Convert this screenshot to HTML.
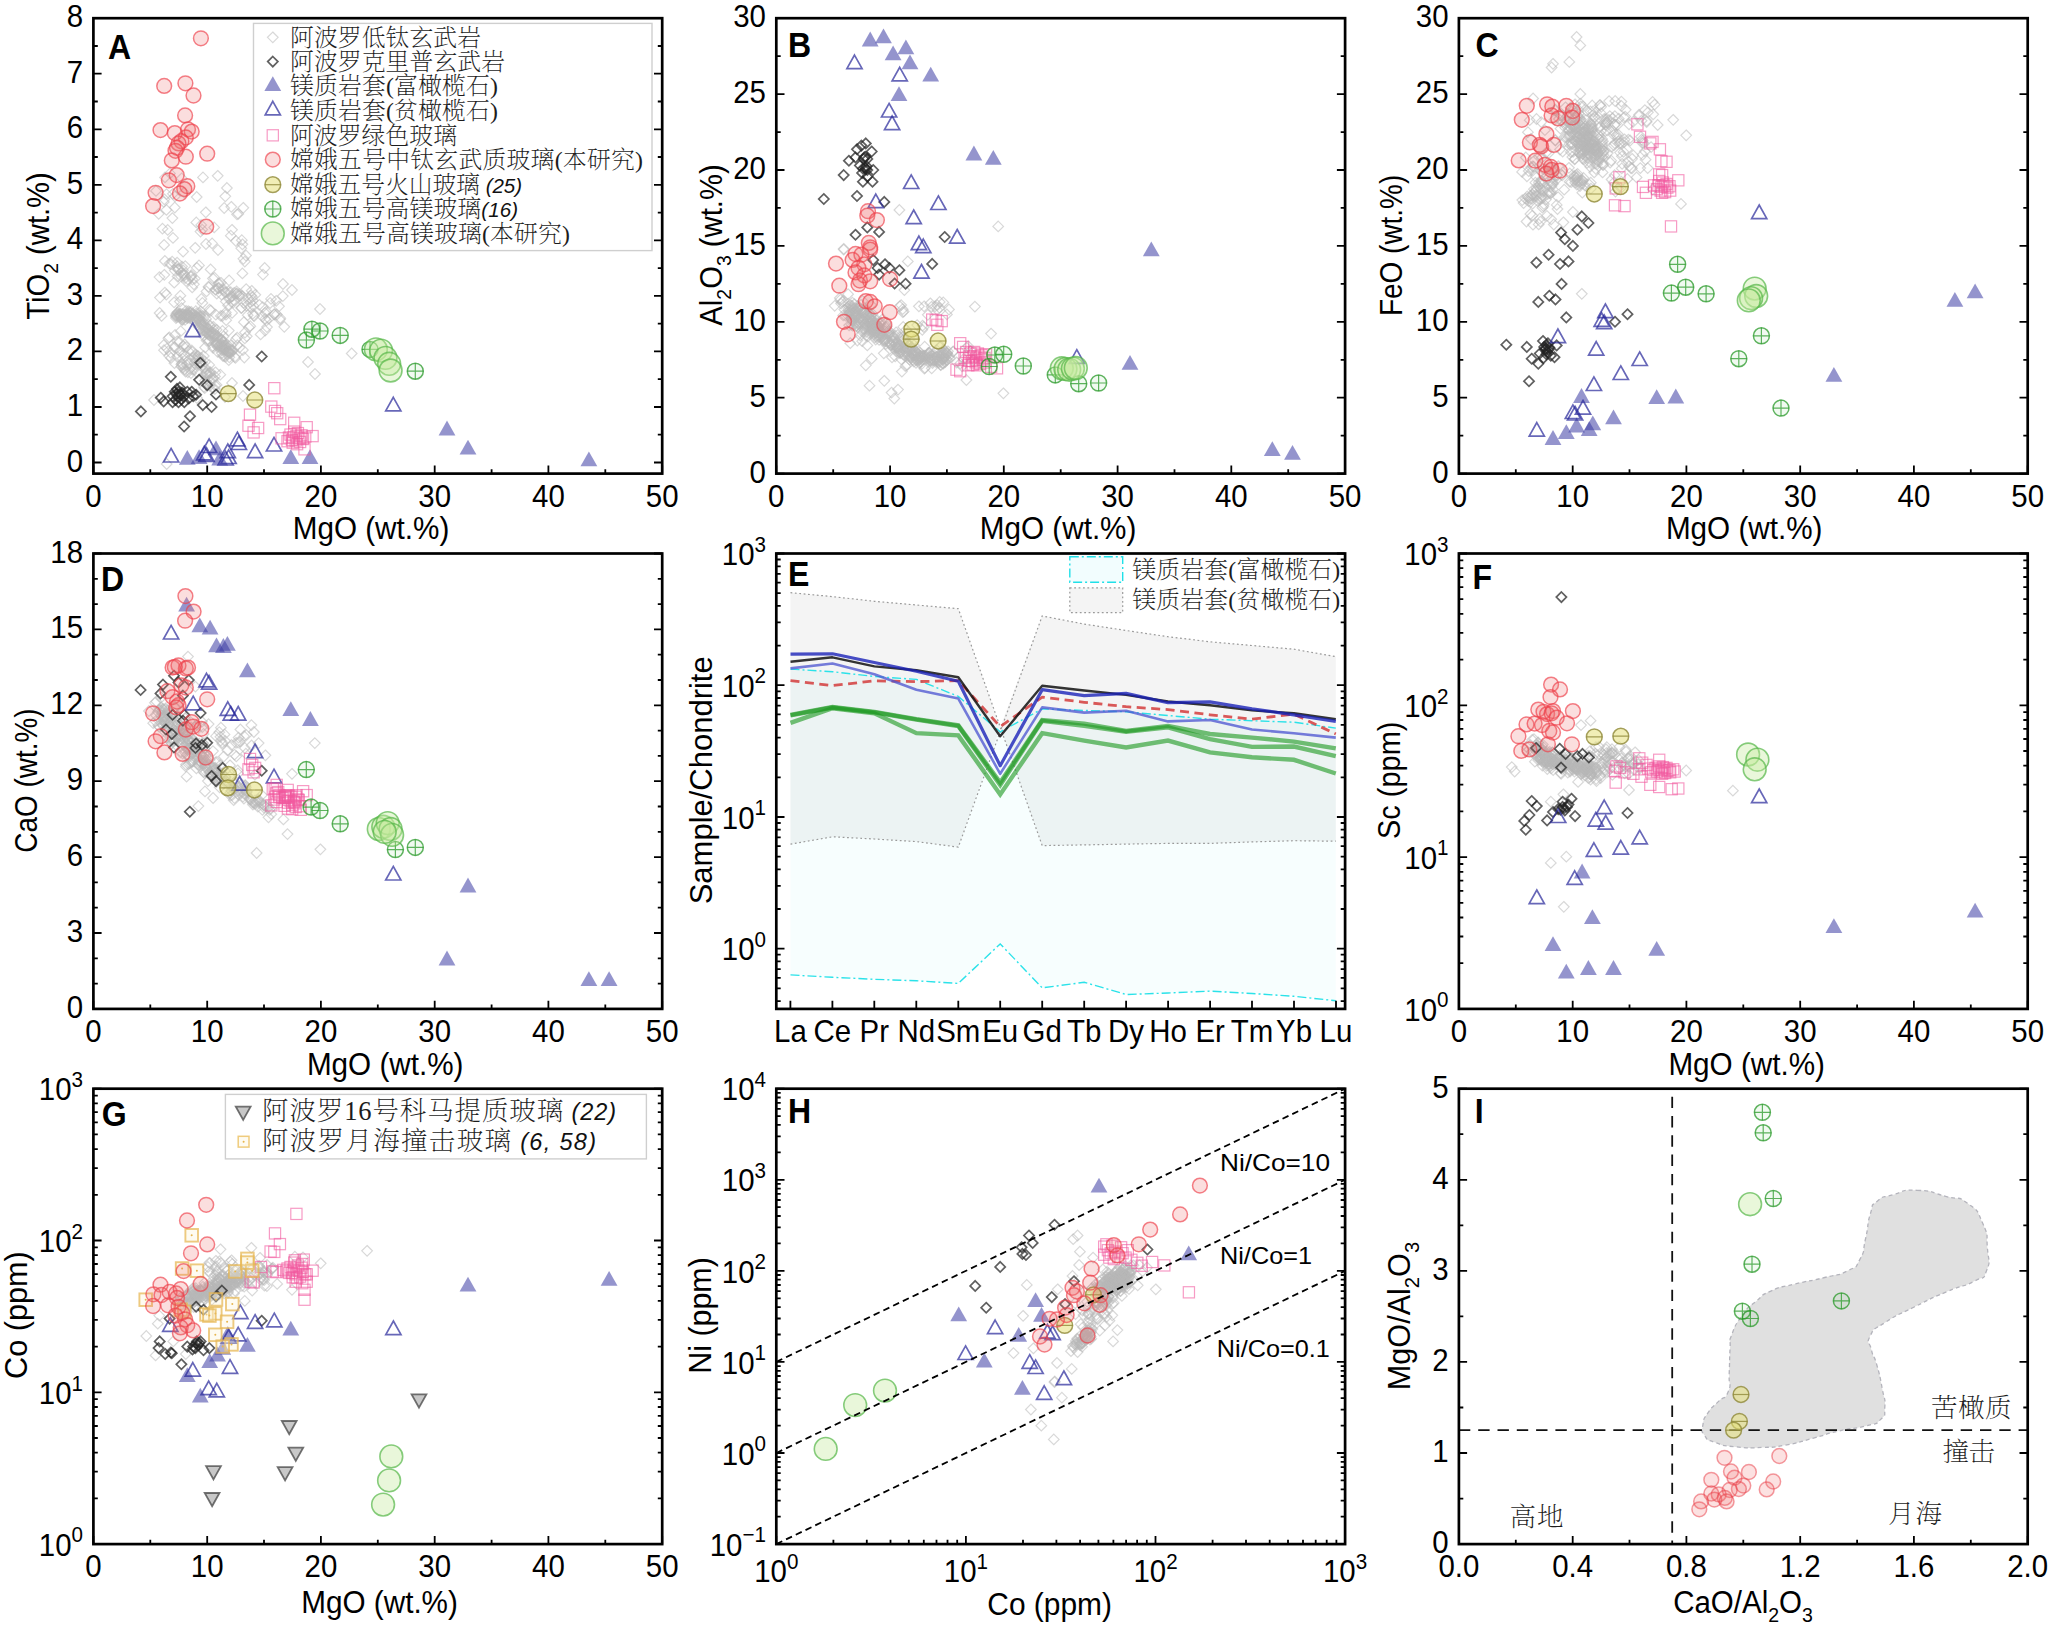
<!DOCTYPE html>
<html lang="zh"><head><meta charset="utf-8"><title>Figure</title>
<style>
html,body{margin:0;padding:0;background:#fff;}
svg{display:block}
.t{font-family:'Liberation Sans', sans-serif;font-size:31.0px;fill:#000}
.t2{font-family:'Liberation Sans', sans-serif;font-size:24.3px;fill:#000}
.L{font-family:'Liberation Sans', sans-serif;font-size:35.6px;font-weight:bold;fill:#000}
.c{font-family:'Liberation Serif', 'Noto Serif CJK SC', serif;font-size:23.8px;font-weight:200;fill:#1c1c1c}
.c2{font-family:'Liberation Serif', 'Noto Serif CJK SC', serif;font-size:26.5px;font-weight:200;fill:#1c1c1c}
.i2{font-family:'Liberation Sans', sans-serif;font-style:italic;font-size:23.5px;fill:#111}
.i{font-family:'Liberation Sans', sans-serif;font-style:italic;font-weight:400;font-size:20.5px;fill:#111}
</style></head><body>
<svg width="2048" height="1628" viewBox="0 0 2048 1628">
<rect width="2048" height="1628" fill="#fff"/>
<defs>
<path id="gd" d="M0-5.3L5.3 0L0 5.3L-5.3 0Z" fill="none" stroke="#b8b8b8" stroke-opacity="0.55" stroke-width="1.2"/>
<path id="dd" d="M0-5.1L5.1 0L0 5.1L-5.1 0Z" fill="none" stroke="#222" stroke-opacity="0.72" stroke-width="1.7"/>
<path id="ot" d="M0-9L7.6 4.6L-7.6 4.6Z" fill="none" stroke="#26269a" stroke-opacity="0.7" stroke-width="1.7"/>
<path id="ft" d="M0-9.6L8.4 5.2L-8.4 5.2Z" fill="#3c3ca4" fill-opacity="0.55" stroke="none"/>
<rect id="ps" x="-5.6" y="-5.6" width="11.2" height="11.2" fill="none" stroke="#f2589f" stroke-opacity="0.6" stroke-width="1.2"/>
<circle id="rc" r="7.4" fill="#ee6a6a" fill-opacity="0.22" stroke="#ee3f4a" stroke-opacity="0.66" stroke-width="1.5"/>
<g id="oc"><circle r="7.9" fill="#e6e07a" fill-opacity="0.55" stroke="#8f8838" stroke-opacity="0.8" stroke-width="1.5"/><path d="M-7.9 0H7.9" stroke="#8f8838" stroke-opacity="0.8" stroke-width="1.2"/></g>
<g id="gp"><circle r="8" fill="#8fd88f" fill-opacity="0.12" stroke="#2a9a2a" stroke-opacity="0.75" stroke-width="1.5"/><path d="M-8 0H8M0-8V8" stroke="#2a9a2a" stroke-opacity="0.75" stroke-width="1.2"/></g>
<circle id="rc2" r="7.4" fill="#ee6a6a" fill-opacity="0.2" stroke="#e93a44" stroke-opacity="0.5" stroke-width="1.5"/>
<circle id="bg" r="11.4" fill="#c6ea9e" fill-opacity="0.38" stroke="#55b648" stroke-opacity="0.7" stroke-width="1.6"/>
<path id="dt" d="M0 8.2L7.4-5L-7.4-5Z" fill="#9a9a9a" fill-opacity="0.55" stroke="#444" stroke-opacity="0.75" stroke-width="1.8"/>
<g id="ys"><rect x="-6.3" y="-6.3" width="12.6" height="12.6" fill="#fbf3d0" fill-opacity="0.3" stroke="#e6b650" stroke-opacity="0.72" stroke-width="1.9"/><circle r="1" fill="#e6b650"/></g>
<g id="ysl"><rect x="-5.4" y="-5.4" width="10.8" height="10.8" fill="#fbf3d0" fill-opacity="0.3" stroke="#e8b64a" stroke-opacity="0.7" stroke-width="1.5"/><circle r="1" fill="#e8b64a"/></g>
</defs>
<clipPath id="cpA"><rect x="93.4" y="18.2" width="568.8" height="455.4"/></clipPath><g clip-path="url(#cpA)">
<use href="#gd" x="196.3" y="222.4"/><use href="#gd" x="238.3" y="213.9"/><use href="#gd" x="201.2" y="224.9"/><use href="#gd" x="172.4" y="218.1"/><use href="#gd" x="212.1" y="243.4"/><use href="#gd" x="164.4" y="199.3"/><use href="#gd" x="164.1" y="244.9"/><use href="#gd" x="217.7" y="175.8"/><use href="#gd" x="243.4" y="258.8"/><use href="#gd" x="214.2" y="227.4"/><use href="#gd" x="170.0" y="173.4"/><use href="#gd" x="203.0" y="177.4"/><use href="#gd" x="172.9" y="193.8"/><use href="#gd" x="158.7" y="213.8"/><use href="#gd" x="195.2" y="247.8"/><use href="#gd" x="202.2" y="229.6"/><use href="#gd" x="200.5" y="231.6"/><use href="#gd" x="196.7" y="197.0"/><use href="#gd" x="244.8" y="261.6"/><use href="#gd" x="230.8" y="235.7"/><use href="#gd" x="184.1" y="192.7"/><use href="#gd" x="181.7" y="178.3"/><use href="#gd" x="224.2" y="208.0"/><use href="#gd" x="231.3" y="206.8"/><use href="#gd" x="241.3" y="248.3"/><use href="#gd" x="156.0" y="190.9"/><use href="#gd" x="237.0" y="214.3"/><use href="#gd" x="243.3" y="207.8"/><use href="#gd" x="162.5" y="228.7"/><use href="#gd" x="225.3" y="196.3"/><use href="#gd" x="163.8" y="201.9"/><use href="#gd" x="241.8" y="240.2"/><use href="#gd" x="166.5" y="194.2"/><use href="#gd" x="165.0" y="177.4"/><use href="#gd" x="226.9" y="188.0"/><use href="#gd" x="205.8" y="212.3"/><use href="#gd" x="173.0" y="237.9"/><use href="#gd" x="167.7" y="229.9"/><use href="#gd" x="166.4" y="209.9"/><use href="#gd" x="174.9" y="196.3"/><use href="#gd" x="242.4" y="244.3"/><use href="#gd" x="183.1" y="251.6"/><use href="#gd" x="174.8" y="207.5"/><use href="#gd" x="232.0" y="229.8"/><use href="#gd" x="164.9" y="261.0"/><use href="#gd" x="177.6" y="276.5"/><use href="#gd" x="229.1" y="280.4"/><use href="#gd" x="185.3" y="266.1"/><use href="#gd" x="166.3" y="294.6"/><use href="#gd" x="180.4" y="295.7"/><use href="#gd" x="192.2" y="287.4"/><use href="#gd" x="246.2" y="289.1"/><use href="#gd" x="210.9" y="310.5"/><use href="#gd" x="174.8" y="270.6"/><use href="#gd" x="241.6" y="307.8"/><use href="#gd" x="181.0" y="272.6"/><use href="#gd" x="226.0" y="314.7"/><use href="#gd" x="176.1" y="315.2"/><use href="#gd" x="239.2" y="295.8"/><use href="#gd" x="196.8" y="267.8"/><use href="#gd" x="161.6" y="315.9"/><use href="#gd" x="179.9" y="301.5"/><use href="#gd" x="181.6" y="308.1"/><use href="#gd" x="212.9" y="278.4"/><use href="#gd" x="174.1" y="302.3"/><use href="#gd" x="164.3" y="274.8"/><use href="#gd" x="209.5" y="309.7"/><use href="#gd" x="214.5" y="277.7"/><use href="#gd" x="242.4" y="273.4"/><use href="#gd" x="159.5" y="277.1"/><use href="#gd" x="199.0" y="265.4"/><use href="#gd" x="174.2" y="282.7"/><use href="#gd" x="210.6" y="269.4"/><use href="#gd" x="191.3" y="311.9"/><use href="#gd" x="248.2" y="298.8"/><use href="#gd" x="221.6" y="294.7"/><use href="#gd" x="170.9" y="264.0"/><use href="#gd" x="159.6" y="313.0"/><use href="#gd" x="222.5" y="315.9"/><use href="#gd" x="160.0" y="297.6"/><use href="#gd" x="202.4" y="302.9"/><use href="#gd" x="187.3" y="318.0"/><use href="#gd" x="164.9" y="292.6"/><use href="#gd" x="225.8" y="312.4"/><use href="#gd" x="225.8" y="301.4"/><use href="#gd" x="192.4" y="279.6"/><use href="#gd" x="191.4" y="275.2"/><use href="#gd" x="182.0" y="266.6"/><use href="#gd" x="183.4" y="273.4"/><use href="#gd" x="184.5" y="274.6"/><use href="#gd" x="191.1" y="276.4"/><use href="#gd" x="186.2" y="281.2"/><use href="#gd" x="181.2" y="276.6"/><use href="#gd" x="172.2" y="261.6"/><use href="#gd" x="184.1" y="275.8"/><use href="#gd" x="185.1" y="278.2"/><use href="#gd" x="193.9" y="284.3"/><use href="#gd" x="177.2" y="266.5"/><use href="#gd" x="177.1" y="262.6"/><use href="#gd" x="183.0" y="270.3"/><use href="#gd" x="188.1" y="279.5"/><use href="#gd" x="194.8" y="278.6"/><use href="#gd" x="178.3" y="269.0"/><use href="#gd" x="169.4" y="263.6"/><use href="#gd" x="190.8" y="276.8"/><use href="#gd" x="178.4" y="269.3"/><use href="#gd" x="177.7" y="269.4"/><use href="#gd" x="190.5" y="316.7"/><use href="#gd" x="200.7" y="316.5"/><use href="#gd" x="183.8" y="317.1"/><use href="#gd" x="177.2" y="312.9"/><use href="#gd" x="184.9" y="315.8"/><use href="#gd" x="179.9" y="316.3"/><use href="#gd" x="197.9" y="318.2"/><use href="#gd" x="176.3" y="314.1"/><use href="#gd" x="190.2" y="312.9"/><use href="#gd" x="200.3" y="315.4"/><use href="#gd" x="189.0" y="316.8"/><use href="#gd" x="188.5" y="314.9"/><use href="#gd" x="181.6" y="319.5"/><use href="#gd" x="186.9" y="313.8"/><use href="#gd" x="188.3" y="311.1"/><use href="#gd" x="182.8" y="314.4"/><use href="#gd" x="176.9" y="317.1"/><use href="#gd" x="197.4" y="319.2"/><use href="#gd" x="200.7" y="311.1"/><use href="#gd" x="187.6" y="315.1"/><use href="#gd" x="196.5" y="313.5"/><use href="#gd" x="196.2" y="321.9"/><use href="#gd" x="204.6" y="316.5"/><use href="#gd" x="194.4" y="321.7"/><use href="#gd" x="197.8" y="317.7"/><use href="#gd" x="184.0" y="315.1"/><use href="#gd" x="193.7" y="317.3"/><use href="#gd" x="179.1" y="314.6"/><use href="#gd" x="185.7" y="315.0"/><use href="#gd" x="176.7" y="315.7"/><use href="#gd" x="195.8" y="311.2"/><use href="#gd" x="190.3" y="316.2"/><use href="#gd" x="180.5" y="315.9"/><use href="#gd" x="193.3" y="314.4"/><use href="#gd" x="196.1" y="316.0"/><use href="#gd" x="189.6" y="311.9"/><use href="#gd" x="186.1" y="310.9"/><use href="#gd" x="188.6" y="315.8"/><use href="#gd" x="187.0" y="316.5"/><use href="#gd" x="180.7" y="315.5"/><use href="#gd" x="188.0" y="313.3"/><use href="#gd" x="188.9" y="315.6"/><use href="#gd" x="185.1" y="319.8"/><use href="#gd" x="199.7" y="319.7"/><use href="#gd" x="176.0" y="318.0"/><use href="#gd" x="197.4" y="317.2"/><use href="#gd" x="177.6" y="312.3"/><use href="#gd" x="180.3" y="315.6"/><use href="#gd" x="182.4" y="320.0"/><use href="#gd" x="182.9" y="319.1"/><use href="#gd" x="179.5" y="314.8"/><use href="#gd" x="189.8" y="318.2"/><use href="#gd" x="188.0" y="317.5"/><use href="#gd" x="185.9" y="316.1"/><use href="#gd" x="179.7" y="313.6"/><use href="#gd" x="192.3" y="313.8"/><use href="#gd" x="198.9" y="320.9"/><use href="#gd" x="199.0" y="315.6"/><use href="#gd" x="186.4" y="315.5"/><use href="#gd" x="203.0" y="316.1"/><use href="#gd" x="182.7" y="314.3"/><use href="#gd" x="180.7" y="313.8"/><use href="#gd" x="198.5" y="318.6"/><use href="#gd" x="195.8" y="316.9"/><use href="#gd" x="199.6" y="313.2"/><use href="#gd" x="175.7" y="316.0"/><use href="#gd" x="188.9" y="315.0"/><use href="#gd" x="179.3" y="316.5"/><use href="#gd" x="187.6" y="316.3"/><use href="#gd" x="181.3" y="317.7"/><use href="#gd" x="233.0" y="350.3"/><use href="#gd" x="208.4" y="324.7"/><use href="#gd" x="213.5" y="333.2"/><use href="#gd" x="210.0" y="335.9"/><use href="#gd" x="222.8" y="341.8"/><use href="#gd" x="227.3" y="354.1"/><use href="#gd" x="220.7" y="348.0"/><use href="#gd" x="202.9" y="324.4"/><use href="#gd" x="229.1" y="348.1"/><use href="#gd" x="224.2" y="349.2"/><use href="#gd" x="208.7" y="341.1"/><use href="#gd" x="224.2" y="356.4"/><use href="#gd" x="223.6" y="341.2"/><use href="#gd" x="216.6" y="329.8"/><use href="#gd" x="221.5" y="339.7"/><use href="#gd" x="211.2" y="332.6"/><use href="#gd" x="208.8" y="331.4"/><use href="#gd" x="206.9" y="328.4"/><use href="#gd" x="210.1" y="325.4"/><use href="#gd" x="206.9" y="327.7"/><use href="#gd" x="205.1" y="347.5"/><use href="#gd" x="217.6" y="337.9"/><use href="#gd" x="234.7" y="356.9"/><use href="#gd" x="222.2" y="350.1"/><use href="#gd" x="200.7" y="322.9"/><use href="#gd" x="201.2" y="328.8"/><use href="#gd" x="207.8" y="339.0"/><use href="#gd" x="221.3" y="340.0"/><use href="#gd" x="228.5" y="351.6"/><use href="#gd" x="230.1" y="349.7"/><use href="#gd" x="201.4" y="324.6"/><use href="#gd" x="213.5" y="336.6"/><use href="#gd" x="225.8" y="356.7"/><use href="#gd" x="216.0" y="343.3"/><use href="#gd" x="217.2" y="342.6"/><use href="#gd" x="221.5" y="346.5"/><use href="#gd" x="207.9" y="328.1"/><use href="#gd" x="217.6" y="351.8"/><use href="#gd" x="231.8" y="350.2"/><use href="#gd" x="235.4" y="357.9"/><use href="#gd" x="203.7" y="336.0"/><use href="#gd" x="198.6" y="326.4"/><use href="#gd" x="213.1" y="347.9"/><use href="#gd" x="223.7" y="348.9"/><use href="#gd" x="216.5" y="342.9"/><use href="#gd" x="198.1" y="319.7"/><use href="#gd" x="210.9" y="332.2"/><use href="#gd" x="203.7" y="326.6"/><use href="#gd" x="212.8" y="346.2"/><use href="#gd" x="229.2" y="352.8"/><use href="#gd" x="206.1" y="318.9"/><use href="#gd" x="217.0" y="344.3"/><use href="#gd" x="216.7" y="343.0"/><use href="#gd" x="218.9" y="340.6"/><use href="#gd" x="213.3" y="326.8"/><use href="#gd" x="228.1" y="352.6"/><use href="#gd" x="203.0" y="330.6"/><use href="#gd" x="200.2" y="321.7"/><use href="#gd" x="199.0" y="317.8"/><use href="#gd" x="216.3" y="345.2"/><use href="#gd" x="202.0" y="330.6"/><use href="#gd" x="227.1" y="351.4"/><use href="#gd" x="220.8" y="345.7"/><use href="#gd" x="202.8" y="327.4"/><use href="#gd" x="221.6" y="353.0"/><use href="#gd" x="228.8" y="360.2"/><use href="#gd" x="225.6" y="345.5"/><use href="#gd" x="215.5" y="336.1"/><use href="#gd" x="204.2" y="323.1"/><use href="#gd" x="212.9" y="334.4"/><use href="#gd" x="225.6" y="349.3"/><use href="#gd" x="222.2" y="345.2"/><use href="#gd" x="221.0" y="343.8"/><use href="#gd" x="199.5" y="327.6"/><use href="#gd" x="213.8" y="335.7"/><use href="#gd" x="223.4" y="336.5"/><use href="#gd" x="222.8" y="355.8"/><use href="#gd" x="206.7" y="332.8"/><use href="#gd" x="230.8" y="353.0"/><use href="#gd" x="207.9" y="334.4"/><use href="#gd" x="209.5" y="334.8"/><use href="#gd" x="217.8" y="336.2"/><use href="#gd" x="223.8" y="349.9"/><use href="#gd" x="225.0" y="345.8"/><use href="#gd" x="194.7" y="318.5"/><use href="#gd" x="221.3" y="339.2"/><use href="#gd" x="228.2" y="350.9"/><use href="#gd" x="225.1" y="349.4"/><use href="#gd" x="223.4" y="345.9"/><use href="#gd" x="222.2" y="346.9"/><use href="#gd" x="219.5" y="345.6"/><use href="#gd" x="217.9" y="347.1"/><use href="#gd" x="206.6" y="340.5"/><use href="#gd" x="216.2" y="344.4"/><use href="#gd" x="219.9" y="339.3"/><use href="#gd" x="213.7" y="329.8"/><use href="#gd" x="228.3" y="345.6"/><use href="#gd" x="231.7" y="351.5"/><use href="#gd" x="213.9" y="332.8"/><use href="#gd" x="210.3" y="335.3"/><use href="#gd" x="225.6" y="346.7"/><use href="#gd" x="204.5" y="327.8"/><use href="#gd" x="208.7" y="329.2"/><use href="#gd" x="211.7" y="333.1"/><use href="#gd" x="224.1" y="349.3"/><use href="#gd" x="207.1" y="332.4"/><use href="#gd" x="200.8" y="320.7"/><use href="#gd" x="205.6" y="331.5"/><use href="#gd" x="218.0" y="343.2"/><use href="#gd" x="209.8" y="333.7"/><use href="#gd" x="225.2" y="292.6"/><use href="#gd" x="241.2" y="308.0"/><use href="#gd" x="266.3" y="320.5"/><use href="#gd" x="268.9" y="318.7"/><use href="#gd" x="221.0" y="282.8"/><use href="#gd" x="231.7" y="296.5"/><use href="#gd" x="234.1" y="292.8"/><use href="#gd" x="230.7" y="292.1"/><use href="#gd" x="236.6" y="291.5"/><use href="#gd" x="250.7" y="307.1"/><use href="#gd" x="231.5" y="302.0"/><use href="#gd" x="236.8" y="293.7"/><use href="#gd" x="226.6" y="292.4"/><use href="#gd" x="266.3" y="311.6"/><use href="#gd" x="265.1" y="313.0"/><use href="#gd" x="228.4" y="291.4"/><use href="#gd" x="233.2" y="302.5"/><use href="#gd" x="250.2" y="302.4"/><use href="#gd" x="254.2" y="316.1"/><use href="#gd" x="218.7" y="284.2"/><use href="#gd" x="243.7" y="302.8"/><use href="#gd" x="262.4" y="316.6"/><use href="#gd" x="215.4" y="289.5"/><use href="#gd" x="252.9" y="313.6"/><use href="#gd" x="215.5" y="289.3"/><use href="#gd" x="274.4" y="314.3"/><use href="#gd" x="208.8" y="287.3"/><use href="#gd" x="223.2" y="290.3"/><use href="#gd" x="218.9" y="283.1"/><use href="#gd" x="222.7" y="288.7"/><use href="#gd" x="232.5" y="296.2"/><use href="#gd" x="228.9" y="298.7"/><use href="#gd" x="229.7" y="297.9"/><use href="#gd" x="236.7" y="293.7"/><use href="#gd" x="253.7" y="315.5"/><use href="#gd" x="218.7" y="287.6"/><use href="#gd" x="253.4" y="305.9"/><use href="#gd" x="239.4" y="293.9"/><use href="#gd" x="217.9" y="288.4"/><use href="#gd" x="218.6" y="288.3"/><use href="#gd" x="265.3" y="318.9"/><use href="#gd" x="252.8" y="300.5"/><use href="#gd" x="234.2" y="300.4"/><use href="#gd" x="208.5" y="286.7"/><use href="#gd" x="274.1" y="314.3"/><use href="#gd" x="251.7" y="290.8"/><use href="#gd" x="228.1" y="305.4"/><use href="#gd" x="255.3" y="294.8"/><use href="#gd" x="232.1" y="312.9"/><use href="#gd" x="267.0" y="327.1"/><use href="#gd" x="252.0" y="297.1"/><use href="#gd" x="265.2" y="330.6"/><use href="#gd" x="246.6" y="305.9"/><use href="#gd" x="242.5" y="296.4"/><use href="#gd" x="260.6" y="334.4"/><use href="#gd" x="243.9" y="322.2"/><use href="#gd" x="271.0" y="298.9"/><use href="#gd" x="280.3" y="318.2"/><use href="#gd" x="216.8" y="293.7"/><use href="#gd" x="220.8" y="315.9"/><use href="#gd" x="259.3" y="304.8"/><use href="#gd" x="279.0" y="306.3"/><use href="#gd" x="239.4" y="295.6"/><use href="#gd" x="282.8" y="296.1"/><use href="#gd" x="276.8" y="314.5"/><use href="#gd" x="247.7" y="315.2"/><use href="#gd" x="222.5" y="330.9"/><use href="#gd" x="284.3" y="326.8"/><use href="#gd" x="251.1" y="295.5"/><use href="#gd" x="270.1" y="303.0"/><use href="#gd" x="276.2" y="300.8"/><use href="#gd" x="248.8" y="327.4"/><use href="#gd" x="215.8" y="314.7"/><use href="#gd" x="206.5" y="291.4"/><use href="#gd" x="215.3" y="334.4"/><use href="#gd" x="279.9" y="319.6"/><use href="#gd" x="226.2" y="320.2"/><use href="#gd" x="262.7" y="307.2"/><use href="#gd" x="250.3" y="326.2"/><use href="#gd" x="201.4" y="299.0"/><use href="#gd" x="187.1" y="362.0"/><use href="#gd" x="183.2" y="367.7"/><use href="#gd" x="197.0" y="372.5"/><use href="#gd" x="191.0" y="373.2"/><use href="#gd" x="185.6" y="371.7"/><use href="#gd" x="205.0" y="367.7"/><use href="#gd" x="206.0" y="382.4"/><use href="#gd" x="183.8" y="354.5"/><use href="#gd" x="181.3" y="366.4"/><use href="#gd" x="186.4" y="347.1"/><use href="#gd" x="192.1" y="351.9"/><use href="#gd" x="209.2" y="364.9"/><use href="#gd" x="197.7" y="356.0"/><use href="#gd" x="181.4" y="364.5"/><use href="#gd" x="201.1" y="357.8"/><use href="#gd" x="182.5" y="358.6"/><use href="#gd" x="198.5" y="358.9"/><use href="#gd" x="205.6" y="369.5"/><use href="#gd" x="203.8" y="356.0"/><use href="#gd" x="179.7" y="351.1"/><use href="#gd" x="187.9" y="372.3"/><use href="#gd" x="196.2" y="364.8"/><use href="#gd" x="181.9" y="363.4"/><use href="#gd" x="189.7" y="363.3"/><use href="#gd" x="188.3" y="351.1"/><use href="#gd" x="192.5" y="369.6"/><use href="#gd" x="186.8" y="364.9"/><use href="#gd" x="210.0" y="373.7"/><use href="#gd" x="205.0" y="361.9"/><use href="#gd" x="198.3" y="356.4"/><use href="#gd" x="194.2" y="356.6"/><use href="#gd" x="191.8" y="350.5"/><use href="#gd" x="195.4" y="360.4"/><use href="#gd" x="193.2" y="357.9"/><use href="#gd" x="170.5" y="352.6"/><use href="#gd" x="198.7" y="363.4"/><use href="#gd" x="189.6" y="369.0"/><use href="#gd" x="209.7" y="372.7"/><use href="#gd" x="195.6" y="354.6"/><use href="#gd" x="184.6" y="369.7"/><use href="#gd" x="194.2" y="363.1"/><use href="#gd" x="198.2" y="358.7"/><use href="#gd" x="171.0" y="358.0"/><use href="#gd" x="202.1" y="362.6"/><use href="#gd" x="194.0" y="369.5"/><use href="#gd" x="220.3" y="374.7"/><use href="#gd" x="212.8" y="388.4"/><use href="#gd" x="204.9" y="380.9"/><use href="#gd" x="214.8" y="389.1"/><use href="#gd" x="213.0" y="378.1"/><use href="#gd" x="206.4" y="373.5"/><use href="#gd" x="210.4" y="376.2"/><use href="#gd" x="216.6" y="385.0"/><use href="#gd" x="204.0" y="386.9"/><use href="#gd" x="215.5" y="372.3"/><use href="#gd" x="215.1" y="385.5"/><use href="#gd" x="215.0" y="376.4"/><use href="#gd" x="212.8" y="380.1"/><use href="#gd" x="205.7" y="384.4"/><use href="#gd" x="210.3" y="380.8"/><use href="#gd" x="209.8" y="385.7"/><use href="#gd" x="210.5" y="372.1"/><use href="#gd" x="202.5" y="364.9"/><use href="#gd" x="205.3" y="373.7"/><use href="#gd" x="204.7" y="388.1"/><use href="#gd" x="206.6" y="372.3"/><use href="#gd" x="207.3" y="374.6"/><use href="#gd" x="184.6" y="344.3"/><use href="#gd" x="174.6" y="347.6"/><use href="#gd" x="164.0" y="350.2"/><use href="#gd" x="169.3" y="337.3"/><use href="#gd" x="180.7" y="331.2"/><use href="#gd" x="169.3" y="356.0"/><use href="#gd" x="168.4" y="338.3"/><use href="#gd" x="175.1" y="334.9"/><use href="#gd" x="182.7" y="364.5"/><use href="#gd" x="163.7" y="345.1"/><use href="#gd" x="179.5" y="342.2"/><use href="#gd" x="183.4" y="346.5"/><use href="#gd" x="167.0" y="348.6"/><use href="#gd" x="177.2" y="341.3"/><use href="#gd" x="177.5" y="357.0"/><use href="#gd" x="174.4" y="346.7"/><use href="#gd" x="181.6" y="353.3"/><use href="#gd" x="174.5" y="363.2"/><use href="#gd" x="229.3" y="357.3"/><use href="#gd" x="229.1" y="351.3"/><use href="#gd" x="230.9" y="345.4"/><use href="#gd" x="244.3" y="357.5"/><use href="#gd" x="244.8" y="338.3"/><use href="#gd" x="237.2" y="337.7"/><use href="#gd" x="239.5" y="347.5"/><use href="#gd" x="225.9" y="350.9"/><use href="#gd" x="242.9" y="350.0"/><use href="#gd" x="246.8" y="336.3"/><use href="#gd" x="228.8" y="330.6"/><use href="#gd" x="237.4" y="345.2"/><use href="#gd" x="236.0" y="339.2"/><use href="#gd" x="245.0" y="332.5"/><use href="#gd" x="320.0" y="309.0"/><use href="#gd" x="351.7" y="353.5"/><use href="#gd" x="308.0" y="362.0"/><use href="#gd" x="315.0" y="374.0"/><use href="#gd" x="283.0" y="284.0"/><use href="#gd" x="292.0" y="290.0"/><use href="#gd" x="264.7" y="268.0"/><use href="#gd" x="263.0" y="274.6"/><use href="#gd" x="246.0" y="255.5"/><use href="#gd" x="154.0" y="400.0"/><use href="#gd" x="166.7" y="464.0"/><use href="#gd" x="236.0" y="241.0"/><use href="#gd" x="206.0" y="244.0"/><use href="#gd" x="218.0" y="250.0"/><use href="#gd" x="225.0" y="397.0"/><use href="#gd" x="243.0" y="396.0"/><use href="#gd" x="197.0" y="398.0"/><use href="#gd" x="232.0" y="383.0"/>
<use href="#dd" x="140.9" y="411.4"/><use href="#dd" x="170.8" y="376.8"/><use href="#dd" x="200.3" y="362.7"/><use href="#dd" x="261.7" y="356.5"/><use href="#dd" x="199.1" y="379.8"/><use href="#dd" x="207.2" y="385.2"/><use href="#dd" x="249.2" y="384.9"/><use href="#dd" x="216.0" y="394.5"/><use href="#dd" x="202.8" y="405.1"/><use href="#dd" x="211.6" y="407.0"/><use href="#dd" x="190.0" y="416.2"/><use href="#dd" x="184.1" y="426.5"/><use href="#dd" x="160.8" y="397.7"/><use href="#dd" x="163.7" y="401.4"/><use href="#dd" x="172.6" y="396.3"/><use href="#dd" x="177.0" y="388.9"/><use href="#dd" x="178.5" y="391.8"/><use href="#dd" x="180.7" y="394.8"/><use href="#dd" x="175.5" y="400.0"/><use href="#dd" x="172.6" y="402.2"/><use href="#dd" x="184.3" y="396.3"/><use href="#dd" x="187.3" y="391.8"/><use href="#dd" x="191.7" y="391.8"/><use href="#dd" x="196.1" y="394.8"/><use href="#dd" x="181.4" y="399.2"/><use href="#dd" x="184.3" y="402.2"/><use href="#dd" x="178.5" y="402.2"/><use href="#dd" x="174.8" y="391.8"/><use href="#dd" x="179.9" y="387.4"/><use href="#dd" x="179.2" y="394.1"/><use href="#dd" x="177.7" y="396.3"/><use href="#dd" x="182.1" y="392.6"/><use href="#dd" x="176.2" y="394.1"/><use href="#dd" x="193.2" y="396.3"/><use href="#dd" x="188.8" y="398.5"/>
<use href="#ft" x="187.3" y="459.6"/><use href="#ft" x="199.1" y="458.9"/><use href="#ft" x="216.0" y="450.1"/><use href="#ft" x="219.7" y="460.4"/><use href="#ft" x="290.8" y="458.9"/><use href="#ft" x="310.0" y="458.9"/><use href="#ft" x="447.0" y="430.2"/><use href="#ft" x="468.0" y="449.3"/><use href="#ft" x="588.9" y="461.1"/>
<use href="#ot" x="192.8" y="332.1"/><use href="#ot" x="171.1" y="457.4"/><use href="#ot" x="209.1" y="447.9"/><use href="#ot" x="206.5" y="456.7"/><use href="#ot" x="204.3" y="455.2"/><use href="#ot" x="227.8" y="453.0"/><use href="#ot" x="228.6" y="458.9"/><use href="#ot" x="237.4" y="441.2"/><use href="#ot" x="238.9" y="444.9"/><use href="#ot" x="255.1" y="453.0"/><use href="#ot" x="274.0" y="446.4"/><use href="#ot" x="225.6" y="460.4"/><use href="#ot" x="393.3" y="406.3"/>
<use href="#ps" x="274.3" y="388.2"/><use href="#ps" x="250.0" y="414.7"/><use href="#ps" x="271.3" y="406.6"/><use href="#ps" x="248.5" y="425.7"/><use href="#ps" x="258.1" y="428.0"/><use href="#ps" x="253.6" y="432.4"/><use href="#ps" x="280.2" y="419.1"/><use href="#ps" x="275.0" y="411.0"/><use href="#ps" x="277.2" y="413.2"/><use href="#ps" x="294.2" y="422.8"/><use href="#ps" x="306.7" y="427.2"/><use href="#ps" x="312.6" y="436.1"/><use href="#ps" x="304.5" y="449.3"/><use href="#ps" x="281.6" y="438.3"/><use href="#ps" x="290.5" y="434.6"/><use href="#ps" x="293.4" y="437.5"/><use href="#ps" x="296.4" y="436.1"/><use href="#ps" x="299.3" y="438.3"/><use href="#ps" x="295.7" y="440.5"/><use href="#ps" x="292.0" y="439.8"/><use href="#ps" x="297.9" y="433.1"/><use href="#ps" x="301.5" y="435.3"/><use href="#ps" x="303.0" y="439.0"/><use href="#ps" x="294.2" y="431.6"/><use href="#ps" x="289.0" y="437.5"/><use href="#ps" x="300.1" y="442.0"/><use href="#ps" x="297.1" y="444.2"/><use href="#ps" x="292.7" y="442.7"/><use href="#ps" x="305.2" y="436.8"/><use href="#ps" x="287.5" y="441.2"/>
<use href="#rc" x="200.9" y="38.3"/><use href="#rc" x="164.2" y="85.9"/><use href="#rc" x="185.4" y="83.3"/><use href="#rc" x="193.5" y="95.5"/><use href="#rc" x="185.1" y="115.4"/><use href="#rc" x="160.5" y="130.1"/><use href="#rc" x="174.8" y="133.1"/><use href="#rc" x="188.0" y="129.4"/><use href="#rc" x="191.7" y="131.6"/><use href="#rc" x="185.8" y="137.5"/><use href="#rc" x="181.4" y="141.2"/><use href="#rc" x="178.5" y="143.4"/><use href="#rc" x="177.0" y="147.8"/><use href="#rc" x="175.5" y="150.8"/><use href="#rc" x="185.8" y="156.7"/><use href="#rc" x="171.8" y="160.4"/><use href="#rc" x="207.2" y="153.7"/><use href="#rc" x="176.7" y="175.1"/><use href="#rc" x="168.9" y="180.3"/><use href="#rc" x="187.3" y="186.2"/><use href="#rc" x="184.3" y="189.1"/><use href="#rc" x="179.9" y="193.5"/><use href="#rc" x="155.6" y="192.8"/><use href="#rc" x="153.1" y="206.1"/><use href="#rc" x="206.2" y="226.7"/>
<use href="#oc" x="228.3" y="393.6"/><use href="#oc" x="254.8" y="400.0"/>
<use href="#gp" x="306.4" y="340.0"/><use href="#gp" x="311.9" y="329.2"/><use href="#gp" x="320.0" y="331.0"/><use href="#gp" x="340.2" y="335.4"/><use href="#gp" x="415.3" y="371.2"/><use href="#gp" x="370.0" y="349.4"/>
<use href="#bg" x="375.9" y="349.4"/><use href="#bg" x="381.1" y="350.6"/><use href="#bg" x="385.5" y="357.9"/><use href="#bg" x="389.2" y="363.8"/><use href="#bg" x="390.6" y="370.5"/>
</g>
<rect x="253.5" y="23.4" width="398.5" height="227.2" fill="#fff" fill-opacity="0.8" stroke="#cfcfcf" stroke-width="1.4"/>
<use href="#gd" x="272.8" y="37.3"/>
<text x="290.0" y="45.6" class="c" textLength="191" lengthAdjust="spacing">阿波罗低钛玄武岩</text>
<use href="#dd" x="272.8" y="61.6"/>
<text x="290.0" y="69.9" class="c" textLength="215" lengthAdjust="spacing">阿波罗克里普玄武岩</text>
<use href="#ft" x="272.8" y="85.9"/>
<text x="290.0" y="94.2" class="c" textLength="208" lengthAdjust="spacing">镁质岩套(富橄榄石)</text>
<use href="#ot" x="272.8" y="110.3"/>
<text x="290.0" y="118.6" class="c" textLength="208" lengthAdjust="spacing">镁质岩套(贫橄榄石)</text>
<use href="#ps" x="272.8" y="135.3"/>
<text x="290.0" y="143.6" class="c" textLength="167" lengthAdjust="spacing">阿波罗绿色玻璃</text>
<use href="#rc" x="272.8" y="159.6"/>
<text x="290.0" y="167.9" class="c" textLength="353" lengthAdjust="spacing">嫦娥五号中钛玄武质玻璃(本研究)</text>
<use href="#oc" x="272.8" y="184.7"/>
<text x="290.0" y="193.0" class="c" textLength="232" lengthAdjust="spacing">嫦娥五号火山玻璃 <tspan class="i">(25)</tspan></text>
<use href="#gp" x="272.8" y="209.0"/>
<text x="290.0" y="217.3" class="c" textLength="228" lengthAdjust="spacing">嫦娥五号高镁玻璃<tspan class="i">(16)</tspan></text>
<use href="#bg" x="272.8" y="233.4"/>
<text x="290.0" y="241.7" class="c" textLength="280" lengthAdjust="spacing">嫦娥五号高镁玻璃(本研究)</text>
<clipPath id="cpB"><rect x="776.3" y="18.2" width="568.8" height="455.4"/></clipPath><g clip-path="url(#cpB)">
<use href="#gd" x="876.5" y="325.2"/><use href="#gd" x="862.9" y="314.0"/><use href="#gd" x="869.9" y="313.4"/><use href="#gd" x="882.4" y="335.7"/><use href="#gd" x="855.1" y="315.0"/><use href="#gd" x="919.5" y="358.4"/><use href="#gd" x="851.3" y="305.7"/><use href="#gd" x="876.5" y="327.0"/><use href="#gd" x="857.5" y="306.1"/><use href="#gd" x="866.8" y="309.9"/><use href="#gd" x="853.3" y="313.4"/><use href="#gd" x="867.3" y="320.7"/><use href="#gd" x="899.1" y="344.6"/><use href="#gd" x="899.9" y="353.2"/><use href="#gd" x="884.1" y="338.9"/><use href="#gd" x="848.1" y="294.2"/><use href="#gd" x="912.8" y="354.5"/><use href="#gd" x="870.2" y="318.4"/><use href="#gd" x="856.3" y="317.1"/><use href="#gd" x="885.5" y="327.9"/><use href="#gd" x="852.4" y="302.6"/><use href="#gd" x="884.8" y="339.4"/><use href="#gd" x="875.1" y="324.6"/><use href="#gd" x="889.5" y="342.9"/><use href="#gd" x="849.7" y="312.7"/><use href="#gd" x="897.4" y="342.2"/><use href="#gd" x="861.2" y="323.1"/><use href="#gd" x="901.3" y="359.3"/><use href="#gd" x="864.0" y="312.8"/><use href="#gd" x="861.0" y="304.8"/><use href="#gd" x="847.4" y="315.2"/><use href="#gd" x="871.6" y="325.1"/><use href="#gd" x="839.8" y="298.0"/><use href="#gd" x="915.8" y="359.9"/><use href="#gd" x="872.5" y="313.9"/><use href="#gd" x="892.9" y="346.8"/><use href="#gd" x="878.1" y="328.9"/><use href="#gd" x="915.8" y="355.2"/><use href="#gd" x="871.0" y="318.7"/><use href="#gd" x="905.1" y="356.2"/><use href="#gd" x="897.6" y="348.2"/><use href="#gd" x="862.3" y="312.5"/><use href="#gd" x="861.2" y="309.6"/><use href="#gd" x="851.3" y="324.8"/><use href="#gd" x="878.4" y="328.0"/><use href="#gd" x="914.7" y="352.6"/><use href="#gd" x="896.1" y="332.4"/><use href="#gd" x="885.2" y="341.4"/><use href="#gd" x="897.9" y="345.4"/><use href="#gd" x="904.6" y="339.1"/><use href="#gd" x="915.4" y="351.0"/><use href="#gd" x="900.7" y="350.2"/><use href="#gd" x="867.8" y="336.3"/><use href="#gd" x="888.5" y="341.3"/><use href="#gd" x="848.7" y="311.0"/><use href="#gd" x="875.3" y="332.6"/><use href="#gd" x="869.2" y="320.8"/><use href="#gd" x="851.2" y="318.3"/><use href="#gd" x="893.9" y="336.8"/><use href="#gd" x="879.1" y="326.9"/><use href="#gd" x="881.9" y="336.9"/><use href="#gd" x="871.9" y="329.0"/><use href="#gd" x="918.0" y="357.2"/><use href="#gd" x="869.0" y="326.4"/><use href="#gd" x="868.6" y="314.9"/><use href="#gd" x="899.2" y="348.7"/><use href="#gd" x="892.0" y="335.5"/><use href="#gd" x="885.7" y="323.1"/><use href="#gd" x="855.1" y="316.2"/><use href="#gd" x="871.7" y="320.5"/><use href="#gd" x="907.7" y="355.9"/><use href="#gd" x="871.7" y="320.4"/><use href="#gd" x="879.6" y="336.4"/><use href="#gd" x="858.4" y="319.8"/><use href="#gd" x="874.4" y="322.3"/><use href="#gd" x="874.2" y="318.7"/><use href="#gd" x="882.6" y="319.1"/><use href="#gd" x="875.4" y="328.6"/><use href="#gd" x="899.1" y="345.8"/><use href="#gd" x="873.5" y="325.5"/><use href="#gd" x="872.3" y="331.5"/><use href="#gd" x="876.7" y="324.6"/><use href="#gd" x="861.7" y="330.9"/><use href="#gd" x="893.4" y="337.5"/><use href="#gd" x="910.4" y="348.8"/><use href="#gd" x="897.7" y="348.3"/><use href="#gd" x="909.5" y="349.6"/><use href="#gd" x="913.1" y="354.2"/><use href="#gd" x="850.4" y="309.4"/><use href="#gd" x="896.4" y="347.9"/><use href="#gd" x="856.8" y="325.5"/><use href="#gd" x="896.2" y="343.5"/><use href="#gd" x="879.0" y="337.0"/><use href="#gd" x="894.9" y="335.3"/><use href="#gd" x="884.6" y="341.8"/><use href="#gd" x="869.4" y="330.2"/><use href="#gd" x="895.2" y="356.3"/><use href="#gd" x="886.8" y="326.3"/><use href="#gd" x="911.7" y="352.6"/><use href="#gd" x="869.2" y="322.5"/><use href="#gd" x="907.2" y="352.7"/><use href="#gd" x="857.0" y="312.7"/><use href="#gd" x="848.6" y="309.0"/><use href="#gd" x="885.2" y="334.0"/><use href="#gd" x="914.0" y="345.2"/><use href="#gd" x="851.6" y="319.3"/><use href="#gd" x="883.2" y="340.1"/><use href="#gd" x="872.9" y="327.7"/><use href="#gd" x="870.7" y="322.8"/><use href="#gd" x="922.6" y="356.7"/><use href="#gd" x="909.6" y="359.7"/><use href="#gd" x="905.5" y="351.3"/><use href="#gd" x="849.7" y="312.6"/><use href="#gd" x="902.5" y="337.7"/><use href="#gd" x="863.8" y="331.4"/><use href="#gd" x="912.9" y="359.8"/><use href="#gd" x="886.3" y="338.6"/><use href="#gd" x="858.5" y="323.2"/><use href="#gd" x="844.3" y="309.6"/><use href="#gd" x="899.3" y="351.6"/><use href="#gd" x="854.5" y="304.2"/><use href="#gd" x="853.2" y="313.3"/><use href="#gd" x="884.6" y="340.3"/><use href="#gd" x="877.1" y="325.1"/><use href="#gd" x="879.6" y="333.9"/><use href="#gd" x="876.9" y="332.0"/><use href="#gd" x="866.1" y="335.7"/><use href="#gd" x="864.7" y="328.6"/><use href="#gd" x="867.9" y="326.7"/><use href="#gd" x="851.9" y="307.9"/><use href="#gd" x="871.0" y="304.9"/><use href="#gd" x="897.1" y="347.3"/><use href="#gd" x="869.6" y="318.1"/><use href="#gd" x="856.8" y="310.9"/><use href="#gd" x="875.7" y="339.6"/><use href="#gd" x="884.4" y="328.8"/><use href="#gd" x="874.9" y="337.5"/><use href="#gd" x="900.3" y="352.9"/><use href="#gd" x="890.5" y="345.2"/><use href="#gd" x="889.4" y="334.5"/><use href="#gd" x="880.0" y="324.2"/><use href="#gd" x="892.0" y="357.3"/><use href="#gd" x="916.0" y="362.8"/><use href="#gd" x="875.5" y="332.4"/><use href="#gd" x="878.1" y="328.9"/><use href="#gd" x="855.0" y="315.2"/><use href="#gd" x="858.9" y="308.2"/><use href="#gd" x="872.1" y="325.3"/><use href="#gd" x="859.5" y="324.1"/><use href="#gd" x="916.6" y="352.5"/><use href="#gd" x="877.6" y="336.4"/><use href="#gd" x="892.1" y="344.4"/><use href="#gd" x="854.9" y="317.7"/><use href="#gd" x="853.0" y="309.6"/><use href="#gd" x="909.8" y="344.9"/><use href="#gd" x="884.1" y="330.4"/><use href="#gd" x="871.1" y="326.6"/><use href="#gd" x="904.9" y="354.8"/><use href="#gd" x="911.3" y="347.5"/><use href="#gd" x="888.4" y="331.3"/><use href="#gd" x="919.3" y="356.0"/><use href="#gd" x="873.0" y="323.5"/><use href="#gd" x="855.4" y="323.0"/><use href="#gd" x="890.6" y="345.0"/><use href="#gd" x="899.9" y="337.1"/><use href="#gd" x="872.6" y="327.7"/><use href="#gd" x="870.2" y="316.4"/><use href="#gd" x="855.5" y="311.9"/><use href="#gd" x="911.5" y="357.5"/><use href="#gd" x="914.2" y="339.6"/><use href="#gd" x="857.2" y="322.5"/><use href="#gd" x="860.2" y="317.8"/><use href="#gd" x="903.7" y="338.8"/><use href="#gd" x="867.9" y="315.9"/><use href="#gd" x="866.9" y="316.1"/><use href="#gd" x="877.7" y="328.7"/><use href="#gd" x="873.6" y="334.4"/><use href="#gd" x="870.1" y="332.2"/><use href="#gd" x="907.3" y="364.9"/><use href="#gd" x="871.4" y="322.3"/><use href="#gd" x="876.9" y="320.0"/><use href="#gd" x="897.5" y="346.7"/><use href="#gd" x="917.2" y="359.1"/><use href="#gd" x="881.0" y="322.2"/><use href="#gd" x="917.9" y="354.4"/><use href="#gd" x="910.2" y="356.8"/><use href="#gd" x="919.8" y="352.6"/><use href="#gd" x="882.2" y="335.4"/><use href="#gd" x="857.6" y="312.9"/><use href="#gd" x="915.5" y="351.8"/><use href="#gd" x="885.7" y="344.2"/><use href="#gd" x="906.7" y="343.2"/><use href="#gd" x="892.1" y="340.9"/><use href="#gd" x="877.7" y="332.4"/><use href="#gd" x="859.2" y="318.6"/><use href="#gd" x="883.8" y="353.3"/><use href="#gd" x="889.7" y="342.4"/><use href="#gd" x="879.1" y="339.9"/><use href="#gd" x="906.6" y="349.2"/><use href="#gd" x="854.9" y="313.0"/><use href="#gd" x="867.7" y="321.9"/><use href="#gd" x="863.4" y="312.6"/><use href="#gd" x="910.6" y="355.9"/><use href="#gd" x="906.5" y="351.6"/><use href="#gd" x="894.9" y="347.6"/><use href="#gd" x="884.7" y="331.2"/><use href="#gd" x="863.3" y="319.7"/><use href="#gd" x="907.2" y="354.5"/><use href="#gd" x="857.5" y="327.3"/><use href="#gd" x="906.0" y="348.6"/><use href="#gd" x="852.2" y="305.9"/><use href="#gd" x="852.3" y="320.9"/><use href="#gd" x="871.1" y="320.2"/><use href="#gd" x="848.3" y="303.6"/><use href="#gd" x="870.1" y="327.5"/><use href="#gd" x="915.0" y="350.3"/><use href="#gd" x="856.0" y="314.6"/><use href="#gd" x="903.8" y="348.3"/><use href="#gd" x="873.9" y="323.3"/><use href="#gd" x="852.4" y="321.2"/><use href="#gd" x="865.7" y="317.6"/><use href="#gd" x="896.8" y="347.6"/><use href="#gd" x="903.3" y="342.3"/><use href="#gd" x="905.4" y="366.2"/><use href="#gd" x="913.5" y="355.3"/><use href="#gd" x="863.3" y="310.6"/><use href="#gd" x="866.4" y="314.0"/><use href="#gd" x="848.8" y="306.5"/><use href="#gd" x="870.9" y="315.1"/><use href="#gd" x="912.0" y="350.0"/><use href="#gd" x="891.5" y="337.0"/><use href="#gd" x="856.7" y="309.0"/><use href="#gd" x="875.4" y="322.1"/><use href="#gd" x="903.3" y="354.7"/><use href="#gd" x="908.3" y="348.4"/><use href="#gd" x="866.2" y="325.8"/><use href="#gd" x="898.5" y="347.0"/><use href="#gd" x="857.5" y="314.9"/><use href="#gd" x="922.0" y="359.6"/><use href="#gd" x="870.8" y="329.6"/><use href="#gd" x="851.8" y="313.7"/><use href="#gd" x="860.0" y="318.2"/><use href="#gd" x="907.0" y="343.8"/><use href="#gd" x="899.3" y="348.3"/><use href="#gd" x="912.6" y="351.5"/><use href="#gd" x="859.6" y="307.5"/><use href="#gd" x="857.4" y="323.9"/><use href="#gd" x="892.8" y="340.8"/><use href="#gd" x="896.2" y="351.3"/><use href="#gd" x="860.1" y="318.9"/><use href="#gd" x="878.7" y="331.8"/><use href="#gd" x="880.1" y="331.2"/><use href="#gd" x="888.7" y="334.2"/><use href="#gd" x="897.4" y="335.2"/><use href="#gd" x="854.7" y="317.5"/><use href="#gd" x="853.9" y="308.7"/><use href="#gd" x="909.1" y="345.7"/><use href="#gd" x="862.6" y="300.9"/><use href="#gd" x="895.1" y="344.4"/><use href="#gd" x="885.4" y="326.6"/><use href="#gd" x="930.7" y="361.1"/><use href="#gd" x="943.7" y="355.0"/><use href="#gd" x="927.6" y="355.7"/><use href="#gd" x="926.7" y="357.0"/><use href="#gd" x="921.1" y="361.8"/><use href="#gd" x="940.7" y="362.2"/><use href="#gd" x="944.3" y="357.8"/><use href="#gd" x="933.5" y="360.0"/><use href="#gd" x="921.5" y="355.8"/><use href="#gd" x="944.1" y="356.2"/><use href="#gd" x="949.3" y="356.2"/><use href="#gd" x="956.7" y="362.5"/><use href="#gd" x="943.5" y="363.5"/><use href="#gd" x="930.5" y="359.5"/><use href="#gd" x="929.0" y="352.8"/><use href="#gd" x="913.0" y="354.9"/><use href="#gd" x="941.4" y="355.4"/><use href="#gd" x="924.9" y="367.8"/><use href="#gd" x="920.9" y="358.5"/><use href="#gd" x="929.3" y="357.7"/><use href="#gd" x="933.4" y="354.3"/><use href="#gd" x="932.5" y="363.0"/><use href="#gd" x="917.7" y="354.3"/><use href="#gd" x="920.5" y="356.6"/><use href="#gd" x="924.4" y="368.7"/><use href="#gd" x="919.4" y="359.5"/><use href="#gd" x="947.9" y="351.3"/><use href="#gd" x="936.5" y="357.0"/><use href="#gd" x="930.1" y="360.6"/><use href="#gd" x="932.8" y="361.4"/><use href="#gd" x="939.0" y="356.8"/><use href="#gd" x="919.5" y="363.0"/><use href="#gd" x="940.9" y="365.0"/><use href="#gd" x="931.4" y="358.7"/><use href="#gd" x="928.3" y="352.9"/><use href="#gd" x="928.1" y="358.1"/><use href="#gd" x="932.3" y="355.1"/><use href="#gd" x="932.7" y="360.1"/><use href="#gd" x="941.9" y="358.3"/><use href="#gd" x="932.5" y="356.3"/><use href="#gd" x="945.2" y="362.0"/><use href="#gd" x="941.5" y="352.8"/><use href="#gd" x="924.7" y="355.6"/><use href="#gd" x="939.7" y="346.8"/><use href="#gd" x="917.0" y="360.6"/><use href="#gd" x="938.4" y="362.1"/><use href="#gd" x="937.8" y="360.3"/><use href="#gd" x="942.7" y="359.6"/><use href="#gd" x="923.7" y="355.8"/><use href="#gd" x="924.7" y="346.7"/><use href="#gd" x="920.7" y="356.6"/><use href="#gd" x="943.7" y="349.7"/><use href="#gd" x="942.7" y="363.4"/><use href="#gd" x="911.5" y="354.4"/><use href="#gd" x="919.9" y="359.7"/><use href="#gd" x="937.0" y="361.3"/><use href="#gd" x="946.9" y="353.9"/><use href="#gd" x="943.5" y="352.7"/><use href="#gd" x="947.1" y="359.9"/><use href="#gd" x="946.3" y="358.7"/><use href="#gd" x="927.8" y="354.1"/><use href="#gd" x="923.6" y="356.4"/><use href="#gd" x="943.6" y="357.9"/><use href="#gd" x="936.6" y="356.8"/><use href="#gd" x="913.9" y="361.5"/><use href="#gd" x="929.5" y="352.8"/><use href="#gd" x="944.2" y="353.2"/><use href="#gd" x="946.7" y="352.7"/><use href="#gd" x="936.7" y="359.9"/><use href="#gd" x="924.5" y="359.6"/><use href="#gd" x="943.0" y="352.6"/><use href="#gd" x="932.2" y="358.5"/><use href="#gd" x="935.4" y="358.7"/><use href="#gd" x="938.6" y="362.4"/><use href="#gd" x="942.0" y="358.7"/><use href="#gd" x="947.2" y="353.6"/><use href="#gd" x="917.4" y="358.3"/><use href="#gd" x="946.8" y="353.1"/><use href="#gd" x="933.4" y="359.9"/><use href="#gd" x="939.3" y="354.8"/><use href="#gd" x="949.7" y="358.1"/><use href="#gd" x="943.1" y="359.0"/><use href="#gd" x="929.8" y="356.3"/><use href="#gd" x="915.6" y="356.0"/><use href="#gd" x="940.5" y="364.8"/><use href="#gd" x="923.2" y="356.0"/><use href="#gd" x="917.1" y="359.6"/><use href="#gd" x="939.2" y="360.5"/><use href="#gd" x="921.4" y="357.8"/><use href="#gd" x="953.2" y="351.4"/><use href="#gd" x="861.0" y="309.3"/><use href="#gd" x="874.7" y="330.5"/><use href="#gd" x="876.0" y="327.0"/><use href="#gd" x="867.5" y="316.2"/><use href="#gd" x="852.4" y="308.4"/><use href="#gd" x="856.2" y="308.7"/><use href="#gd" x="878.3" y="334.8"/><use href="#gd" x="879.6" y="322.8"/><use href="#gd" x="869.6" y="324.1"/><use href="#gd" x="843.4" y="300.9"/><use href="#gd" x="851.7" y="314.0"/><use href="#gd" x="849.7" y="313.3"/><use href="#gd" x="872.6" y="327.5"/><use href="#gd" x="865.6" y="326.4"/><use href="#gd" x="866.0" y="315.2"/><use href="#gd" x="857.3" y="340.5"/><use href="#gd" x="865.1" y="313.2"/><use href="#gd" x="862.2" y="341.2"/><use href="#gd" x="890.0" y="331.7"/><use href="#gd" x="849.1" y="325.3"/><use href="#gd" x="866.9" y="328.9"/><use href="#gd" x="840.5" y="299.7"/><use href="#gd" x="863.4" y="329.1"/><use href="#gd" x="843.2" y="315.4"/><use href="#gd" x="875.7" y="336.1"/><use href="#gd" x="834.7" y="305.8"/><use href="#gd" x="856.6" y="312.6"/><use href="#gd" x="841.1" y="303.6"/><use href="#gd" x="856.5" y="325.8"/><use href="#gd" x="866.1" y="332.0"/><use href="#gd" x="869.7" y="333.8"/><use href="#gd" x="845.3" y="315.7"/><use href="#gd" x="883.1" y="333.2"/><use href="#gd" x="852.8" y="325.7"/><use href="#gd" x="873.3" y="325.3"/><use href="#gd" x="860.3" y="335.5"/><use href="#gd" x="873.9" y="326.4"/><use href="#gd" x="862.1" y="324.4"/><use href="#gd" x="863.0" y="317.9"/><use href="#gd" x="849.9" y="314.8"/><use href="#gd" x="927.8" y="314.8"/><use href="#gd" x="943.3" y="302.4"/><use href="#gd" x="917.2" y="325.1"/><use href="#gd" x="939.7" y="301.9"/><use href="#gd" x="922.3" y="329.8"/><use href="#gd" x="949.0" y="309.5"/><use href="#gd" x="937.2" y="309.9"/><use href="#gd" x="903.2" y="326.9"/><use href="#gd" x="906.3" y="329.8"/><use href="#gd" x="922.6" y="325.6"/><use href="#gd" x="923.8" y="327.0"/><use href="#gd" x="937.3" y="305.2"/><use href="#gd" x="901.2" y="305.1"/><use href="#gd" x="930.3" y="303.3"/><use href="#gd" x="903.7" y="311.5"/><use href="#gd" x="902.7" y="309.2"/><use href="#gd" x="931.5" y="306.8"/><use href="#gd" x="939.5" y="307.8"/><use href="#gd" x="946.4" y="355.9"/><use href="#gd" x="968.2" y="346.3"/><use href="#gd" x="966.5" y="347.6"/><use href="#gd" x="973.7" y="360.0"/><use href="#gd" x="963.8" y="358.9"/><use href="#gd" x="960.2" y="363.5"/><use href="#gd" x="936.6" y="350.2"/><use href="#gd" x="970.9" y="350.9"/><use href="#gd" x="940.9" y="346.4"/><use href="#gd" x="962.1" y="366.3"/><use href="#gd" x="931.7" y="368.3"/><use href="#gd" x="935.2" y="358.4"/><use href="#gd" x="953.1" y="351.8"/><use href="#gd" x="944.6" y="358.3"/><use href="#gd" x="843.7" y="249.6"/><use href="#gd" x="907.8" y="261.4"/><use href="#gd" x="904.4" y="290.1"/><use href="#gd" x="974.9" y="306.6"/><use href="#gd" x="991.1" y="333.6"/><use href="#gd" x="935.1" y="306.3"/><use href="#gd" x="918.9" y="306.3"/><use href="#gd" x="924.1" y="306.3"/><use href="#gd" x="946.9" y="314.4"/><use href="#gd" x="899.7" y="306.3"/><use href="#gd" x="902.7" y="312.2"/><use href="#gd" x="867.3" y="345.4"/><use href="#gd" x="871.7" y="358.7"/><use href="#gd" x="865.8" y="365.3"/><use href="#gd" x="901.9" y="371.6"/><use href="#gd" x="884.3" y="380.8"/><use href="#gd" x="869.5" y="385.7"/><use href="#gd" x="898.0" y="389.6"/><use href="#gd" x="891.6" y="392.6"/><use href="#gd" x="894.3" y="398.5"/><use href="#gd" x="966.4" y="380.0"/><use href="#gd" x="1003.4" y="393.3"/><use href="#gd" x="921.8" y="363.8"/><use href="#gd" x="842.2" y="301.9"/><use href="#gd" x="850.3" y="343.2"/><use href="#gd" x="899.4" y="210.0"/><use href="#gd" x="998.2" y="226.4"/><use href="#gd" x="843.7" y="248.8"/>
<use href="#dd" x="823.8" y="199.0"/><use href="#dd" x="843.7" y="175.1"/><use href="#dd" x="857.0" y="196.0"/><use href="#dd" x="884.3" y="201.9"/><use href="#dd" x="848.9" y="160.7"/><use href="#dd" x="857.0" y="149.3"/><use href="#dd" x="861.4" y="145.6"/><use href="#dd" x="865.8" y="143.4"/><use href="#dd" x="871.7" y="151.5"/><use href="#dd" x="855.5" y="157.4"/><use href="#dd" x="864.3" y="157.4"/><use href="#dd" x="867.3" y="158.9"/><use href="#dd" x="859.9" y="165.5"/><use href="#dd" x="862.9" y="168.5"/><use href="#dd" x="865.8" y="169.2"/><use href="#dd" x="867.3" y="170.0"/><use href="#dd" x="873.2" y="170.0"/><use href="#dd" x="862.1" y="172.9"/><use href="#dd" x="867.3" y="176.6"/><use href="#dd" x="862.9" y="181.7"/><use href="#dd" x="872.5" y="181.7"/><use href="#dd" x="867.3" y="227.4"/><use href="#dd" x="879.1" y="231.9"/><use href="#dd" x="855.5" y="234.8"/><use href="#dd" x="944.7" y="237.0"/><use href="#dd" x="865.1" y="167.7"/><use href="#dd" x="866.6" y="166.3"/><use href="#dd" x="863.6" y="158.9"/><use href="#dd" x="865.5" y="156.7"/><use href="#dd" x="873.2" y="259.9"/><use href="#dd" x="885.0" y="264.3"/><use href="#dd" x="889.4" y="268.0"/><use href="#dd" x="899.4" y="270.2"/><use href="#dd" x="877.6" y="268.0"/><use href="#dd" x="879.1" y="274.6"/><use href="#dd" x="894.6" y="283.5"/><use href="#dd" x="905.6" y="283.8"/><use href="#dd" x="932.2" y="263.9"/>
<use href="#ft" x="870.2" y="41.2"/><use href="#ft" x="883.5" y="38.0"/><use href="#ft" x="893.1" y="55.0"/><use href="#ft" x="905.9" y="49.1"/><use href="#ft" x="910.0" y="64.1"/><use href="#ft" x="930.7" y="76.3"/><use href="#ft" x="899.0" y="95.8"/><use href="#ft" x="973.9" y="155.2"/><use href="#ft" x="993.3" y="159.6"/><use href="#ft" x="1151.3" y="251.0"/><use href="#ft" x="1130.0" y="364.6"/><use href="#ft" x="1272.3" y="450.8"/><use href="#ft" x="1292.5" y="454.5"/>
<use href="#ot" x="854.5" y="64.1"/><use href="#ot" x="899.7" y="76.3"/><use href="#ot" x="889.1" y="112.4"/><use href="#ot" x="892.1" y="125.0"/><use href="#ot" x="911.2" y="183.9"/><use href="#ot" x="875.8" y="203.1"/><use href="#ot" x="938.4" y="204.9"/><use href="#ot" x="913.7" y="219.0"/><use href="#ot" x="957.2" y="238.5"/><use href="#ot" x="918.9" y="245.1"/><use href="#ot" x="923.3" y="248.1"/><use href="#ot" x="921.5" y="273.5"/><use href="#ot" x="1076.8" y="358.7"/>
<use href="#ps" x="932.2" y="319.6"/><use href="#ps" x="935.8" y="320.3"/><use href="#ps" x="941.7" y="321.1"/><use href="#ps" x="937.3" y="324.8"/><use href="#ps" x="960.2" y="343.2"/><use href="#ps" x="963.1" y="346.9"/><use href="#ps" x="956.5" y="369.7"/><use href="#ps" x="960.2" y="371.2"/><use href="#ps" x="964.6" y="357.9"/><use href="#ps" x="969.0" y="360.9"/><use href="#ps" x="997.0" y="368.3"/><use href="#ps" x="991.1" y="366.8"/><use href="#ps" x="966.1" y="352.0"/><use href="#ps" x="970.5" y="353.5"/><use href="#ps" x="973.4" y="356.5"/><use href="#ps" x="976.4" y="357.9"/><use href="#ps" x="979.3" y="356.5"/><use href="#ps" x="982.3" y="359.4"/><use href="#ps" x="975.7" y="362.4"/><use href="#ps" x="972.0" y="360.9"/><use href="#ps" x="977.9" y="353.5"/><use href="#ps" x="981.5" y="355.0"/><use href="#ps" x="984.5" y="357.9"/><use href="#ps" x="974.2" y="352.0"/><use href="#ps" x="969.0" y="356.5"/><use href="#ps" x="980.1" y="363.8"/><use href="#ps" x="977.1" y="365.3"/><use href="#ps" x="972.7" y="364.6"/><use href="#ps" x="985.2" y="362.4"/><use href="#ps" x="968.3" y="365.3"/><use href="#ps" x="986.0" y="354.3"/><use href="#ps" x="976.4" y="360.1"/>
<use href="#rc" x="868.0" y="211.2"/><use href="#rc" x="867.3" y="215.7"/><use href="#rc" x="876.9" y="220.1"/><use href="#rc" x="868.8" y="242.9"/><use href="#rc" x="870.2" y="247.3"/><use href="#rc" x="870.2" y="249.6"/><use href="#rc" x="855.5" y="254.0"/><use href="#rc" x="861.4" y="254.7"/><use href="#rc" x="852.6" y="259.9"/><use href="#rc" x="836.0" y="263.6"/><use href="#rc" x="864.3" y="264.3"/><use href="#rc" x="858.5" y="268.0"/><use href="#rc" x="855.5" y="272.4"/><use href="#rc" x="864.3" y="275.4"/><use href="#rc" x="859.9" y="280.5"/><use href="#rc" x="870.2" y="281.3"/><use href="#rc" x="858.5" y="284.2"/><use href="#rc" x="839.3" y="285.7"/><use href="#rc" x="890.1" y="279.1"/><use href="#rc" x="865.8" y="301.2"/><use href="#rc" x="870.2" y="301.9"/><use href="#rc" x="874.7" y="306.3"/><use href="#rc" x="889.7" y="312.2"/><use href="#rc" x="844.0" y="321.8"/><use href="#rc" x="884.3" y="324.8"/><use href="#rc" x="847.7" y="334.3"/>
<use href="#oc" x="911.8" y="329.2"/><use href="#oc" x="911.2" y="339.1"/><use href="#oc" x="938.1" y="341.0"/>
<use href="#gp" x="994.8" y="355.0"/><use href="#gp" x="1003.7" y="354.3"/><use href="#gp" x="989.2" y="366.5"/><use href="#gp" x="1023.3" y="366.0"/><use href="#gp" x="1055.3" y="374.9"/><use href="#gp" x="1078.7" y="383.7"/><use href="#gp" x="1098.6" y="383.0"/>
<use href="#bg" x="1061.8" y="368.3"/><use href="#bg" x="1065.5" y="369.0"/><use href="#bg" x="1069.2" y="369.7"/><use href="#bg" x="1072.9" y="368.6"/><use href="#bg" x="1075.8" y="368.0"/>
</g>
<clipPath id="cpC"><rect x="1458.9" y="18.2" width="568.8" height="455.4"/></clipPath><g clip-path="url(#cpC)">
<use href="#gd" x="1582.6" y="153.9"/><use href="#gd" x="1574.9" y="113.1"/><use href="#gd" x="1586.6" y="147.3"/><use href="#gd" x="1588.2" y="147.3"/><use href="#gd" x="1582.9" y="131.9"/><use href="#gd" x="1576.0" y="131.7"/><use href="#gd" x="1580.3" y="147.0"/><use href="#gd" x="1591.4" y="130.5"/><use href="#gd" x="1592.3" y="144.5"/><use href="#gd" x="1597.0" y="164.3"/><use href="#gd" x="1590.8" y="124.5"/><use href="#gd" x="1591.9" y="127.5"/><use href="#gd" x="1602.1" y="144.0"/><use href="#gd" x="1582.6" y="158.5"/><use href="#gd" x="1565.1" y="127.6"/><use href="#gd" x="1572.8" y="126.5"/><use href="#gd" x="1575.8" y="141.7"/><use href="#gd" x="1581.4" y="141.6"/><use href="#gd" x="1591.8" y="125.8"/><use href="#gd" x="1600.3" y="147.4"/><use href="#gd" x="1566.3" y="120.8"/><use href="#gd" x="1594.4" y="157.3"/><use href="#gd" x="1577.1" y="136.2"/><use href="#gd" x="1587.4" y="153.2"/><use href="#gd" x="1583.2" y="149.9"/><use href="#gd" x="1574.8" y="125.6"/><use href="#gd" x="1592.2" y="152.9"/><use href="#gd" x="1584.2" y="146.4"/><use href="#gd" x="1587.1" y="150.1"/><use href="#gd" x="1597.8" y="154.3"/><use href="#gd" x="1594.0" y="141.7"/><use href="#gd" x="1578.5" y="110.0"/><use href="#gd" x="1589.4" y="143.4"/><use href="#gd" x="1590.7" y="123.3"/><use href="#gd" x="1579.3" y="130.4"/><use href="#gd" x="1564.5" y="137.0"/><use href="#gd" x="1598.5" y="134.9"/><use href="#gd" x="1589.8" y="162.4"/><use href="#gd" x="1571.2" y="142.2"/><use href="#gd" x="1602.6" y="172.4"/><use href="#gd" x="1569.5" y="118.4"/><use href="#gd" x="1587.1" y="155.0"/><use href="#gd" x="1570.6" y="122.6"/><use href="#gd" x="1572.2" y="144.2"/><use href="#gd" x="1578.5" y="142.4"/><use href="#gd" x="1592.0" y="157.7"/><use href="#gd" x="1589.5" y="146.9"/><use href="#gd" x="1597.8" y="153.9"/><use href="#gd" x="1570.6" y="124.9"/><use href="#gd" x="1595.0" y="148.3"/><use href="#gd" x="1580.8" y="140.3"/><use href="#gd" x="1622.1" y="163.8"/><use href="#gd" x="1590.2" y="148.7"/><use href="#gd" x="1581.7" y="151.4"/><use href="#gd" x="1594.5" y="150.8"/><use href="#gd" x="1569.5" y="144.2"/><use href="#gd" x="1593.4" y="144.8"/><use href="#gd" x="1554.4" y="119.7"/><use href="#gd" x="1571.1" y="128.6"/><use href="#gd" x="1579.0" y="127.1"/><use href="#gd" x="1596.2" y="148.8"/><use href="#gd" x="1598.7" y="138.4"/><use href="#gd" x="1582.6" y="153.9"/><use href="#gd" x="1588.5" y="134.4"/><use href="#gd" x="1574.7" y="127.0"/><use href="#gd" x="1583.8" y="147.1"/><use href="#gd" x="1586.4" y="149.6"/><use href="#gd" x="1594.3" y="147.6"/><use href="#gd" x="1599.3" y="157.8"/><use href="#gd" x="1582.7" y="136.9"/><use href="#gd" x="1584.6" y="131.7"/><use href="#gd" x="1569.6" y="130.6"/><use href="#gd" x="1579.0" y="142.8"/><use href="#gd" x="1578.0" y="136.8"/><use href="#gd" x="1587.0" y="136.3"/><use href="#gd" x="1586.9" y="133.4"/><use href="#gd" x="1579.9" y="145.8"/><use href="#gd" x="1589.1" y="142.8"/><use href="#gd" x="1575.9" y="142.0"/><use href="#gd" x="1607.3" y="130.4"/><use href="#gd" x="1596.6" y="150.2"/><use href="#gd" x="1597.1" y="161.1"/><use href="#gd" x="1573.2" y="151.9"/><use href="#gd" x="1578.0" y="132.9"/><use href="#gd" x="1591.8" y="143.7"/><use href="#gd" x="1587.7" y="136.2"/><use href="#gd" x="1573.0" y="132.5"/><use href="#gd" x="1572.4" y="146.9"/><use href="#gd" x="1587.5" y="157.4"/><use href="#gd" x="1570.6" y="107.6"/><use href="#gd" x="1558.9" y="119.0"/><use href="#gd" x="1570.1" y="134.5"/><use href="#gd" x="1568.2" y="113.8"/><use href="#gd" x="1587.9" y="137.6"/><use href="#gd" x="1592.3" y="153.9"/><use href="#gd" x="1588.7" y="129.0"/><use href="#gd" x="1574.9" y="158.8"/><use href="#gd" x="1582.1" y="141.5"/><use href="#gd" x="1586.1" y="140.5"/><use href="#gd" x="1582.7" y="132.4"/><use href="#gd" x="1578.8" y="113.7"/><use href="#gd" x="1603.5" y="151.0"/><use href="#gd" x="1569.9" y="136.1"/><use href="#gd" x="1592.2" y="128.7"/><use href="#gd" x="1578.8" y="152.8"/><use href="#gd" x="1590.8" y="148.7"/><use href="#gd" x="1595.9" y="145.8"/><use href="#gd" x="1581.4" y="155.5"/><use href="#gd" x="1582.6" y="137.7"/><use href="#gd" x="1591.9" y="145.0"/><use href="#gd" x="1570.8" y="151.9"/><use href="#gd" x="1583.9" y="159.4"/><use href="#gd" x="1590.4" y="133.5"/><use href="#gd" x="1602.1" y="149.3"/><use href="#gd" x="1575.0" y="133.3"/><use href="#gd" x="1560.5" y="128.7"/><use href="#gd" x="1576.5" y="131.8"/><use href="#gd" x="1574.6" y="140.9"/><use href="#gd" x="1588.7" y="154.6"/><use href="#gd" x="1603.4" y="155.3"/><use href="#gd" x="1585.7" y="144.0"/><use href="#gd" x="1575.5" y="127.9"/><use href="#gd" x="1593.2" y="135.9"/><use href="#gd" x="1562.8" y="121.8"/><use href="#gd" x="1587.5" y="158.1"/><use href="#gd" x="1576.6" y="124.3"/><use href="#gd" x="1585.7" y="138.9"/><use href="#gd" x="1587.5" y="136.0"/><use href="#gd" x="1586.9" y="134.9"/><use href="#gd" x="1595.7" y="150.2"/><use href="#gd" x="1591.1" y="139.2"/><use href="#gd" x="1568.5" y="129.5"/><use href="#gd" x="1584.0" y="151.7"/><use href="#gd" x="1595.5" y="146.5"/><use href="#gd" x="1584.1" y="128.5"/><use href="#gd" x="1584.2" y="141.9"/><use href="#gd" x="1580.0" y="124.8"/><use href="#gd" x="1599.0" y="138.9"/><use href="#gd" x="1603.2" y="165.0"/><use href="#gd" x="1601.9" y="141.7"/><use href="#gd" x="1591.6" y="129.0"/><use href="#gd" x="1580.5" y="120.2"/><use href="#gd" x="1576.4" y="128.8"/><use href="#gd" x="1595.3" y="158.7"/><use href="#gd" x="1580.4" y="133.9"/><use href="#gd" x="1574.0" y="120.2"/><use href="#gd" x="1564.5" y="124.3"/><use href="#gd" x="1591.2" y="135.5"/><use href="#gd" x="1588.6" y="129.6"/><use href="#gd" x="1573.3" y="126.5"/><use href="#gd" x="1594.4" y="140.3"/><use href="#gd" x="1593.1" y="141.3"/><use href="#gd" x="1572.1" y="109.4"/><use href="#gd" x="1579.2" y="125.6"/><use href="#gd" x="1594.6" y="151.0"/><use href="#gd" x="1566.2" y="137.0"/><use href="#gd" x="1590.4" y="111.5"/><use href="#gd" x="1572.8" y="134.6"/><use href="#gd" x="1566.7" y="120.0"/><use href="#gd" x="1590.2" y="146.0"/><use href="#gd" x="1589.4" y="149.5"/><use href="#gd" x="1574.6" y="159.3"/><use href="#gd" x="1590.2" y="166.8"/><use href="#gd" x="1581.4" y="143.7"/><use href="#gd" x="1588.2" y="140.3"/><use href="#gd" x="1587.9" y="144.6"/><use href="#gd" x="1593.4" y="148.8"/><use href="#gd" x="1585.0" y="145.2"/><use href="#gd" x="1600.4" y="150.7"/><use href="#gd" x="1591.1" y="145.3"/><use href="#gd" x="1562.6" y="115.4"/><use href="#gd" x="1574.2" y="117.6"/><use href="#gd" x="1577.5" y="115.6"/><use href="#gd" x="1587.4" y="135.5"/><use href="#gd" x="1597.9" y="152.4"/><use href="#gd" x="1570.2" y="127.8"/><use href="#gd" x="1584.9" y="132.3"/><use href="#gd" x="1580.3" y="124.9"/><use href="#gd" x="1576.2" y="137.1"/><use href="#gd" x="1580.6" y="150.1"/><use href="#gd" x="1560.9" y="115.4"/><use href="#gd" x="1580.2" y="152.8"/><use href="#gd" x="1596.6" y="155.5"/><use href="#gd" x="1595.1" y="163.7"/><use href="#gd" x="1591.7" y="141.5"/><use href="#gd" x="1586.3" y="132.7"/><use href="#gd" x="1581.7" y="141.6"/><use href="#gd" x="1578.7" y="136.7"/><use href="#gd" x="1579.4" y="121.7"/><use href="#gd" x="1568.3" y="136.4"/><use href="#gd" x="1584.5" y="148.4"/><use href="#gd" x="1583.0" y="138.2"/><use href="#gd" x="1587.1" y="137.3"/><use href="#gd" x="1599.3" y="159.8"/><use href="#gd" x="1588.5" y="130.5"/><use href="#gd" x="1578.2" y="137.4"/><use href="#gd" x="1596.8" y="146.8"/><use href="#gd" x="1583.7" y="144.4"/><use href="#gd" x="1585.3" y="138.0"/><use href="#gd" x="1571.6" y="144.1"/><use href="#gd" x="1583.4" y="132.8"/><use href="#gd" x="1582.8" y="123.6"/><use href="#gd" x="1565.5" y="107.3"/><use href="#gd" x="1588.0" y="126.9"/><use href="#gd" x="1585.1" y="126.5"/><use href="#gd" x="1564.3" y="119.1"/><use href="#gd" x="1575.7" y="125.7"/><use href="#gd" x="1602.8" y="153.0"/><use href="#gd" x="1577.2" y="143.6"/><use href="#gd" x="1580.2" y="149.3"/><use href="#gd" x="1577.3" y="176.7"/><use href="#gd" x="1604.0" y="151.4"/><use href="#gd" x="1630.1" y="140.5"/><use href="#gd" x="1596.0" y="169.0"/><use href="#gd" x="1621.7" y="168.4"/><use href="#gd" x="1644.9" y="151.3"/><use href="#gd" x="1598.6" y="117.3"/><use href="#gd" x="1555.3" y="140.0"/><use href="#gd" x="1590.8" y="182.7"/><use href="#gd" x="1527.9" y="132.2"/><use href="#gd" x="1624.1" y="142.2"/><use href="#gd" x="1639.1" y="114.7"/><use href="#gd" x="1628.4" y="139.7"/><use href="#gd" x="1600.3" y="105.2"/><use href="#gd" x="1577.6" y="173.9"/><use href="#gd" x="1623.5" y="151.9"/><use href="#gd" x="1580.4" y="103.6"/><use href="#gd" x="1618.5" y="141.1"/><use href="#gd" x="1621.9" y="156.3"/><use href="#gd" x="1577.5" y="180.5"/><use href="#gd" x="1540.2" y="188.2"/><use href="#gd" x="1533.9" y="189.2"/><use href="#gd" x="1603.0" y="141.2"/><use href="#gd" x="1651.1" y="147.1"/><use href="#gd" x="1592.2" y="105.5"/><use href="#gd" x="1632.1" y="158.8"/><use href="#gd" x="1555.1" y="110.5"/><use href="#gd" x="1580.0" y="186.0"/><use href="#gd" x="1642.1" y="142.8"/><use href="#gd" x="1526.9" y="176.3"/><use href="#gd" x="1549.9" y="167.2"/><use href="#gd" x="1590.9" y="188.7"/><use href="#gd" x="1542.4" y="173.0"/><use href="#gd" x="1621.4" y="101.6"/><use href="#gd" x="1600.0" y="127.1"/><use href="#gd" x="1618.0" y="188.4"/><use href="#gd" x="1613.9" y="145.4"/><use href="#gd" x="1605.3" y="122.9"/><use href="#gd" x="1586.5" y="110.7"/><use href="#gd" x="1621.4" y="106.0"/><use href="#gd" x="1594.7" y="116.5"/><use href="#gd" x="1599.7" y="105.2"/><use href="#gd" x="1525.8" y="157.5"/><use href="#gd" x="1621.3" y="181.7"/><use href="#gd" x="1615.5" y="191.6"/><use href="#gd" x="1541.7" y="157.9"/><use href="#gd" x="1609.8" y="116.1"/><use href="#gd" x="1541.3" y="122.1"/><use href="#gd" x="1594.2" y="172.4"/><use href="#gd" x="1620.1" y="152.6"/><use href="#gd" x="1532.7" y="166.4"/><use href="#gd" x="1592.7" y="115.6"/><use href="#gd" x="1607.3" y="122.6"/><use href="#gd" x="1564.6" y="141.5"/><use href="#gd" x="1625.7" y="109.8"/><use href="#gd" x="1583.1" y="121.6"/><use href="#gd" x="1614.6" y="175.1"/><use href="#gd" x="1558.4" y="166.2"/><use href="#gd" x="1586.0" y="120.0"/><use href="#gd" x="1560.0" y="149.5"/><use href="#gd" x="1633.3" y="155.4"/><use href="#gd" x="1522.1" y="171.9"/><use href="#gd" x="1602.1" y="138.9"/><use href="#gd" x="1555.3" y="140.6"/><use href="#gd" x="1617.5" y="124.9"/><use href="#gd" x="1541.1" y="180.8"/><use href="#gd" x="1583.0" y="106.5"/><use href="#gd" x="1644.9" y="110.1"/><use href="#gd" x="1572.3" y="157.0"/><use href="#gd" x="1613.7" y="182.7"/><use href="#gd" x="1546.3" y="152.4"/><use href="#gd" x="1643.4" y="143.0"/><use href="#gd" x="1620.6" y="142.9"/><use href="#gd" x="1620.9" y="188.1"/><use href="#gd" x="1568.9" y="167.8"/><use href="#gd" x="1569.6" y="181.7"/><use href="#gd" x="1627.4" y="178.9"/><use href="#gd" x="1642.6" y="154.8"/><use href="#gd" x="1653.2" y="114.3"/><use href="#gd" x="1601.2" y="106.8"/><use href="#gd" x="1602.5" y="163.2"/><use href="#gd" x="1561.4" y="174.7"/><use href="#gd" x="1579.6" y="118.2"/><use href="#gd" x="1548.7" y="153.2"/><use href="#gd" x="1575.0" y="104.3"/><use href="#gd" x="1564.2" y="189.7"/><use href="#gd" x="1587.2" y="162.9"/><use href="#gd" x="1580.9" y="106.5"/><use href="#gd" x="1606.5" y="119.3"/><use href="#gd" x="1538.9" y="156.8"/><use href="#gd" x="1615.2" y="101.0"/><use href="#gd" x="1652.6" y="101.9"/><use href="#gd" x="1544.9" y="130.2"/><use href="#gd" x="1632.0" y="168.3"/><use href="#gd" x="1624.6" y="139.5"/><use href="#gd" x="1647.9" y="112.3"/><use href="#gd" x="1654.6" y="104.6"/><use href="#gd" x="1543.2" y="169.1"/><use href="#gd" x="1628.2" y="161.9"/><use href="#gd" x="1556.3" y="179.7"/><use href="#gd" x="1593.1" y="119.0"/><use href="#gd" x="1535.3" y="191.0"/><use href="#gd" x="1529.7" y="120.2"/><use href="#gd" x="1571.2" y="182.2"/><use href="#gd" x="1636.6" y="177.4"/><use href="#gd" x="1609.1" y="101.1"/><use href="#gd" x="1623.9" y="117.5"/><use href="#gd" x="1652.7" y="189.3"/><use href="#gd" x="1531.1" y="167.3"/><use href="#gd" x="1555.4" y="109.6"/><use href="#gd" x="1642.7" y="140.7"/><use href="#gd" x="1562.7" y="151.5"/><use href="#gd" x="1530.9" y="139.0"/><use href="#gd" x="1611.6" y="179.5"/><use href="#gd" x="1538.9" y="182.2"/><use href="#gd" x="1536.5" y="119.0"/><use href="#gd" x="1568.1" y="115.5"/><use href="#gd" x="1534.6" y="160.3"/><use href="#gd" x="1577.0" y="117.5"/><use href="#gd" x="1593.0" y="111.4"/><use href="#gd" x="1630.9" y="168.0"/><use href="#gd" x="1618.0" y="138.2"/><use href="#gd" x="1613.9" y="135.2"/><use href="#gd" x="1614.8" y="124.8"/><use href="#gd" x="1607.8" y="153.0"/><use href="#gd" x="1618.8" y="118.7"/><use href="#gd" x="1598.7" y="161.3"/><use href="#gd" x="1611.2" y="160.7"/><use href="#gd" x="1627.0" y="149.4"/><use href="#gd" x="1611.3" y="146.9"/><use href="#gd" x="1614.9" y="143.4"/><use href="#gd" x="1646.7" y="120.9"/><use href="#gd" x="1602.8" y="164.7"/><use href="#gd" x="1645.6" y="159.7"/><use href="#gd" x="1641.6" y="120.7"/><use href="#gd" x="1633.1" y="121.8"/><use href="#gd" x="1640.9" y="136.8"/><use href="#gd" x="1619.4" y="143.6"/><use href="#gd" x="1602.3" y="146.2"/><use href="#gd" x="1641.7" y="139.7"/><use href="#gd" x="1616.3" y="135.2"/><use href="#gd" x="1601.4" y="130.7"/><use href="#gd" x="1640.3" y="168.1"/><use href="#gd" x="1612.5" y="130.8"/><use href="#gd" x="1610.2" y="162.5"/><use href="#gd" x="1605.7" y="125.0"/><use href="#gd" x="1608.9" y="119.8"/><use href="#gd" x="1598.8" y="127.8"/><use href="#gd" x="1629.1" y="166.1"/><use href="#gd" x="1605.5" y="131.1"/><use href="#gd" x="1625.2" y="116.6"/><use href="#gd" x="1595.3" y="146.5"/><use href="#gd" x="1617.9" y="134.3"/><use href="#gd" x="1614.9" y="116.1"/><use href="#gd" x="1605.6" y="124.7"/><use href="#gd" x="1604.3" y="118.8"/><use href="#gd" x="1638.9" y="115.9"/><use href="#gd" x="1614.9" y="124.5"/><use href="#gd" x="1602.2" y="156.8"/><use href="#gd" x="1647.7" y="168.1"/><use href="#gd" x="1537.5" y="200.8"/><use href="#gd" x="1539.7" y="193.2"/><use href="#gd" x="1532.0" y="198.8"/><use href="#gd" x="1530.3" y="202.3"/><use href="#gd" x="1535.9" y="195.0"/><use href="#gd" x="1552.3" y="182.5"/><use href="#gd" x="1542.4" y="207.7"/><use href="#gd" x="1530.9" y="195.6"/><use href="#gd" x="1525.5" y="198.6"/><use href="#gd" x="1541.9" y="183.1"/><use href="#gd" x="1532.7" y="203.6"/><use href="#gd" x="1549.4" y="180.5"/><use href="#gd" x="1550.7" y="182.2"/><use href="#gd" x="1536.2" y="196.2"/><use href="#gd" x="1542.4" y="195.5"/><use href="#gd" x="1553.1" y="183.8"/><use href="#gd" x="1548.3" y="192.2"/><use href="#gd" x="1528.5" y="201.2"/><use href="#gd" x="1552.4" y="178.4"/><use href="#gd" x="1540.5" y="199.4"/><use href="#gd" x="1551.4" y="186.3"/><use href="#gd" x="1541.3" y="189.5"/><use href="#gd" x="1532.4" y="195.0"/><use href="#gd" x="1562.3" y="175.4"/><use href="#gd" x="1543.1" y="184.1"/><use href="#gd" x="1556.9" y="175.1"/><use href="#gd" x="1551.4" y="192.5"/><use href="#gd" x="1535.7" y="190.9"/><use href="#gd" x="1543.9" y="204.1"/><use href="#gd" x="1545.9" y="199.6"/><use href="#gd" x="1552.9" y="189.4"/><use href="#gd" x="1543.8" y="190.7"/><use href="#gd" x="1558.1" y="197.2"/><use href="#gd" x="1552.2" y="183.9"/><use href="#gd" x="1540.9" y="197.7"/><use href="#gd" x="1541.8" y="181.3"/><use href="#gd" x="1530.0" y="198.3"/><use href="#gd" x="1550.3" y="193.5"/><use href="#gd" x="1557.3" y="175.5"/><use href="#gd" x="1527.3" y="196.4"/><use href="#gd" x="1583.5" y="178.0"/><use href="#gd" x="1580.5" y="183.8"/><use href="#gd" x="1576.8" y="178.0"/><use href="#gd" x="1577.6" y="181.8"/><use href="#gd" x="1582.8" y="180.7"/><use href="#gd" x="1574.4" y="176.8"/><use href="#gd" x="1576.9" y="184.7"/><use href="#gd" x="1574.9" y="180.3"/><use href="#gd" x="1581.8" y="183.4"/><use href="#gd" x="1589.4" y="184.6"/><use href="#gd" x="1582.3" y="192.7"/><use href="#gd" x="1569.8" y="173.5"/><use href="#gd" x="1575.2" y="182.7"/><use href="#gd" x="1585.0" y="185.5"/><use href="#gd" x="1576.5" y="174.9"/><use href="#gd" x="1580.9" y="180.8"/><use href="#gd" x="1574.2" y="175.8"/><use href="#gd" x="1582.5" y="180.6"/><use href="#gd" x="1580.0" y="181.5"/><use href="#gd" x="1575.2" y="179.6"/><use href="#gd" x="1540.8" y="171.3"/><use href="#gd" x="1535.4" y="182.7"/><use href="#gd" x="1538.5" y="186.4"/><use href="#gd" x="1528.7" y="171.0"/><use href="#gd" x="1538.7" y="224.4"/><use href="#gd" x="1553.9" y="169.7"/><use href="#gd" x="1545.4" y="169.5"/><use href="#gd" x="1533.0" y="224.7"/><use href="#gd" x="1533.6" y="166.7"/><use href="#gd" x="1542.5" y="198.2"/><use href="#gd" x="1540.4" y="221.6"/><use href="#gd" x="1540.5" y="183.7"/><use href="#gd" x="1528.3" y="197.8"/><use href="#gd" x="1549.8" y="192.7"/><use href="#gd" x="1535.6" y="176.3"/><use href="#gd" x="1553.8" y="224.5"/><use href="#gd" x="1543.4" y="206.2"/><use href="#gd" x="1533.0" y="170.3"/><use href="#gd" x="1522.3" y="200.1"/><use href="#gd" x="1556.7" y="204.9"/><use href="#gd" x="1546.9" y="215.9"/><use href="#gd" x="1536.5" y="187.9"/><use href="#gd" x="1530.4" y="214.0"/><use href="#gd" x="1547.6" y="194.1"/><use href="#gd" x="1551.2" y="219.3"/><use href="#gd" x="1576.6" y="37.0"/><use href="#gd" x="1580.3" y="45.4"/><use href="#gd" x="1553.0" y="63.8"/><use href="#gd" x="1551.6" y="67.5"/><use href="#gd" x="1569.3" y="61.9"/><use href="#gd" x="1580.3" y="94.0"/><use href="#gd" x="1673.2" y="119.8"/><use href="#gd" x="1657.7" y="125.0"/><use href="#gd" x="1686.2" y="135.3"/><use href="#gd" x="1681.0" y="203.9"/><use href="#gd" x="1606.8" y="122.0"/><use href="#gd" x="1612.7" y="118.4"/><use href="#gd" x="1600.9" y="113.2"/><use href="#gd" x="1523.6" y="203.1"/><use href="#gd" x="1526.5" y="221.5"/><use href="#gd" x="1539.8" y="218.6"/><use href="#gd" x="1532.4" y="215.7"/><use href="#gd" x="1557.5" y="209.0"/><use href="#gd" x="1563.4" y="222.3"/><use href="#gd" x="1572.9" y="212.0"/><use href="#gd" x="1533.1" y="98.5"/><use href="#gd" x="1646.6" y="122.0"/><use href="#gd" x="1629.0" y="124.3"/><use href="#gd" x="1581.8" y="293.8"/>
<use href="#dd" x="1581.8" y="216.4"/><use href="#dd" x="1588.4" y="223.0"/><use href="#dd" x="1577.4" y="229.7"/><use href="#dd" x="1561.1" y="232.6"/><use href="#dd" x="1564.8" y="239.2"/><use href="#dd" x="1572.9" y="245.9"/><use href="#dd" x="1548.6" y="254.7"/><use href="#dd" x="1536.4" y="262.6"/><use href="#dd" x="1560.0" y="264.0"/><use href="#dd" x="1568.5" y="261.4"/><use href="#dd" x="1561.6" y="283.9"/><use href="#dd" x="1549.3" y="295.7"/><use href="#dd" x="1555.5" y="299.4"/><use href="#dd" x="1538.3" y="301.9"/><use href="#dd" x="1566.3" y="317.4"/><use href="#dd" x="1627.5" y="314.2"/><use href="#dd" x="1615.0" y="321.8"/><use href="#dd" x="1506.3" y="344.7"/><use href="#dd" x="1526.8" y="346.9"/><use href="#dd" x="1543.0" y="341.0"/><use href="#dd" x="1546.4" y="345.4"/><use href="#dd" x="1549.3" y="347.6"/><use href="#dd" x="1544.9" y="349.8"/><use href="#dd" x="1539.8" y="353.5"/><use href="#dd" x="1547.1" y="352.0"/><use href="#dd" x="1550.8" y="355.7"/><use href="#dd" x="1543.5" y="357.9"/><use href="#dd" x="1531.7" y="358.7"/><use href="#dd" x="1538.3" y="363.8"/><use href="#dd" x="1554.5" y="357.2"/><use href="#dd" x="1556.7" y="345.4"/><use href="#dd" x="1529.0" y="381.2"/><use href="#dd" x="1547.9" y="343.2"/><use href="#dd" x="1545.7" y="348.4"/><use href="#dd" x="1544.2" y="346.9"/><use href="#dd" x="1548.6" y="349.8"/><use href="#dd" x="1546.4" y="354.3"/>
<use href="#ft" x="1581.5" y="397.7"/><use href="#ft" x="1613.5" y="419.1"/><use href="#ft" x="1656.7" y="398.8"/><use href="#ft" x="1675.8" y="398.2"/><use href="#ft" x="1576.6" y="427.2"/><use href="#ft" x="1592.8" y="425.0"/><use href="#ft" x="1589.2" y="430.9"/><use href="#ft" x="1566.3" y="433.8"/><use href="#ft" x="1553.0" y="439.7"/><use href="#ft" x="1975.1" y="293.1"/><use href="#ft" x="1954.9" y="301.6"/><use href="#ft" x="1833.9" y="376.6"/>
<use href="#ot" x="1605.4" y="313.0"/><use href="#ot" x="1601.7" y="321.8"/><use href="#ot" x="1604.2" y="324.0"/><use href="#ot" x="1557.9" y="338.0"/><use href="#ot" x="1596.2" y="350.6"/><use href="#ot" x="1639.7" y="360.9"/><use href="#ot" x="1620.8" y="374.9"/><use href="#ot" x="1593.9" y="385.9"/><use href="#ot" x="1583.0" y="409.5"/><use href="#ot" x="1572.9" y="413.9"/><use href="#ot" x="1575.1" y="415.4"/><use href="#ot" x="1536.8" y="431.6"/><use href="#ot" x="1759.2" y="214.0"/>
<use href="#ps" x="1637.4" y="124.3"/><use href="#ps" x="1640.0" y="136.8"/><use href="#ps" x="1650.3" y="143.4"/><use href="#ps" x="1652.5" y="141.9"/><use href="#ps" x="1659.9" y="149.3"/><use href="#ps" x="1661.4" y="161.1"/><use href="#ps" x="1666.5" y="161.8"/><use href="#ps" x="1659.2" y="174.4"/><use href="#ps" x="1662.1" y="175.1"/><use href="#ps" x="1619.4" y="177.3"/><use href="#ps" x="1615.7" y="188.4"/><use href="#ps" x="1643.0" y="186.9"/><use href="#ps" x="1645.9" y="192.8"/><use href="#ps" x="1678.3" y="180.3"/><use href="#ps" x="1615.0" y="205.3"/><use href="#ps" x="1624.5" y="206.1"/><use href="#ps" x="1671.0" y="226.4"/><use href="#ps" x="1658.4" y="185.4"/><use href="#ps" x="1661.4" y="186.9"/><use href="#ps" x="1664.3" y="185.4"/><use href="#ps" x="1667.3" y="187.6"/><use href="#ps" x="1660.7" y="190.6"/><use href="#ps" x="1662.9" y="182.5"/><use href="#ps" x="1666.5" y="184.0"/><use href="#ps" x="1669.5" y="186.2"/><use href="#ps" x="1659.2" y="181.0"/><use href="#ps" x="1665.1" y="192.1"/><use href="#ps" x="1662.1" y="192.8"/><use href="#ps" x="1657.0" y="189.1"/><use href="#ps" x="1670.2" y="190.6"/><use href="#ps" x="1654.0" y="185.4"/>
<use href="#rc" x="1526.8" y="105.8"/><use href="#rc" x="1521.8" y="119.8"/><use href="#rc" x="1547.1" y="104.3"/><use href="#rc" x="1552.3" y="106.6"/><use href="#rc" x="1551.6" y="115.4"/><use href="#rc" x="1558.2" y="118.4"/><use href="#rc" x="1566.3" y="105.8"/><use href="#rc" x="1572.9" y="111.0"/><use href="#rc" x="1572.2" y="117.6"/><use href="#rc" x="1546.4" y="134.1"/><use href="#rc" x="1529.9" y="142.4"/><use href="#rc" x="1539.8" y="144.9"/><use href="#rc" x="1541.2" y="146.4"/><use href="#rc" x="1553.8" y="144.9"/><use href="#rc" x="1518.7" y="160.4"/><use href="#rc" x="1535.3" y="160.7"/><use href="#rc" x="1544.9" y="164.8"/><use href="#rc" x="1550.8" y="167.0"/><use href="#rc" x="1551.6" y="170.0"/><use href="#rc" x="1559.7" y="170.7"/><use href="#rc" x="1546.4" y="173.6"/>
<use href="#oc" x="1594.3" y="194.0"/><use href="#oc" x="1620.4" y="186.6"/>
<use href="#gp" x="1677.6" y="264.3"/><use href="#gp" x="1685.7" y="287.2"/><use href="#gp" x="1671.4" y="293.1"/><use href="#gp" x="1706.1" y="293.8"/><use href="#gp" x="1738.8" y="358.7"/><use href="#gp" x="1761.4" y="335.8"/><use href="#gp" x="1781.0" y="408.1"/>
<use href="#bg" x="1754.7" y="288.6"/><use href="#bg" x="1756.2" y="296.0"/><use href="#bg" x="1751.1" y="298.2"/><use href="#bg" x="1748.8" y="300.4"/>
</g>
<clipPath id="cpD"><rect x="93.4" y="553.5" width="568.8" height="455.4"/></clipPath><g clip-path="url(#cpD)">
<use href="#gd" x="165.0" y="718.0"/><use href="#gd" x="192.2" y="742.1"/><use href="#gd" x="198.2" y="764.9"/><use href="#gd" x="188.0" y="739.6"/><use href="#gd" x="174.2" y="732.1"/><use href="#gd" x="179.3" y="740.2"/><use href="#gd" x="153.2" y="723.2"/><use href="#gd" x="182.7" y="753.5"/><use href="#gd" x="174.2" y="730.1"/><use href="#gd" x="165.2" y="719.9"/><use href="#gd" x="198.6" y="762.4"/><use href="#gd" x="189.6" y="741.0"/><use href="#gd" x="189.2" y="756.9"/><use href="#gd" x="193.5" y="739.6"/><use href="#gd" x="184.0" y="733.5"/><use href="#gd" x="181.5" y="728.7"/><use href="#gd" x="189.7" y="763.1"/><use href="#gd" x="186.6" y="755.2"/><use href="#gd" x="177.4" y="738.5"/><use href="#gd" x="164.3" y="721.3"/><use href="#gd" x="163.5" y="721.6"/><use href="#gd" x="176.7" y="745.6"/><use href="#gd" x="165.8" y="726.8"/><use href="#gd" x="163.7" y="718.2"/><use href="#gd" x="196.3" y="756.0"/><use href="#gd" x="163.2" y="715.0"/><use href="#gd" x="180.6" y="725.5"/><use href="#gd" x="188.6" y="741.8"/><use href="#gd" x="158.3" y="725.6"/><use href="#gd" x="205.5" y="761.0"/><use href="#gd" x="199.7" y="761.6"/><use href="#gd" x="186.0" y="764.5"/><use href="#gd" x="204.5" y="748.5"/><use href="#gd" x="161.4" y="707.8"/><use href="#gd" x="158.7" y="720.4"/><use href="#gd" x="148.9" y="711.0"/><use href="#gd" x="176.6" y="736.0"/><use href="#gd" x="203.7" y="771.9"/><use href="#gd" x="204.8" y="745.5"/><use href="#gd" x="179.8" y="720.9"/><use href="#gd" x="203.3" y="756.3"/><use href="#gd" x="171.7" y="743.5"/><use href="#gd" x="166.6" y="719.2"/><use href="#gd" x="192.1" y="742.2"/><use href="#gd" x="184.9" y="733.7"/><use href="#gd" x="205.1" y="762.5"/><use href="#gd" x="186.1" y="736.4"/><use href="#gd" x="194.8" y="746.4"/><use href="#gd" x="176.3" y="721.5"/><use href="#gd" x="175.2" y="739.5"/><use href="#gd" x="163.4" y="718.6"/><use href="#gd" x="171.6" y="719.9"/><use href="#gd" x="165.6" y="708.5"/><use href="#gd" x="154.9" y="702.8"/><use href="#gd" x="189.0" y="740.5"/><use href="#gd" x="167.5" y="714.0"/><use href="#gd" x="192.7" y="753.2"/><use href="#gd" x="185.1" y="752.6"/><use href="#gd" x="179.8" y="730.8"/><use href="#gd" x="182.9" y="733.1"/><use href="#gd" x="163.7" y="716.2"/><use href="#gd" x="196.4" y="768.4"/><use href="#gd" x="186.1" y="744.0"/><use href="#gd" x="182.7" y="748.2"/><use href="#gd" x="177.7" y="728.6"/><use href="#gd" x="201.2" y="755.2"/><use href="#gd" x="164.7" y="716.8"/><use href="#gd" x="198.6" y="765.2"/><use href="#gd" x="176.2" y="732.8"/><use href="#gd" x="177.7" y="723.3"/><use href="#gd" x="181.6" y="711.5"/><use href="#gd" x="182.0" y="733.5"/><use href="#gd" x="201.7" y="763.0"/><use href="#gd" x="202.4" y="760.4"/><use href="#gd" x="162.7" y="725.5"/><use href="#gd" x="163.2" y="709.2"/><use href="#gd" x="194.1" y="750.7"/><use href="#gd" x="198.1" y="752.3"/><use href="#gd" x="187.1" y="748.3"/><use href="#gd" x="188.7" y="755.9"/><use href="#gd" x="167.9" y="710.3"/><use href="#gd" x="204.1" y="760.2"/><use href="#gd" x="157.9" y="712.0"/><use href="#gd" x="204.7" y="763.8"/><use href="#gd" x="178.2" y="736.5"/><use href="#gd" x="193.6" y="745.8"/><use href="#gd" x="198.0" y="763.5"/><use href="#gd" x="187.4" y="732.9"/><use href="#gd" x="192.7" y="746.0"/><use href="#gd" x="162.2" y="710.7"/><use href="#gd" x="173.5" y="725.8"/><use href="#gd" x="204.5" y="748.4"/><use href="#gd" x="183.1" y="744.3"/><use href="#gd" x="172.2" y="740.3"/><use href="#gd" x="191.2" y="738.1"/><use href="#gd" x="209.3" y="772.7"/><use href="#gd" x="181.6" y="735.4"/><use href="#gd" x="167.8" y="725.1"/><use href="#gd" x="205.8" y="766.3"/><use href="#gd" x="188.4" y="748.1"/><use href="#gd" x="169.2" y="723.4"/><use href="#gd" x="190.2" y="747.3"/><use href="#gd" x="196.9" y="758.9"/><use href="#gd" x="204.5" y="773.0"/><use href="#gd" x="205.9" y="755.5"/><use href="#gd" x="165.1" y="732.2"/><use href="#gd" x="178.8" y="735.8"/><use href="#gd" x="191.9" y="761.6"/><use href="#gd" x="199.4" y="743.7"/><use href="#gd" x="190.9" y="762.0"/><use href="#gd" x="176.8" y="730.8"/><use href="#gd" x="162.7" y="708.9"/><use href="#gd" x="176.2" y="736.9"/><use href="#gd" x="183.1" y="738.4"/><use href="#gd" x="173.7" y="740.5"/><use href="#gd" x="167.0" y="737.5"/><use href="#gd" x="171.8" y="733.8"/><use href="#gd" x="167.2" y="717.8"/><use href="#gd" x="173.8" y="733.8"/><use href="#gd" x="180.4" y="752.4"/><use href="#gd" x="209.7" y="759.8"/><use href="#gd" x="172.5" y="742.0"/><use href="#gd" x="179.7" y="730.5"/><use href="#gd" x="182.6" y="730.1"/><use href="#gd" x="162.9" y="725.1"/><use href="#gd" x="203.9" y="753.7"/><use href="#gd" x="169.7" y="720.8"/><use href="#gd" x="185.4" y="727.5"/><use href="#gd" x="187.7" y="740.2"/><use href="#gd" x="155.5" y="721.3"/><use href="#gd" x="156.2" y="715.6"/><use href="#gd" x="168.5" y="718.2"/><use href="#gd" x="161.9" y="712.9"/><use href="#gd" x="159.0" y="726.5"/><use href="#gd" x="164.9" y="723.6"/><use href="#gd" x="187.1" y="743.1"/><use href="#gd" x="192.7" y="740.7"/><use href="#gd" x="162.6" y="712.4"/><use href="#gd" x="193.9" y="744.6"/><use href="#gd" x="161.3" y="715.3"/><use href="#gd" x="196.1" y="742.7"/><use href="#gd" x="172.5" y="739.5"/><use href="#gd" x="201.3" y="754.4"/><use href="#gd" x="195.4" y="751.1"/><use href="#gd" x="182.8" y="732.0"/><use href="#gd" x="168.7" y="724.0"/><use href="#gd" x="187.7" y="749.8"/><use href="#gd" x="190.8" y="753.3"/><use href="#gd" x="206.2" y="759.5"/><use href="#gd" x="187.9" y="739.7"/><use href="#gd" x="188.5" y="764.2"/><use href="#gd" x="160.2" y="709.9"/><use href="#gd" x="161.1" y="697.5"/><use href="#gd" x="189.7" y="749.2"/><use href="#gd" x="178.8" y="733.8"/><use href="#gd" x="165.1" y="709.3"/><use href="#gd" x="177.6" y="726.5"/><use href="#gd" x="197.4" y="751.7"/><use href="#gd" x="178.3" y="734.5"/><use href="#gd" x="192.9" y="761.2"/><use href="#gd" x="178.0" y="717.6"/><use href="#gd" x="195.6" y="751.6"/><use href="#gd" x="169.0" y="740.6"/><use href="#gd" x="159.0" y="710.3"/><use href="#gd" x="199.2" y="760.7"/><use href="#gd" x="172.3" y="738.5"/><use href="#gd" x="169.4" y="728.3"/><use href="#gd" x="187.8" y="744.6"/><use href="#gd" x="194.9" y="752.0"/><use href="#gd" x="184.7" y="739.0"/><use href="#gd" x="258.4" y="799.5"/><use href="#gd" x="262.4" y="809.8"/><use href="#gd" x="249.6" y="798.5"/><use href="#gd" x="241.6" y="792.9"/><use href="#gd" x="209.9" y="775.2"/><use href="#gd" x="215.8" y="770.5"/><use href="#gd" x="216.5" y="781.9"/><use href="#gd" x="207.3" y="769.2"/><use href="#gd" x="210.0" y="772.0"/><use href="#gd" x="235.3" y="784.7"/><use href="#gd" x="261.9" y="795.1"/><use href="#gd" x="222.0" y="773.7"/><use href="#gd" x="243.9" y="798.6"/><use href="#gd" x="234.3" y="782.5"/><use href="#gd" x="257.9" y="806.7"/><use href="#gd" x="215.1" y="777.3"/><use href="#gd" x="244.2" y="793.9"/><use href="#gd" x="268.0" y="808.1"/><use href="#gd" x="215.3" y="773.4"/><use href="#gd" x="270.5" y="808.4"/><use href="#gd" x="245.2" y="785.1"/><use href="#gd" x="214.6" y="770.4"/><use href="#gd" x="213.0" y="777.2"/><use href="#gd" x="240.2" y="788.8"/><use href="#gd" x="230.4" y="795.5"/><use href="#gd" x="239.5" y="787.1"/><use href="#gd" x="214.5" y="772.6"/><use href="#gd" x="252.7" y="802.6"/><use href="#gd" x="229.0" y="783.7"/><use href="#gd" x="241.6" y="784.3"/><use href="#gd" x="231.6" y="787.8"/><use href="#gd" x="217.3" y="779.5"/><use href="#gd" x="211.1" y="772.8"/><use href="#gd" x="241.3" y="791.2"/><use href="#gd" x="246.9" y="791.1"/><use href="#gd" x="234.5" y="798.1"/><use href="#gd" x="238.0" y="786.4"/><use href="#gd" x="205.9" y="771.8"/><use href="#gd" x="251.1" y="799.5"/><use href="#gd" x="229.8" y="776.6"/><use href="#gd" x="255.0" y="800.4"/><use href="#gd" x="206.1" y="767.8"/><use href="#gd" x="225.4" y="776.6"/><use href="#gd" x="234.2" y="788.7"/><use href="#gd" x="227.9" y="782.5"/><use href="#gd" x="263.8" y="805.3"/><use href="#gd" x="245.5" y="789.7"/><use href="#gd" x="258.7" y="800.7"/><use href="#gd" x="250.2" y="799.5"/><use href="#gd" x="267.3" y="805.8"/><use href="#gd" x="253.6" y="802.7"/><use href="#gd" x="246.5" y="794.9"/><use href="#gd" x="255.7" y="803.1"/><use href="#gd" x="218.5" y="778.1"/><use href="#gd" x="213.9" y="767.8"/><use href="#gd" x="220.3" y="765.2"/><use href="#gd" x="217.2" y="775.2"/><use href="#gd" x="220.5" y="775.6"/><use href="#gd" x="219.7" y="778.0"/><use href="#gd" x="225.4" y="777.6"/><use href="#gd" x="222.1" y="776.2"/><use href="#gd" x="215.4" y="762.4"/><use href="#gd" x="215.7" y="779.6"/><use href="#gd" x="232.3" y="795.2"/><use href="#gd" x="268.5" y="817.3"/><use href="#gd" x="209.0" y="764.5"/><use href="#gd" x="269.8" y="809.9"/><use href="#gd" x="223.9" y="783.6"/><use href="#gd" x="216.0" y="772.8"/><use href="#gd" x="215.6" y="768.9"/><use href="#gd" x="216.4" y="777.6"/><use href="#gd" x="231.2" y="790.7"/><use href="#gd" x="215.3" y="767.7"/><use href="#gd" x="256.3" y="801.3"/><use href="#gd" x="264.8" y="805.9"/><use href="#gd" x="212.3" y="771.1"/><use href="#gd" x="263.4" y="804.5"/><use href="#gd" x="230.0" y="793.2"/><use href="#gd" x="246.5" y="792.4"/><use href="#gd" x="217.1" y="771.2"/><use href="#gd" x="243.0" y="796.6"/><use href="#gd" x="238.7" y="795.1"/><use href="#gd" x="245.4" y="785.9"/><use href="#gd" x="212.6" y="767.3"/><use href="#gd" x="264.0" y="807.7"/><use href="#gd" x="233.4" y="787.6"/><use href="#gd" x="225.2" y="780.5"/><use href="#gd" x="252.9" y="804.5"/><use href="#gd" x="205.6" y="765.1"/><use href="#gd" x="255.2" y="803.9"/><use href="#gd" x="190.5" y="721.9"/><use href="#gd" x="175.4" y="707.8"/><use href="#gd" x="175.2" y="731.1"/><use href="#gd" x="220.7" y="740.5"/><use href="#gd" x="194.5" y="726.9"/><use href="#gd" x="222.3" y="744.1"/><use href="#gd" x="213.0" y="751.1"/><use href="#gd" x="219.3" y="732.2"/><use href="#gd" x="185.0" y="718.3"/><use href="#gd" x="208.6" y="724.1"/><use href="#gd" x="197.4" y="744.6"/><use href="#gd" x="203.0" y="743.0"/><use href="#gd" x="191.1" y="727.4"/><use href="#gd" x="175.0" y="707.0"/><use href="#gd" x="197.0" y="724.8"/><use href="#gd" x="222.2" y="742.5"/><use href="#gd" x="202.2" y="751.1"/><use href="#gd" x="202.3" y="727.0"/><use href="#gd" x="230.0" y="765.3"/><use href="#gd" x="220.9" y="727.7"/><use href="#gd" x="203.6" y="733.9"/><use href="#gd" x="201.9" y="721.8"/><use href="#gd" x="171.1" y="717.3"/><use href="#gd" x="238.0" y="773.4"/><use href="#gd" x="170.6" y="712.2"/><use href="#gd" x="195.0" y="753.7"/><use href="#gd" x="195.4" y="686.6"/><use href="#gd" x="223.8" y="756.5"/><use href="#gd" x="174.8" y="713.4"/><use href="#gd" x="166.4" y="713.6"/><use href="#gd" x="244.8" y="748.0"/><use href="#gd" x="220.4" y="736.8"/><use href="#gd" x="251.6" y="745.5"/><use href="#gd" x="240.1" y="741.6"/><use href="#gd" x="246.5" y="735.1"/><use href="#gd" x="236.3" y="756.3"/><use href="#gd" x="238.0" y="742.6"/><use href="#gd" x="245.8" y="787.5"/><use href="#gd" x="224.5" y="734.4"/><use href="#gd" x="227.5" y="750.4"/><use href="#gd" x="253.9" y="732.0"/><use href="#gd" x="216.9" y="762.0"/><use href="#gd" x="236.0" y="742.8"/><use href="#gd" x="245.9" y="753.7"/><use href="#gd" x="258.6" y="743.1"/><use href="#gd" x="238.6" y="737.6"/><use href="#gd" x="219.6" y="787.3"/><use href="#gd" x="254.9" y="774.7"/><use href="#gd" x="237.6" y="770.3"/><use href="#gd" x="225.2" y="741.0"/><use href="#gd" x="188.0" y="656.6"/><use href="#gd" x="314.8" y="743.1"/><use href="#gd" x="251.4" y="725.1"/><use href="#gd" x="240.4" y="729.5"/><use href="#gd" x="244.1" y="736.2"/><use href="#gd" x="216.0" y="736.2"/><use href="#gd" x="231.5" y="745.0"/><use href="#gd" x="234.5" y="754.6"/><use href="#gd" x="265.4" y="755.3"/><use href="#gd" x="292.0" y="773.8"/><use href="#gd" x="185.8" y="766.4"/><use href="#gd" x="186.6" y="776.7"/><use href="#gd" x="205.0" y="791.4"/><use href="#gd" x="207.9" y="781.1"/><use href="#gd" x="156.3" y="701.5"/><use href="#gd" x="198.4" y="806.1"/><use href="#gd" x="213.1" y="798.0"/><use href="#gd" x="233.7" y="800.2"/><use href="#gd" x="271.3" y="814.2"/><use href="#gd" x="283.4" y="819.4"/><use href="#gd" x="287.5" y="834.1"/><use href="#gd" x="256.6" y="853.0"/><use href="#gd" x="320.4" y="849.3"/><use href="#gd" x="259.5" y="802.4"/>
<use href="#dd" x="140.6" y="690.0"/><use href="#dd" x="163.0" y="684.6"/><use href="#dd" x="160.5" y="693.4"/><use href="#dd" x="174.0" y="675.7"/><use href="#dd" x="178.5" y="682.4"/><use href="#dd" x="188.8" y="680.1"/><use href="#dd" x="182.9" y="695.6"/><use href="#dd" x="172.6" y="714.8"/><use href="#dd" x="184.3" y="714.8"/><use href="#dd" x="200.6" y="713.0"/><use href="#dd" x="182.9" y="720.7"/><use href="#dd" x="165.9" y="729.5"/><use href="#dd" x="171.8" y="734.0"/><use href="#dd" x="196.1" y="743.5"/><use href="#dd" x="202.0" y="745.0"/><use href="#dd" x="207.2" y="742.8"/><use href="#dd" x="174.0" y="747.5"/><use href="#dd" x="195.4" y="748.0"/><use href="#dd" x="222.7" y="767.9"/><use href="#dd" x="211.6" y="776.0"/><use href="#dd" x="216.0" y="781.1"/><use href="#dd" x="261.7" y="770.8"/><use href="#dd" x="189.8" y="811.7"/>
<use href="#ft" x="186.6" y="606.4"/><use href="#ft" x="199.8" y="627.1"/><use href="#ft" x="210.1" y="629.3"/><use href="#ft" x="216.5" y="647.0"/><use href="#ft" x="223.4" y="647.7"/><use href="#ft" x="227.4" y="645.5"/><use href="#ft" x="247.4" y="672.0"/><use href="#ft" x="290.8" y="710.8"/><use href="#ft" x="310.4" y="720.7"/><use href="#ft" x="468.0" y="887.2"/><use href="#ft" x="447.0" y="960.2"/><use href="#ft" x="588.9" y="980.8"/><use href="#ft" x="609.1" y="980.8"/>
<use href="#ot" x="171.1" y="634.4"/><use href="#ot" x="206.5" y="682.3"/><use href="#ot" x="209.1" y="684.6"/><use href="#ot" x="193.2" y="705.2"/><use href="#ot" x="227.8" y="710.8"/><use href="#ot" x="230.8" y="715.5"/><use href="#ot" x="238.2" y="715.5"/><use href="#ot" x="255.1" y="753.1"/><use href="#ot" x="274.0" y="778.2"/><use href="#ot" x="239.6" y="785.5"/><use href="#ot" x="393.3" y="875.4"/>
<use href="#ps" x="250.0" y="759.0"/><use href="#ps" x="252.2" y="764.9"/><use href="#ps" x="255.1" y="767.9"/><use href="#ps" x="248.5" y="769.3"/><use href="#ps" x="253.6" y="772.3"/><use href="#ps" x="300.0" y="806.2"/><use href="#ps" x="276.7" y="784.9"/><use href="#ps" x="288.1" y="802.7"/><use href="#ps" x="287.7" y="789.9"/><use href="#ps" x="284.5" y="805.8"/><use href="#ps" x="276.6" y="802.0"/><use href="#ps" x="293.7" y="802.2"/><use href="#ps" x="295.9" y="796.8"/><use href="#ps" x="287.9" y="808.6"/><use href="#ps" x="285.5" y="795.4"/><use href="#ps" x="276.4" y="793.3"/><use href="#ps" x="295.7" y="807.0"/><use href="#ps" x="294.8" y="803.3"/><use href="#ps" x="294.3" y="801.5"/><use href="#ps" x="298.1" y="799.5"/><use href="#ps" x="298.7" y="800.1"/><use href="#ps" x="274.7" y="788.4"/><use href="#ps" x="287.3" y="795.6"/><use href="#ps" x="278.2" y="792.0"/><use href="#ps" x="290.7" y="801.2"/><use href="#ps" x="296.6" y="795.2"/><use href="#ps" x="292.4" y="805.1"/><use href="#ps" x="292.2" y="809.2"/><use href="#ps" x="284.8" y="797.7"/><use href="#ps" x="290.6" y="796.6"/><use href="#ps" x="288.6" y="799.8"/><use href="#ps" x="288.7" y="795.6"/><use href="#ps" x="285.1" y="797.3"/><use href="#ps" x="275.4" y="796.9"/><use href="#ps" x="279.3" y="795.2"/><use href="#ps" x="279.4" y="797.2"/><use href="#ps" x="285.7" y="796.4"/><use href="#ps" x="282.5" y="797.9"/><use href="#ps" x="303.1" y="791.2"/><use href="#ps" x="271.3" y="805.4"/><use href="#ps" x="274.3" y="799.5"/><use href="#ps" x="306.7" y="795.1"/><use href="#ps" x="300.8" y="809.8"/><use href="#ps" x="272.8" y="789.2"/>
<use href="#rc" x="185.4" y="596.1"/><use href="#rc" x="193.6" y="611.6"/><use href="#rc" x="185.1" y="620.7"/><use href="#rc" x="172.6" y="667.6"/><use href="#rc" x="178.5" y="665.4"/><use href="#rc" x="185.8" y="668.4"/><use href="#rc" x="188.0" y="667.6"/><use href="#rc" x="174.8" y="666.9"/><use href="#rc" x="181.4" y="685.3"/><use href="#rc" x="185.8" y="687.5"/><use href="#rc" x="167.4" y="691.2"/><use href="#rc" x="172.6" y="697.1"/><use href="#rc" x="177.0" y="701.5"/><use href="#rc" x="178.5" y="705.2"/><use href="#rc" x="176.2" y="707.4"/><use href="#rc" x="207.2" y="699.3"/><use href="#rc" x="153.1" y="713.3"/><use href="#rc" x="191.7" y="722.2"/><use href="#rc" x="185.8" y="729.5"/><use href="#rc" x="193.2" y="726.6"/><use href="#rc" x="201.3" y="728.8"/><use href="#rc" x="160.8" y="736.2"/><use href="#rc" x="155.6" y="741.3"/><use href="#rc" x="164.4" y="752.4"/><use href="#rc" x="182.6" y="753.9"/><use href="#rc" x="205.7" y="757.5"/>
<use href="#oc" x="228.6" y="774.5"/><use href="#oc" x="227.8" y="787.8"/><use href="#oc" x="254.4" y="790.0"/>
<use href="#gp" x="306.3" y="769.6"/><use href="#gp" x="311.1" y="807.1"/><use href="#gp" x="320.0" y="810.5"/><use href="#gp" x="340.2" y="823.8"/><use href="#gp" x="395.4" y="849.6"/><use href="#gp" x="415.3" y="847.4"/>
<use href="#bg" x="378.8" y="829.0"/><use href="#bg" x="383.3" y="826.8"/><use href="#bg" x="387.7" y="823.1"/><use href="#bg" x="390.6" y="829.0"/><use href="#bg" x="392.1" y="834.9"/><use href="#bg" x="384.7" y="831.9"/>
</g>
<clipPath id="cpE"><rect x="776.3" y="553.5" width="568.8" height="455.4"/></clipPath><g clip-path="url(#cpE)">
<polygon points="790.5,669.1 832.5,671.7 874.4,676.5 916.4,679.4 958.3,696.4 1000.2,731.8 1042.2,708.9 1084.2,710.4 1126.1,711.8 1168.0,715.5 1210.0,719.2 1252.0,720.7 1293.9,722.2 1335.8,728.1 1335.8,1000.7 1293.9,996.3 1252.0,993.5 1210.0,991.1 1168.0,993.0 1126.1,994.5 1084.2,982.3 1042.2,987.9 1000.2,943.9 958.3,983.4 916.4,980.8 874.4,979.3 832.5,977.3 790.5,974.9" fill="#00e0e8" fill-opacity="0.03"/>
<polygon points="790.5,592.7 832.5,596.6 874.4,601.3 916.4,605.0 958.3,608.7 1000.2,727.2 958.3,847.1 916.4,841.6 874.4,839.0 832.5,836.8 790.5,844.1" fill="#808080" fill-opacity="0.085"/><polygon points="1000.2,727.2 1042.2,616.0 1084.2,624.1 1126.1,630.5 1168.0,636.7 1210.0,641.8 1252.0,645.5 1293.9,649.2 1335.8,656.6 1335.8,841.2 1293.9,840.7 1252.0,841.9 1210.0,843.4 1168.0,843.4 1126.1,844.1 1084.2,844.9 1042.2,845.6" fill="#808080" fill-opacity="0.085"/>
<polyline points="790.5,592.7 832.5,596.6 874.4,601.3 916.4,605.0 958.3,608.7 1042.2,845.6 1084.2,844.9 1126.1,844.1 1168.0,843.4 1210.0,843.4 1252.0,841.9 1293.9,840.7 1335.8,841.2" stroke="#9a9a9a" stroke-width="1.2" stroke-dasharray="1.8 2.6" fill="none"/>
<polyline points="790.5,844.1 832.5,836.8 874.4,839.0 916.4,841.6 958.3,847.1 1042.2,616.0 1084.2,624.1 1126.1,630.5 1168.0,636.7 1210.0,641.8 1252.0,645.5 1293.9,649.2 1335.8,656.6" stroke="#9a9a9a" stroke-width="1.2" stroke-dasharray="1.8 2.6" fill="none"/>
<polyline points="790.5,974.9 832.5,977.3 874.4,979.3 916.4,980.8 958.3,983.4 1000.2,943.9 1042.2,987.9 1084.2,982.3 1126.1,994.5 1168.0,993.0 1210.0,991.1 1252.0,993.5 1293.9,996.3 1335.8,1000.7" stroke="#20e0e8" stroke-width="1.4" stroke-dasharray="9 3 2 3" fill="none" stroke-opacity="0.95"/><polyline points="790.5,669.1 832.5,671.7 874.4,676.5 916.4,679.4 958.3,696.4 1000.2,731.8 1042.2,708.9 1084.2,710.4 1126.1,711.8 1168.0,715.5 1210.0,719.2 1252.0,720.7 1293.9,722.2 1335.8,728.1" stroke="#20e0e8" stroke-width="1.4" stroke-dasharray="9 3 2 3" fill="none" stroke-opacity="0.95"/>
<polyline points="790.5,680.6 832.5,685.6 874.4,680.9 916.4,681.6 958.3,680.6 1000.2,726.6 1042.2,697.1 1084.2,702.3 1126.1,706.7 1168.0,709.6 1210.0,714.8 1252.0,719.2 1293.9,714.1 1335.8,734.0" stroke="#d43c3c" stroke-opacity="0.85" stroke-width="2.8" stroke-dasharray="9 5.5" fill="none"/>
<polyline points="790.5,668.4 832.5,663.5 874.4,674.3 916.4,689.7 958.3,698.6 1000.2,773.8 1042.2,707.4 1084.2,712.6 1126.1,710.7 1168.0,721.4 1210.0,720.0 1252.0,729.5 1293.9,733.2 1335.8,737.6" stroke="#4a52d0" stroke-opacity="0.75" stroke-width="2.6" fill="none" stroke-linejoin="round"/>
<polyline points="790.5,661.7 832.5,657.3 874.4,666.4 916.4,670.3 958.3,677.2 1000.2,736.2 1042.2,685.8 1084.2,690.5 1126.1,694.9 1168.0,701.5 1210.0,705.2 1252.0,710.4 1293.9,713.3 1335.8,719.2" stroke="#111" stroke-opacity="0.85" stroke-width="2.4" fill="none" stroke-linejoin="round"/>
<polyline points="790.5,654.1 832.5,653.8 874.4,662.5 916.4,671.3 958.3,681.2 1000.2,765.7 1042.2,689.7 1084.2,695.6 1126.1,693.4 1168.0,702.7 1210.0,701.8 1252.0,708.9 1293.9,714.8 1335.8,721.4" stroke="#1a22b8" stroke-opacity="0.8" stroke-width="3.2" fill="none" stroke-linejoin="round"/>
<polyline points="790.5,722.9 832.5,708.2 874.4,713.3 916.4,733.2 958.3,735.4 1000.2,794.4 1042.2,733.2 1084.2,740.6 1126.1,747.5 1168.0,740.6 1210.0,752.4 1252.0,757.3 1293.9,759.8 1335.8,773.5" stroke="#1f9a22" stroke-opacity="0.62" stroke-width="4.4" fill="none" stroke-linejoin="miter"/>
<polyline points="790.5,715.3 832.5,707.5 874.4,712.4 916.4,719.7 958.3,726.0 1000.2,785.0 1042.2,720.8 1084.2,725.9 1126.1,731.8 1168.0,727.3 1210.0,739.1 1252.0,746.9 1293.9,746.5 1335.8,756.1" stroke="#1f9a22" stroke-opacity="0.62" stroke-width="4.4" fill="none" stroke-linejoin="miter"/>
<polyline points="790.5,714.8 832.5,707.0 874.4,711.9 916.4,719.2 958.3,725.4 1000.2,782.6 1042.2,720.0 1084.2,723.6 1126.1,731.0 1168.0,725.9 1210.0,734.0 1252.0,737.6 1293.9,741.6 1335.8,748.4" stroke="#1f9a22" stroke-opacity="0.62" stroke-width="4.4" fill="none" stroke-linejoin="miter"/>
</g>
<rect x="1069.8" y="556.8" width="52.9" height="25.5" fill="#f2fdfe" stroke="#20e0e8" stroke-width="1.4" stroke-dasharray="9 3 2 3"/>
<rect x="1069.8" y="587.8" width="52.9" height="24.8" fill="#f4f4f4" stroke="#9a9a9a" stroke-width="1.2" stroke-dasharray="1.8 2.6"/>
<text x="1132.3" y="577.9" class="c" textLength="208" lengthAdjust="spacing">镁质岩套(富橄榄石)</text>
<text x="1132.3" y="608.1" class="c" textLength="208" lengthAdjust="spacing">镁质岩套(贫橄榄石)</text>
<clipPath id="cpF"><rect x="1458.9" y="553.5" width="568.8" height="455.4"/></clipPath><g clip-path="url(#cpF)">
<use href="#gd" x="1556.3" y="762.9"/><use href="#gd" x="1560.8" y="766.5"/><use href="#gd" x="1553.5" y="760.5"/><use href="#gd" x="1555.4" y="763.2"/><use href="#gd" x="1581.0" y="774.1"/><use href="#gd" x="1596.2" y="779.0"/><use href="#gd" x="1586.8" y="768.4"/><use href="#gd" x="1563.8" y="761.7"/><use href="#gd" x="1550.7" y="763.0"/><use href="#gd" x="1583.9" y="771.9"/><use href="#gd" x="1580.1" y="765.7"/><use href="#gd" x="1547.4" y="756.5"/><use href="#gd" x="1583.6" y="768.5"/><use href="#gd" x="1546.1" y="763.1"/><use href="#gd" x="1540.2" y="752.5"/><use href="#gd" x="1541.1" y="753.7"/><use href="#gd" x="1587.7" y="771.8"/><use href="#gd" x="1562.5" y="761.1"/><use href="#gd" x="1541.0" y="759.4"/><use href="#gd" x="1559.7" y="766.4"/><use href="#gd" x="1575.7" y="768.7"/><use href="#gd" x="1575.2" y="762.8"/><use href="#gd" x="1579.0" y="764.5"/><use href="#gd" x="1545.7" y="759.5"/><use href="#gd" x="1532.9" y="751.4"/><use href="#gd" x="1541.6" y="750.8"/><use href="#gd" x="1587.6" y="772.7"/><use href="#gd" x="1553.8" y="761.3"/><use href="#gd" x="1571.5" y="764.1"/><use href="#gd" x="1546.2" y="759.9"/><use href="#gd" x="1565.8" y="760.0"/><use href="#gd" x="1542.7" y="758.0"/><use href="#gd" x="1582.5" y="765.1"/><use href="#gd" x="1545.1" y="762.2"/><use href="#gd" x="1547.5" y="761.2"/><use href="#gd" x="1589.9" y="777.0"/><use href="#gd" x="1589.1" y="771.2"/><use href="#gd" x="1545.9" y="753.9"/><use href="#gd" x="1591.5" y="773.6"/><use href="#gd" x="1538.3" y="760.2"/><use href="#gd" x="1555.7" y="764.1"/><use href="#gd" x="1552.2" y="761.6"/><use href="#gd" x="1563.2" y="761.8"/><use href="#gd" x="1572.4" y="766.8"/><use href="#gd" x="1578.3" y="764.0"/><use href="#gd" x="1568.2" y="758.5"/><use href="#gd" x="1540.1" y="759.7"/><use href="#gd" x="1578.4" y="769.7"/><use href="#gd" x="1546.1" y="762.0"/><use href="#gd" x="1577.1" y="770.0"/><use href="#gd" x="1583.3" y="769.0"/><use href="#gd" x="1538.0" y="755.9"/><use href="#gd" x="1595.4" y="769.0"/><use href="#gd" x="1572.7" y="758.7"/><use href="#gd" x="1574.6" y="762.4"/><use href="#gd" x="1588.9" y="770.3"/><use href="#gd" x="1584.2" y="768.8"/><use href="#gd" x="1570.1" y="770.3"/><use href="#gd" x="1585.1" y="767.3"/><use href="#gd" x="1544.7" y="754.9"/><use href="#gd" x="1602.3" y="763.8"/><use href="#gd" x="1549.4" y="763.9"/><use href="#gd" x="1590.7" y="774.3"/><use href="#gd" x="1553.1" y="764.1"/><use href="#gd" x="1550.3" y="760.5"/><use href="#gd" x="1543.2" y="761.9"/><use href="#gd" x="1586.1" y="765.0"/><use href="#gd" x="1589.3" y="773.1"/><use href="#gd" x="1565.5" y="765.6"/><use href="#gd" x="1549.7" y="756.4"/><use href="#gd" x="1539.6" y="758.6"/><use href="#gd" x="1590.7" y="774.6"/><use href="#gd" x="1569.2" y="769.0"/><use href="#gd" x="1582.8" y="768.4"/><use href="#gd" x="1557.1" y="759.2"/><use href="#gd" x="1597.3" y="772.5"/><use href="#gd" x="1534.9" y="761.7"/><use href="#gd" x="1567.1" y="762.9"/><use href="#gd" x="1600.6" y="778.0"/><use href="#gd" x="1545.6" y="757.5"/><use href="#gd" x="1591.4" y="775.2"/><use href="#gd" x="1544.6" y="755.2"/><use href="#gd" x="1573.8" y="764.5"/><use href="#gd" x="1572.9" y="764.6"/><use href="#gd" x="1544.3" y="760.5"/><use href="#gd" x="1574.0" y="767.0"/><use href="#gd" x="1584.5" y="765.0"/><use href="#gd" x="1553.2" y="770.0"/><use href="#gd" x="1564.9" y="762.3"/><use href="#gd" x="1589.8" y="767.5"/><use href="#gd" x="1551.5" y="754.4"/><use href="#gd" x="1587.7" y="769.0"/><use href="#gd" x="1584.9" y="775.5"/><use href="#gd" x="1566.7" y="761.6"/><use href="#gd" x="1596.5" y="771.5"/><use href="#gd" x="1553.3" y="761.8"/><use href="#gd" x="1604.5" y="769.9"/><use href="#gd" x="1563.7" y="757.2"/><use href="#gd" x="1595.4" y="768.2"/><use href="#gd" x="1583.7" y="770.5"/><use href="#gd" x="1562.0" y="769.1"/><use href="#gd" x="1549.3" y="764.9"/><use href="#gd" x="1540.5" y="757.6"/><use href="#gd" x="1544.0" y="760.7"/><use href="#gd" x="1557.7" y="763.7"/><use href="#gd" x="1561.1" y="762.4"/><use href="#gd" x="1551.9" y="761.7"/><use href="#gd" x="1555.4" y="764.1"/><use href="#gd" x="1574.3" y="768.5"/><use href="#gd" x="1542.3" y="765.6"/><use href="#gd" x="1600.2" y="775.7"/><use href="#gd" x="1590.0" y="765.7"/><use href="#gd" x="1579.0" y="768.0"/><use href="#gd" x="1601.7" y="767.1"/><use href="#gd" x="1559.8" y="755.8"/><use href="#gd" x="1560.1" y="766.4"/><use href="#gd" x="1571.6" y="765.2"/><use href="#gd" x="1595.9" y="774.0"/><use href="#gd" x="1568.5" y="764.8"/><use href="#gd" x="1571.5" y="765.1"/><use href="#gd" x="1547.3" y="769.0"/><use href="#gd" x="1573.0" y="769.5"/><use href="#gd" x="1552.7" y="764.1"/><use href="#gd" x="1582.0" y="771.5"/><use href="#gd" x="1545.4" y="754.2"/><use href="#gd" x="1589.4" y="774.1"/><use href="#gd" x="1565.8" y="765.5"/><use href="#gd" x="1587.4" y="767.0"/><use href="#gd" x="1539.8" y="755.1"/><use href="#gd" x="1551.1" y="768.4"/><use href="#gd" x="1546.9" y="763.1"/><use href="#gd" x="1581.6" y="771.0"/><use href="#gd" x="1557.3" y="761.8"/><use href="#gd" x="1546.6" y="765.9"/><use href="#gd" x="1546.4" y="759.4"/><use href="#gd" x="1576.6" y="769.3"/><use href="#gd" x="1568.7" y="755.3"/><use href="#gd" x="1541.3" y="758.4"/><use href="#gd" x="1557.9" y="759.5"/><use href="#gd" x="1560.7" y="772.9"/><use href="#gd" x="1591.2" y="765.9"/><use href="#gd" x="1591.6" y="769.2"/><use href="#gd" x="1550.4" y="757.6"/><use href="#gd" x="1575.9" y="765.3"/><use href="#gd" x="1551.5" y="762.1"/><use href="#gd" x="1579.1" y="765.5"/><use href="#gd" x="1547.8" y="761.4"/><use href="#gd" x="1550.1" y="756.6"/><use href="#gd" x="1581.5" y="773.8"/><use href="#gd" x="1588.4" y="778.1"/><use href="#gd" x="1588.8" y="769.7"/><use href="#gd" x="1542.3" y="756.5"/><use href="#gd" x="1550.8" y="760.0"/><use href="#gd" x="1554.6" y="760.7"/><use href="#gd" x="1578.1" y="764.9"/><use href="#gd" x="1593.1" y="769.0"/><use href="#gd" x="1550.6" y="766.0"/><use href="#gd" x="1562.1" y="764.6"/><use href="#gd" x="1569.6" y="766.5"/><use href="#gd" x="1595.9" y="767.3"/><use href="#gd" x="1582.8" y="766.5"/><use href="#gd" x="1576.0" y="767.2"/><use href="#gd" x="1574.2" y="767.7"/><use href="#gd" x="1547.1" y="751.6"/><use href="#gd" x="1591.6" y="771.1"/><use href="#gd" x="1574.2" y="763.8"/><use href="#gd" x="1541.6" y="760.8"/><use href="#gd" x="1593.1" y="766.4"/><use href="#gd" x="1581.8" y="769.5"/><use href="#gd" x="1563.2" y="760.6"/><use href="#gd" x="1586.0" y="770.2"/><use href="#gd" x="1571.4" y="762.1"/><use href="#gd" x="1548.5" y="761.1"/><use href="#gd" x="1586.0" y="766.3"/><use href="#gd" x="1574.0" y="763.5"/><use href="#gd" x="1574.4" y="771.6"/><use href="#gd" x="1574.9" y="761.7"/><use href="#gd" x="1581.8" y="772.6"/><use href="#gd" x="1544.3" y="755.7"/><use href="#gd" x="1571.6" y="762.3"/><use href="#gd" x="1536.7" y="745.0"/><use href="#gd" x="1559.2" y="759.3"/><use href="#gd" x="1552.3" y="752.5"/><use href="#gd" x="1552.0" y="759.2"/><use href="#gd" x="1560.5" y="758.8"/><use href="#gd" x="1537.6" y="757.7"/><use href="#gd" x="1527.3" y="751.3"/><use href="#gd" x="1542.5" y="749.3"/><use href="#gd" x="1558.1" y="758.7"/><use href="#gd" x="1533.7" y="753.2"/><use href="#gd" x="1546.1" y="752.6"/><use href="#gd" x="1538.6" y="747.3"/><use href="#gd" x="1552.5" y="752.7"/><use href="#gd" x="1538.3" y="750.0"/><use href="#gd" x="1549.6" y="751.8"/><use href="#gd" x="1536.7" y="752.0"/><use href="#gd" x="1559.4" y="757.7"/><use href="#gd" x="1526.4" y="746.7"/><use href="#gd" x="1538.9" y="746.1"/><use href="#gd" x="1538.2" y="742.4"/><use href="#gd" x="1540.7" y="748.3"/><use href="#gd" x="1550.0" y="753.7"/><use href="#gd" x="1537.2" y="748.0"/><use href="#gd" x="1552.9" y="759.0"/><use href="#gd" x="1534.4" y="748.4"/><use href="#gd" x="1531.8" y="752.0"/><use href="#gd" x="1557.7" y="762.0"/><use href="#gd" x="1534.0" y="739.2"/><use href="#gd" x="1549.0" y="760.0"/><use href="#gd" x="1552.9" y="755.7"/><use href="#gd" x="1542.8" y="744.6"/><use href="#gd" x="1537.2" y="749.7"/><use href="#gd" x="1541.5" y="745.6"/><use href="#gd" x="1536.2" y="749.5"/><use href="#gd" x="1542.9" y="753.0"/><use href="#gd" x="1547.0" y="754.9"/><use href="#gd" x="1532.2" y="739.8"/><use href="#gd" x="1537.9" y="742.9"/><use href="#gd" x="1530.4" y="745.0"/><use href="#gd" x="1540.1" y="752.2"/><use href="#gd" x="1625.8" y="766.8"/><use href="#gd" x="1632.6" y="763.8"/><use href="#gd" x="1633.4" y="762.9"/><use href="#gd" x="1606.6" y="757.4"/><use href="#gd" x="1590.0" y="751.1"/><use href="#gd" x="1595.3" y="753.7"/><use href="#gd" x="1628.6" y="758.4"/><use href="#gd" x="1595.1" y="760.2"/><use href="#gd" x="1614.6" y="754.2"/><use href="#gd" x="1603.9" y="768.0"/><use href="#gd" x="1628.9" y="766.4"/><use href="#gd" x="1606.6" y="752.9"/><use href="#gd" x="1631.5" y="762.7"/><use href="#gd" x="1621.9" y="763.0"/><use href="#gd" x="1611.8" y="761.5"/><use href="#gd" x="1601.8" y="762.5"/><use href="#gd" x="1592.6" y="757.9"/><use href="#gd" x="1638.6" y="759.9"/><use href="#gd" x="1612.9" y="761.8"/><use href="#gd" x="1622.7" y="762.1"/><use href="#gd" x="1612.2" y="752.8"/><use href="#gd" x="1607.5" y="765.8"/><use href="#gd" x="1633.3" y="764.0"/><use href="#gd" x="1621.1" y="758.4"/><use href="#gd" x="1628.0" y="758.4"/><use href="#gd" x="1607.7" y="756.7"/><use href="#gd" x="1633.7" y="769.9"/><use href="#gd" x="1620.0" y="768.8"/><use href="#gd" x="1639.7" y="767.4"/><use href="#gd" x="1639.5" y="768.8"/><use href="#gd" x="1605.1" y="758.7"/><use href="#gd" x="1588.1" y="755.6"/><use href="#gd" x="1603.8" y="755.2"/><use href="#gd" x="1638.1" y="764.3"/><use href="#gd" x="1602.9" y="753.9"/><use href="#gd" x="1618.1" y="758.3"/><use href="#gd" x="1604.7" y="762.0"/><use href="#gd" x="1621.9" y="766.0"/><use href="#gd" x="1609.7" y="754.3"/><use href="#gd" x="1636.1" y="761.2"/><use href="#gd" x="1623.7" y="765.5"/><use href="#gd" x="1588.0" y="766.8"/><use href="#gd" x="1608.8" y="762.2"/><use href="#gd" x="1570.0" y="771.6"/><use href="#gd" x="1624.7" y="773.3"/><use href="#gd" x="1597.6" y="755.3"/><use href="#gd" x="1607.1" y="772.0"/><use href="#gd" x="1590.0" y="755.7"/><use href="#gd" x="1612.4" y="774.9"/><use href="#gd" x="1609.7" y="769.0"/><use href="#gd" x="1595.9" y="747.2"/><use href="#gd" x="1631.1" y="759.4"/><use href="#gd" x="1612.6" y="753.7"/><use href="#gd" x="1625.6" y="749.6"/><use href="#gd" x="1603.4" y="772.3"/><use href="#gd" x="1619.4" y="746.9"/><use href="#gd" x="1628.5" y="774.0"/><use href="#gd" x="1635.1" y="752.3"/><use href="#gd" x="1560.3" y="761.4"/><use href="#gd" x="1612.0" y="749.2"/><use href="#gd" x="1598.9" y="746.6"/><use href="#gd" x="1567.8" y="772.5"/><use href="#gd" x="1609.1" y="753.3"/><use href="#gd" x="1606.0" y="749.3"/><use href="#gd" x="1588.7" y="766.0"/><use href="#gd" x="1590.6" y="720.7"/><use href="#gd" x="1581.0" y="725.1"/><use href="#gd" x="1511.8" y="767.1"/><use href="#gd" x="1514.7" y="771.5"/><use href="#gd" x="1578.1" y="781.9"/><use href="#gd" x="1590.6" y="779.7"/><use href="#gd" x="1596.5" y="781.1"/><use href="#gd" x="1629.0" y="790.0"/><use href="#gd" x="1686.2" y="770.5"/><use href="#gd" x="1732.9" y="790.7"/><use href="#gd" x="1606.8" y="747.2"/><use href="#gd" x="1611.3" y="753.1"/><use href="#gd" x="1626.0" y="751.6"/><use href="#gd" x="1630.4" y="756.1"/><use href="#gd" x="1561.1" y="773.8"/><use href="#gd" x="1550.8" y="801.7"/><use href="#gd" x="1563.4" y="794.3"/><use href="#gd" x="1550.8" y="862.9"/><use href="#gd" x="1566.3" y="856.7"/><use href="#gd" x="1563.8" y="906.8"/>
<use href="#dd" x="1561.4" y="597.1"/><use href="#dd" x="1536.1" y="748.0"/><use href="#dd" x="1559.7" y="748.7"/><use href="#dd" x="1565.6" y="753.9"/><use href="#dd" x="1577.4" y="756.1"/><use href="#dd" x="1582.5" y="753.9"/><use href="#dd" x="1588.9" y="757.5"/><use href="#dd" x="1561.1" y="767.6"/><use href="#dd" x="1531.7" y="801.0"/><use href="#dd" x="1536.8" y="806.1"/><use href="#dd" x="1529.4" y="815.0"/><use href="#dd" x="1524.3" y="820.9"/><use href="#dd" x="1525.8" y="829.7"/><use href="#dd" x="1547.1" y="820.4"/><use href="#dd" x="1553.0" y="812.0"/><use href="#dd" x="1558.2" y="809.1"/><use href="#dd" x="1562.6" y="806.9"/><use href="#dd" x="1564.8" y="810.5"/><use href="#dd" x="1567.0" y="806.9"/><use href="#dd" x="1571.5" y="798.7"/><use href="#dd" x="1562.6" y="801.7"/><use href="#dd" x="1575.1" y="816.1"/><use href="#dd" x="1627.5" y="813.0"/><use href="#dd" x="1560.4" y="809.8"/><use href="#dd" x="1564.1" y="808.3"/><use href="#dd" x="1568.5" y="804.6"/>
<use href="#ft" x="1582.1" y="873.2"/><use href="#ft" x="1592.4" y="918.9"/><use href="#ft" x="1553.0" y="945.9"/><use href="#ft" x="1656.7" y="950.6"/><use href="#ft" x="1566.3" y="973.4"/><use href="#ft" x="1588.4" y="969.7"/><use href="#ft" x="1613.5" y="969.7"/><use href="#ft" x="1833.9" y="927.8"/><use href="#ft" x="1975.1" y="912.3"/>
<use href="#ot" x="1558.2" y="817.9"/><use href="#ot" x="1604.2" y="809.1"/><use href="#ot" x="1595.8" y="821.6"/><use href="#ot" x="1605.7" y="824.5"/><use href="#ot" x="1639.7" y="839.3"/><use href="#ot" x="1593.9" y="851.8"/><use href="#ot" x="1620.8" y="849.6"/><use href="#ot" x="1574.7" y="879.8"/><use href="#ot" x="1536.8" y="899.0"/><use href="#ot" x="1759.2" y="798.0"/>
<use href="#ps" x="1616.4" y="766.4"/><use href="#ps" x="1615.0" y="770.8"/><use href="#ps" x="1620.1" y="767.9"/><use href="#ps" x="1615.7" y="782.6"/><use href="#ps" x="1639.3" y="758.3"/><use href="#ps" x="1642.2" y="762.7"/><use href="#ps" x="1659.2" y="759.8"/><use href="#ps" x="1624.5" y="772.3"/><use href="#ps" x="1633.4" y="773.8"/><use href="#ps" x="1639.3" y="769.3"/><use href="#ps" x="1641.5" y="776.7"/><use href="#ps" x="1646.6" y="764.9"/><use href="#ps" x="1651.1" y="772.3"/><use href="#ps" x="1648.1" y="768.6"/><use href="#ps" x="1650.3" y="784.8"/><use href="#ps" x="1659.2" y="787.0"/><use href="#ps" x="1671.7" y="789.2"/><use href="#ps" x="1678.3" y="788.5"/><use href="#ps" x="1655.5" y="767.9"/><use href="#ps" x="1658.4" y="769.3"/><use href="#ps" x="1661.4" y="770.1"/><use href="#ps" x="1664.3" y="768.6"/><use href="#ps" x="1667.3" y="770.8"/><use href="#ps" x="1660.7" y="772.3"/><use href="#ps" x="1662.9" y="767.1"/><use href="#ps" x="1666.5" y="767.9"/><use href="#ps" x="1669.5" y="770.1"/><use href="#ps" x="1659.2" y="766.4"/><use href="#ps" x="1665.1" y="773.0"/><use href="#ps" x="1662.1" y="773.8"/><use href="#ps" x="1657.0" y="771.5"/><use href="#ps" x="1670.2" y="772.3"/><use href="#ps" x="1673.2" y="769.3"/><use href="#ps" x="1674.7" y="771.5"/><use href="#ps" x="1653.3" y="770.1"/>
<use href="#rc" x="1551.1" y="684.6"/><use href="#rc" x="1560.0" y="689.4"/><use href="#rc" x="1550.5" y="697.1"/><use href="#rc" x="1538.3" y="709.6"/><use href="#rc" x="1543.5" y="711.8"/><use href="#rc" x="1547.1" y="714.1"/><use href="#rc" x="1553.0" y="711.1"/><use href="#rc" x="1551.6" y="713.3"/><use href="#rc" x="1556.7" y="717.7"/><use href="#rc" x="1572.9" y="711.1"/><use href="#rc" x="1526.5" y="724.4"/><use href="#rc" x="1534.6" y="723.6"/><use href="#rc" x="1542.0" y="725.1"/><use href="#rc" x="1567.0" y="723.3"/><use href="#rc" x="1549.3" y="731.0"/><use href="#rc" x="1553.0" y="732.5"/><use href="#rc" x="1518.4" y="736.2"/><use href="#rc" x="1547.9" y="744.3"/><use href="#rc" x="1571.9" y="744.3"/><use href="#rc" x="1521.3" y="750.9"/><use href="#rc" x="1529.4" y="749.4"/>
<use href="#oc" x="1594.3" y="736.9"/><use href="#oc" x="1620.8" y="736.2"/>
<use href="#bg" x="1748.1" y="754.5"/><use href="#bg" x="1757.4" y="759.7"/><use href="#bg" x="1754.7" y="769.3"/>
</g>
<clipPath id="cpG"><rect x="93.4" y="1088.7" width="568.8" height="455.4"/></clipPath><g clip-path="url(#cpG)">
<use href="#gd" x="219.0" y="1278.0"/><use href="#gd" x="202.9" y="1286.8"/><use href="#gd" x="223.8" y="1285.4"/><use href="#gd" x="207.4" y="1288.0"/><use href="#gd" x="210.7" y="1295.9"/><use href="#gd" x="226.6" y="1287.0"/><use href="#gd" x="192.8" y="1290.7"/><use href="#gd" x="193.0" y="1291.4"/><use href="#gd" x="240.8" y="1283.1"/><use href="#gd" x="233.1" y="1276.9"/><use href="#gd" x="195.0" y="1296.4"/><use href="#gd" x="246.6" y="1283.1"/><use href="#gd" x="232.2" y="1280.9"/><use href="#gd" x="213.5" y="1293.7"/><use href="#gd" x="209.8" y="1290.8"/><use href="#gd" x="231.5" y="1279.9"/><use href="#gd" x="222.1" y="1285.8"/><use href="#gd" x="205.3" y="1299.1"/><use href="#gd" x="192.5" y="1292.3"/><use href="#gd" x="221.2" y="1291.7"/><use href="#gd" x="235.7" y="1282.3"/><use href="#gd" x="234.0" y="1277.5"/><use href="#gd" x="186.6" y="1295.9"/><use href="#gd" x="211.3" y="1295.1"/><use href="#gd" x="226.2" y="1284.8"/><use href="#gd" x="242.0" y="1276.8"/><use href="#gd" x="215.9" y="1283.1"/><use href="#gd" x="232.4" y="1281.8"/><use href="#gd" x="209.0" y="1294.0"/><use href="#gd" x="196.7" y="1298.4"/><use href="#gd" x="225.8" y="1278.9"/><use href="#gd" x="238.0" y="1277.6"/><use href="#gd" x="243.9" y="1282.7"/><use href="#gd" x="230.6" y="1277.1"/><use href="#gd" x="195.3" y="1301.3"/><use href="#gd" x="196.3" y="1293.8"/><use href="#gd" x="193.3" y="1302.7"/><use href="#gd" x="209.5" y="1291.8"/><use href="#gd" x="212.5" y="1286.8"/><use href="#gd" x="240.2" y="1274.7"/><use href="#gd" x="205.3" y="1296.4"/><use href="#gd" x="187.4" y="1293.9"/><use href="#gd" x="212.6" y="1288.0"/><use href="#gd" x="223.2" y="1284.4"/><use href="#gd" x="210.3" y="1296.9"/><use href="#gd" x="227.0" y="1286.4"/><use href="#gd" x="214.0" y="1285.8"/><use href="#gd" x="190.9" y="1292.6"/><use href="#gd" x="224.5" y="1283.8"/><use href="#gd" x="209.6" y="1287.3"/><use href="#gd" x="185.6" y="1312.1"/><use href="#gd" x="225.4" y="1282.4"/><use href="#gd" x="197.3" y="1300.2"/><use href="#gd" x="229.8" y="1284.7"/><use href="#gd" x="226.7" y="1270.6"/><use href="#gd" x="198.2" y="1293.4"/><use href="#gd" x="180.6" y="1297.8"/><use href="#gd" x="193.6" y="1288.3"/><use href="#gd" x="229.2" y="1282.4"/><use href="#gd" x="218.2" y="1292.4"/><use href="#gd" x="198.1" y="1298.1"/><use href="#gd" x="236.1" y="1280.5"/><use href="#gd" x="186.4" y="1296.0"/><use href="#gd" x="229.0" y="1281.6"/><use href="#gd" x="226.1" y="1286.8"/><use href="#gd" x="201.7" y="1291.6"/><use href="#gd" x="213.2" y="1290.7"/><use href="#gd" x="198.5" y="1291.0"/><use href="#gd" x="195.3" y="1297.6"/><use href="#gd" x="241.7" y="1275.0"/><use href="#gd" x="197.7" y="1295.3"/><use href="#gd" x="200.7" y="1290.0"/><use href="#gd" x="192.3" y="1295.5"/><use href="#gd" x="212.8" y="1294.6"/><use href="#gd" x="239.5" y="1278.6"/><use href="#gd" x="223.8" y="1291.6"/><use href="#gd" x="226.3" y="1283.7"/><use href="#gd" x="228.5" y="1275.0"/><use href="#gd" x="202.3" y="1296.5"/><use href="#gd" x="198.8" y="1295.7"/><use href="#gd" x="205.6" y="1292.4"/><use href="#gd" x="211.8" y="1299.8"/><use href="#gd" x="186.3" y="1304.4"/><use href="#gd" x="210.7" y="1291.1"/><use href="#gd" x="209.5" y="1285.7"/><use href="#gd" x="216.0" y="1289.7"/><use href="#gd" x="236.5" y="1277.2"/><use href="#gd" x="230.2" y="1279.2"/><use href="#gd" x="203.3" y="1289.2"/><use href="#gd" x="210.2" y="1291.7"/><use href="#gd" x="211.0" y="1289.2"/><use href="#gd" x="209.0" y="1293.9"/><use href="#gd" x="187.1" y="1294.3"/><use href="#gd" x="209.5" y="1293.8"/><use href="#gd" x="242.5" y="1276.9"/><use href="#gd" x="199.0" y="1299.0"/><use href="#gd" x="237.9" y="1278.8"/><use href="#gd" x="218.1" y="1288.6"/><use href="#gd" x="195.8" y="1288.2"/><use href="#gd" x="234.1" y="1278.8"/><use href="#gd" x="228.0" y="1291.5"/><use href="#gd" x="229.6" y="1286.6"/><use href="#gd" x="217.1" y="1283.6"/><use href="#gd" x="208.6" y="1291.6"/><use href="#gd" x="229.3" y="1280.5"/><use href="#gd" x="213.5" y="1290.0"/><use href="#gd" x="240.2" y="1278.9"/><use href="#gd" x="213.5" y="1292.2"/><use href="#gd" x="191.2" y="1302.4"/><use href="#gd" x="189.2" y="1303.5"/><use href="#gd" x="199.0" y="1297.8"/><use href="#gd" x="194.0" y="1291.1"/><use href="#gd" x="182.7" y="1298.1"/><use href="#gd" x="236.5" y="1275.7"/><use href="#gd" x="228.9" y="1279.8"/><use href="#gd" x="232.1" y="1284.9"/><use href="#gd" x="209.4" y="1295.2"/><use href="#gd" x="214.1" y="1288.6"/><use href="#gd" x="235.1" y="1284.7"/><use href="#gd" x="190.1" y="1300.5"/><use href="#gd" x="243.7" y="1279.0"/><use href="#gd" x="192.0" y="1295.1"/><use href="#gd" x="197.5" y="1294.3"/><use href="#gd" x="234.0" y="1293.5"/><use href="#gd" x="195.9" y="1300.3"/><use href="#gd" x="201.1" y="1290.1"/><use href="#gd" x="206.3" y="1292.6"/><use href="#gd" x="177.8" y="1302.0"/><use href="#gd" x="214.0" y="1291.8"/><use href="#gd" x="230.2" y="1281.0"/><use href="#gd" x="219.4" y="1294.4"/><use href="#gd" x="221.3" y="1280.0"/><use href="#gd" x="232.0" y="1284.1"/><use href="#gd" x="193.6" y="1307.0"/><use href="#gd" x="219.1" y="1290.2"/><use href="#gd" x="216.1" y="1294.3"/><use href="#gd" x="212.1" y="1293.0"/><use href="#gd" x="209.4" y="1287.2"/><use href="#gd" x="195.1" y="1294.5"/><use href="#gd" x="192.5" y="1288.6"/><use href="#gd" x="229.9" y="1276.9"/><use href="#gd" x="230.7" y="1283.7"/><use href="#gd" x="194.7" y="1294.7"/><use href="#gd" x="212.6" y="1284.6"/><use href="#gd" x="197.5" y="1295.7"/><use href="#gd" x="188.4" y="1305.4"/><use href="#gd" x="231.5" y="1281.8"/><use href="#gd" x="218.0" y="1286.9"/><use href="#gd" x="224.9" y="1285.5"/><use href="#gd" x="221.5" y="1280.6"/><use href="#gd" x="196.9" y="1290.6"/><use href="#gd" x="216.6" y="1280.2"/><use href="#gd" x="219.8" y="1285.9"/><use href="#gd" x="190.6" y="1303.3"/><use href="#gd" x="226.7" y="1283.2"/><use href="#gd" x="181.9" y="1304.0"/><use href="#gd" x="207.8" y="1293.6"/><use href="#gd" x="217.8" y="1277.2"/><use href="#gd" x="193.7" y="1294.1"/><use href="#gd" x="224.7" y="1290.7"/><use href="#gd" x="212.7" y="1290.8"/><use href="#gd" x="212.7" y="1291.6"/><use href="#gd" x="226.3" y="1288.0"/><use href="#gd" x="222.0" y="1288.7"/><use href="#gd" x="203.6" y="1298.1"/><use href="#gd" x="200.0" y="1295.5"/><use href="#gd" x="186.0" y="1302.0"/><use href="#gd" x="201.4" y="1302.4"/><use href="#gd" x="217.8" y="1286.4"/><use href="#gd" x="244.7" y="1280.2"/><use href="#gd" x="219.4" y="1287.0"/><use href="#gd" x="209.3" y="1283.6"/><use href="#gd" x="194.2" y="1301.8"/><use href="#gd" x="198.3" y="1291.5"/><use href="#gd" x="189.1" y="1296.8"/><use href="#gd" x="204.3" y="1283.0"/><use href="#gd" x="237.3" y="1278.7"/><use href="#gd" x="191.5" y="1296.6"/><use href="#gd" x="217.7" y="1280.4"/><use href="#gd" x="194.0" y="1293.2"/><use href="#gd" x="233.4" y="1284.6"/><use href="#gd" x="219.4" y="1278.4"/><use href="#gd" x="235.2" y="1290.9"/><use href="#gd" x="187.7" y="1295.6"/><use href="#gd" x="190.3" y="1299.3"/><use href="#gd" x="205.3" y="1293.6"/><use href="#gd" x="201.1" y="1291.7"/><use href="#gd" x="206.8" y="1296.1"/><use href="#gd" x="238.9" y="1279.1"/><use href="#gd" x="224.5" y="1285.2"/><use href="#gd" x="233.6" y="1279.8"/><use href="#gd" x="220.3" y="1290.4"/><use href="#gd" x="208.1" y="1286.3"/><use href="#gd" x="207.6" y="1295.0"/><use href="#gd" x="227.9" y="1292.8"/><use href="#gd" x="232.6" y="1285.3"/><use href="#gd" x="237.9" y="1282.0"/><use href="#gd" x="208.5" y="1290.1"/><use href="#gd" x="225.6" y="1286.3"/><use href="#gd" x="217.7" y="1282.9"/><use href="#gd" x="225.8" y="1277.5"/><use href="#gd" x="227.6" y="1280.9"/><use href="#gd" x="259.0" y="1265.8"/><use href="#gd" x="260.4" y="1279.6"/><use href="#gd" x="260.0" y="1257.8"/><use href="#gd" x="251.7" y="1268.7"/><use href="#gd" x="236.1" y="1269.4"/><use href="#gd" x="217.9" y="1283.2"/><use href="#gd" x="232.3" y="1263.9"/><use href="#gd" x="249.8" y="1277.1"/><use href="#gd" x="264.7" y="1272.8"/><use href="#gd" x="254.6" y="1274.1"/><use href="#gd" x="249.8" y="1268.5"/><use href="#gd" x="232.9" y="1274.3"/><use href="#gd" x="241.6" y="1270.8"/><use href="#gd" x="272.9" y="1267.6"/><use href="#gd" x="242.9" y="1269.5"/><use href="#gd" x="245.5" y="1275.7"/><use href="#gd" x="216.7" y="1271.4"/><use href="#gd" x="259.5" y="1266.6"/><use href="#gd" x="267.6" y="1272.7"/><use href="#gd" x="249.7" y="1280.5"/><use href="#gd" x="255.9" y="1272.5"/><use href="#gd" x="260.3" y="1272.9"/><use href="#gd" x="260.6" y="1277.6"/><use href="#gd" x="241.9" y="1272.0"/><use href="#gd" x="242.0" y="1285.9"/><use href="#gd" x="221.9" y="1275.7"/><use href="#gd" x="263.1" y="1279.4"/><use href="#gd" x="253.4" y="1267.7"/><use href="#gd" x="259.4" y="1274.5"/><use href="#gd" x="263.6" y="1275.2"/><use href="#gd" x="209.0" y="1271.4"/><use href="#gd" x="210.3" y="1273.2"/><use href="#gd" x="214.8" y="1275.1"/><use href="#gd" x="258.4" y="1267.2"/><use href="#gd" x="235.4" y="1280.2"/><use href="#gd" x="267.1" y="1275.1"/><use href="#gd" x="241.0" y="1271.2"/><use href="#gd" x="219.5" y="1278.4"/><use href="#gd" x="227.9" y="1270.0"/><use href="#gd" x="236.3" y="1282.1"/><use href="#gd" x="262.7" y="1271.4"/><use href="#gd" x="234.8" y="1270.4"/><use href="#gd" x="216.4" y="1282.6"/><use href="#gd" x="237.9" y="1279.8"/><use href="#gd" x="272.1" y="1268.6"/><use href="#gd" x="220.7" y="1263.2"/><use href="#gd" x="216.6" y="1273.9"/><use href="#gd" x="272.2" y="1268.7"/><use href="#gd" x="267.1" y="1265.0"/><use href="#gd" x="217.5" y="1292.8"/><use href="#gd" x="224.1" y="1293.4"/><use href="#gd" x="240.5" y="1282.1"/><use href="#gd" x="264.4" y="1285.7"/><use href="#gd" x="222.7" y="1274.7"/><use href="#gd" x="224.5" y="1268.3"/><use href="#gd" x="222.6" y="1284.6"/><use href="#gd" x="230.2" y="1261.9"/><use href="#gd" x="256.9" y="1283.3"/><use href="#gd" x="264.2" y="1280.1"/><use href="#gd" x="223.9" y="1287.9"/><use href="#gd" x="249.0" y="1280.3"/><use href="#gd" x="242.2" y="1272.9"/><use href="#gd" x="219.5" y="1261.2"/><use href="#gd" x="230.4" y="1277.8"/><use href="#gd" x="212.2" y="1292.6"/><use href="#gd" x="264.0" y="1271.4"/><use href="#gd" x="209.3" y="1262.8"/><use href="#gd" x="244.2" y="1286.6"/><use href="#gd" x="230.1" y="1287.5"/><use href="#gd" x="217.4" y="1271.5"/><use href="#gd" x="215.9" y="1260.8"/><use href="#gd" x="200.5" y="1291.1"/><use href="#gd" x="210.0" y="1263.2"/><use href="#gd" x="220.5" y="1249.3"/><use href="#gd" x="251.4" y="1247.8"/><use href="#gd" x="231.5" y="1260.3"/><use href="#gd" x="207.9" y="1267.0"/><use href="#gd" x="216.0" y="1266.2"/><use href="#gd" x="367.1" y="1250.8"/><use href="#gd" x="320.7" y="1263.3"/><use href="#gd" x="294.9" y="1256.7"/><use href="#gd" x="303.0" y="1257.4"/><use href="#gd" x="277.2" y="1283.9"/><use href="#gd" x="292.0" y="1289.8"/><use href="#gd" x="266.9" y="1286.1"/><use href="#gd" x="252.2" y="1290.6"/><use href="#gd" x="244.8" y="1300.9"/><use href="#gd" x="157.8" y="1323.7"/><use href="#gd" x="146.3" y="1336.0"/><use href="#gd" x="155.6" y="1355.4"/><use href="#gd" x="173.3" y="1341.4"/><use href="#gd" x="185.8" y="1354.0"/><use href="#gd" x="159.3" y="1315.6"/>
<use href="#dd" x="221.9" y="1290.6"/><use href="#dd" x="216.0" y="1296.5"/><use href="#dd" x="196.1" y="1306.8"/><use href="#dd" x="203.5" y="1309.7"/><use href="#dd" x="169.6" y="1318.6"/><use href="#dd" x="261.7" y="1320.8"/><use href="#dd" x="159.7" y="1341.4"/><use href="#dd" x="158.6" y="1348.1"/><use href="#dd" x="165.2" y="1354.0"/><use href="#dd" x="170.8" y="1352.5"/><use href="#dd" x="171.8" y="1353.2"/><use href="#dd" x="187.3" y="1346.6"/><use href="#dd" x="192.5" y="1349.5"/><use href="#dd" x="196.1" y="1343.6"/><use href="#dd" x="198.4" y="1345.1"/><use href="#dd" x="200.6" y="1341.4"/><use href="#dd" x="203.5" y="1350.3"/><use href="#dd" x="209.4" y="1348.1"/><use href="#dd" x="181.4" y="1364.3"/><use href="#dd" x="193.2" y="1346.6"/><use href="#dd" x="195.4" y="1348.1"/><use href="#dd" x="199.1" y="1342.9"/><use href="#dd" x="196.9" y="1341.4"/>
<use href="#ft" x="290.8" y="1330.4"/><use href="#ft" x="247.4" y="1346.6"/><use href="#ft" x="227.8" y="1335.5"/><use href="#ft" x="222.7" y="1349.5"/><use href="#ft" x="217.5" y="1356.2"/><use href="#ft" x="209.7" y="1362.8"/><use href="#ft" x="187.3" y="1376.8"/><use href="#ft" x="200.3" y="1397.4"/><use href="#ft" x="468.0" y="1286.3"/><use href="#ft" x="609.1" y="1280.5"/>
<use href="#ot" x="240.4" y="1314.1"/><use href="#ot" x="170.3" y="1326.7"/><use href="#ot" x="255.1" y="1323.7"/><use href="#ot" x="274.3" y="1322.2"/><use href="#ot" x="238.2" y="1336.3"/><use href="#ot" x="230.0" y="1368.7"/><use href="#ot" x="192.8" y="1371.6"/><use href="#ot" x="208.7" y="1390.1"/><use href="#ot" x="216.8" y="1392.3"/><use href="#ot" x="228.6" y="1338.5"/><use href="#ot" x="393.4" y="1330.0"/>
<use href="#ps" x="296.4" y="1213.9"/><use href="#ps" x="275.0" y="1233.4"/><use href="#ps" x="279.9" y="1244.1"/><use href="#ps" x="270.6" y="1251.5"/><use href="#ps" x="274.3" y="1251.9"/><use href="#ps" x="261.0" y="1267.0"/><use href="#ps" x="250.7" y="1281.7"/><use href="#ps" x="253.6" y="1282.5"/><use href="#ps" x="312.6" y="1270.7"/><use href="#ps" x="304.5" y="1289.8"/><use href="#ps" x="304.5" y="1299.7"/><use href="#ps" x="306.7" y="1281.7"/><use href="#ps" x="272.8" y="1271.4"/><use href="#ps" x="276.5" y="1272.1"/><use href="#ps" x="287.5" y="1268.5"/><use href="#ps" x="290.5" y="1267.0"/><use href="#ps" x="293.4" y="1269.9"/><use href="#ps" x="296.4" y="1268.5"/><use href="#ps" x="299.3" y="1270.7"/><use href="#ps" x="295.7" y="1274.3"/><use href="#ps" x="292.0" y="1272.9"/><use href="#ps" x="297.9" y="1265.5"/><use href="#ps" x="301.5" y="1267.7"/><use href="#ps" x="303.0" y="1272.1"/><use href="#ps" x="294.2" y="1262.6"/><use href="#ps" x="289.0" y="1272.9"/><use href="#ps" x="300.1" y="1276.6"/><use href="#ps" x="297.1" y="1278.0"/><use href="#ps" x="292.7" y="1277.3"/><use href="#ps" x="305.2" y="1274.3"/><use href="#ps" x="286.1" y="1271.4"/><use href="#ps" x="302.3" y="1264.0"/><use href="#ps" x="294.9" y="1260.3"/><use href="#ps" x="303.8" y="1259.6"/><use href="#ps" x="283.1" y="1269.9"/><use href="#ps" x="295.7" y="1281.7"/><use href="#ps" x="302.3" y="1283.2"/><use href="#ps" x="306.7" y="1274.3"/>
<use href="#ys" x="191.7" y="1235.3"/><use href="#ys" x="247.4" y="1258.9"/><use href="#ys" x="182.1" y="1268.5"/><use href="#ys" x="196.9" y="1270.7"/><use href="#ys" x="235.2" y="1271.4"/><use href="#ys" x="252.2" y="1270.7"/><use href="#ys" x="247.4" y="1262.6"/><use href="#ys" x="145.7" y="1299.7"/><use href="#ys" x="232.3" y="1304.1"/><use href="#ys" x="216.0" y="1299.4"/><use href="#ys" x="180.7" y="1309.7"/><use href="#ys" x="184.3" y="1311.9"/><use href="#ys" x="206.5" y="1314.4"/><use href="#ys" x="215.3" y="1313.4"/><use href="#ys" x="209.4" y="1315.6"/><use href="#ys" x="227.1" y="1321.8"/><use href="#ys" x="215.3" y="1334.8"/><use href="#ys" x="231.5" y="1344.4"/><use href="#ys" x="222.7" y="1346.6"/>
<use href="#rc" x="206.2" y="1204.8"/><use href="#rc" x="187.0" y="1220.5"/><use href="#rc" x="207.2" y="1244.4"/><use href="#rc" x="191.0" y="1253.3"/><use href="#rc" x="183.6" y="1271.1"/><use href="#rc" x="200.6" y="1283.9"/><use href="#rc" x="160.5" y="1284.7"/><use href="#rc" x="153.4" y="1294.3"/><use href="#rc" x="161.5" y="1295.0"/><use href="#rc" x="169.6" y="1292.0"/><use href="#rc" x="176.2" y="1293.5"/><use href="#rc" x="180.7" y="1289.1"/><use href="#rc" x="177.0" y="1297.9"/><use href="#rc" x="153.1" y="1306.0"/><use href="#rc" x="168.1" y="1305.3"/><use href="#rc" x="178.5" y="1306.8"/><use href="#rc" x="182.1" y="1312.7"/><use href="#rc" x="185.1" y="1319.3"/><use href="#rc" x="187.3" y="1325.2"/><use href="#rc" x="180.7" y="1327.4"/><use href="#rc" x="193.2" y="1330.4"/><use href="#rc" x="179.9" y="1333.3"/><use href="#rc" x="175.5" y="1315.6"/>
<use href="#dt" x="419.0" y="1399.4"/><use href="#dt" x="289.2" y="1426.0"/><use href="#dt" x="295.8" y="1452.7"/><use href="#dt" x="285.1" y="1472.2"/><use href="#dt" x="213.5" y="1471.2"/><use href="#dt" x="212.1" y="1498.0"/>
<use href="#bg" x="391.3" y="1456.4"/><use href="#bg" x="389.1" y="1480.4"/><use href="#bg" x="383.1" y="1504.6"/>
</g>
<rect x="225.4" y="1094.4" width="421" height="64.5" fill="#fff" fill-opacity="0.8" stroke="#cfcfcf" stroke-width="1.4"/>
<use href="#dt" x="243.2" y="1111.7"/><use href="#ysl" x="243.6" y="1141.7"/>
<text x="262" y="1120.0" class="c2" textLength="354" lengthAdjust="spacing">阿波罗16号科马提质玻璃 <tspan class="i2">(22)</tspan></text>
<text x="262" y="1150.2" class="c2" textLength="334" lengthAdjust="spacing">阿波罗月海撞击玻璃 <tspan class="i2">(6, 58)</tspan></text>
<clipPath id="cpH"><rect x="776.3" y="1088.7" width="568.8" height="455.4"/></clipPath><g clip-path="url(#cpH)">
<use href="#gd" x="1120.5" y="1286.9"/><use href="#gd" x="1110.5" y="1286.6"/><use href="#gd" x="1101.8" y="1287.3"/><use href="#gd" x="1102.5" y="1287.4"/><use href="#gd" x="1113.3" y="1286.6"/><use href="#gd" x="1110.7" y="1278.7"/><use href="#gd" x="1105.6" y="1276.6"/><use href="#gd" x="1130.8" y="1265.3"/><use href="#gd" x="1114.7" y="1285.8"/><use href="#gd" x="1112.7" y="1275.2"/><use href="#gd" x="1118.7" y="1288.2"/><use href="#gd" x="1128.0" y="1268.8"/><use href="#gd" x="1115.9" y="1285.9"/><use href="#gd" x="1142.6" y="1271.2"/><use href="#gd" x="1117.1" y="1289.6"/><use href="#gd" x="1100.3" y="1285.7"/><use href="#gd" x="1094.7" y="1288.0"/><use href="#gd" x="1106.8" y="1282.1"/><use href="#gd" x="1123.0" y="1282.6"/><use href="#gd" x="1119.2" y="1278.5"/><use href="#gd" x="1108.0" y="1277.2"/><use href="#gd" x="1117.8" y="1283.7"/><use href="#gd" x="1109.6" y="1278.2"/><use href="#gd" x="1104.0" y="1289.5"/><use href="#gd" x="1127.2" y="1281.9"/><use href="#gd" x="1103.0" y="1282.8"/><use href="#gd" x="1103.8" y="1294.7"/><use href="#gd" x="1119.9" y="1273.4"/><use href="#gd" x="1119.0" y="1281.7"/><use href="#gd" x="1116.5" y="1282.9"/><use href="#gd" x="1106.2" y="1279.5"/><use href="#gd" x="1120.6" y="1291.1"/><use href="#gd" x="1101.2" y="1279.9"/><use href="#gd" x="1120.6" y="1271.7"/><use href="#gd" x="1084.1" y="1291.3"/><use href="#gd" x="1124.8" y="1284.0"/><use href="#gd" x="1122.9" y="1274.2"/><use href="#gd" x="1116.7" y="1277.7"/><use href="#gd" x="1106.8" y="1287.1"/><use href="#gd" x="1101.0" y="1292.5"/><use href="#gd" x="1119.9" y="1283.6"/><use href="#gd" x="1119.0" y="1276.1"/><use href="#gd" x="1137.7" y="1285.3"/><use href="#gd" x="1112.1" y="1282.5"/><use href="#gd" x="1108.7" y="1282.8"/><use href="#gd" x="1123.0" y="1286.2"/><use href="#gd" x="1107.6" y="1279.7"/><use href="#gd" x="1100.6" y="1286.7"/><use href="#gd" x="1109.3" y="1284.5"/><use href="#gd" x="1116.1" y="1271.6"/><use href="#gd" x="1104.6" y="1288.5"/><use href="#gd" x="1104.9" y="1281.6"/><use href="#gd" x="1095.5" y="1295.2"/><use href="#gd" x="1119.0" y="1278.2"/><use href="#gd" x="1122.6" y="1287.2"/><use href="#gd" x="1130.4" y="1273.1"/><use href="#gd" x="1112.9" y="1284.3"/><use href="#gd" x="1125.3" y="1266.1"/><use href="#gd" x="1114.9" y="1272.5"/><use href="#gd" x="1126.6" y="1275.8"/><use href="#gd" x="1121.4" y="1277.2"/><use href="#gd" x="1131.8" y="1279.8"/><use href="#gd" x="1108.1" y="1274.9"/><use href="#gd" x="1120.1" y="1283.0"/><use href="#gd" x="1110.7" y="1282.2"/><use href="#gd" x="1107.2" y="1291.4"/><use href="#gd" x="1129.4" y="1272.4"/><use href="#gd" x="1105.4" y="1288.9"/><use href="#gd" x="1096.8" y="1288.1"/><use href="#gd" x="1115.6" y="1281.4"/><use href="#gd" x="1130.9" y="1270.7"/><use href="#gd" x="1121.8" y="1280.1"/><use href="#gd" x="1112.9" y="1286.3"/><use href="#gd" x="1117.0" y="1283.4"/><use href="#gd" x="1108.9" y="1278.7"/><use href="#gd" x="1129.8" y="1282.4"/><use href="#gd" x="1118.2" y="1276.6"/><use href="#gd" x="1122.7" y="1270.0"/><use href="#gd" x="1109.6" y="1283.3"/><use href="#gd" x="1108.5" y="1273.1"/><use href="#gd" x="1133.5" y="1265.3"/><use href="#gd" x="1129.0" y="1289.0"/><use href="#gd" x="1122.3" y="1281.6"/><use href="#gd" x="1099.5" y="1285.9"/><use href="#gd" x="1091.5" y="1288.7"/><use href="#gd" x="1117.2" y="1269.8"/><use href="#gd" x="1108.9" y="1278.5"/><use href="#gd" x="1129.0" y="1277.0"/><use href="#gd" x="1120.3" y="1278.1"/><use href="#gd" x="1116.0" y="1281.2"/><use href="#gd" x="1100.0" y="1293.2"/><use href="#gd" x="1110.9" y="1276.1"/><use href="#gd" x="1112.5" y="1286.7"/><use href="#gd" x="1123.6" y="1284.4"/><use href="#gd" x="1119.5" y="1280.1"/><use href="#gd" x="1111.6" y="1277.0"/><use href="#gd" x="1125.0" y="1278.2"/><use href="#gd" x="1125.2" y="1274.5"/><use href="#gd" x="1113.3" y="1285.3"/><use href="#gd" x="1106.2" y="1285.1"/><use href="#gd" x="1113.4" y="1284.2"/><use href="#gd" x="1099.4" y="1281.7"/><use href="#gd" x="1099.6" y="1287.5"/><use href="#gd" x="1105.4" y="1302.3"/><use href="#gd" x="1108.6" y="1296.3"/><use href="#gd" x="1129.4" y="1276.6"/><use href="#gd" x="1123.3" y="1273.0"/><use href="#gd" x="1115.3" y="1284.8"/><use href="#gd" x="1147.1" y="1267.5"/><use href="#gd" x="1114.9" y="1287.4"/><use href="#gd" x="1124.0" y="1268.1"/><use href="#gd" x="1127.0" y="1278.1"/><use href="#gd" x="1114.0" y="1284.3"/><use href="#gd" x="1109.7" y="1277.7"/><use href="#gd" x="1118.6" y="1289.3"/><use href="#gd" x="1110.4" y="1287.4"/><use href="#gd" x="1111.9" y="1286.4"/><use href="#gd" x="1119.2" y="1275.8"/><use href="#gd" x="1128.6" y="1272.6"/><use href="#gd" x="1092.4" y="1287.8"/><use href="#gd" x="1112.0" y="1283.9"/><use href="#gd" x="1111.9" y="1281.2"/><use href="#gd" x="1139.4" y="1265.2"/><use href="#gd" x="1110.5" y="1284.9"/><use href="#gd" x="1121.8" y="1277.7"/><use href="#gd" x="1125.7" y="1276.0"/><use href="#gd" x="1130.1" y="1268.0"/><use href="#gd" x="1119.5" y="1283.9"/><use href="#gd" x="1107.6" y="1286.1"/><use href="#gd" x="1120.5" y="1277.7"/><use href="#gd" x="1114.6" y="1285.3"/><use href="#gd" x="1125.2" y="1285.9"/><use href="#gd" x="1118.1" y="1287.5"/><use href="#gd" x="1127.5" y="1283.9"/><use href="#gd" x="1119.4" y="1266.8"/><use href="#gd" x="1128.7" y="1278.9"/><use href="#gd" x="1112.6" y="1277.5"/><use href="#gd" x="1110.5" y="1278.8"/><use href="#gd" x="1096.3" y="1283.5"/><use href="#gd" x="1118.3" y="1275.8"/><use href="#gd" x="1112.5" y="1296.4"/><use href="#gd" x="1115.2" y="1287.8"/><use href="#gd" x="1105.3" y="1288.1"/><use href="#gd" x="1108.9" y="1283.4"/><use href="#gd" x="1098.7" y="1289.9"/><use href="#gd" x="1121.1" y="1273.9"/><use href="#gd" x="1115.0" y="1286.1"/><use href="#gd" x="1116.1" y="1284.1"/><use href="#gd" x="1110.4" y="1288.6"/><use href="#gd" x="1130.6" y="1272.2"/><use href="#gd" x="1124.8" y="1274.6"/><use href="#gd" x="1118.8" y="1286.9"/><use href="#gd" x="1102.9" y="1269.5"/><use href="#gd" x="1116.2" y="1290.5"/><use href="#gd" x="1124.2" y="1276.6"/><use href="#gd" x="1109.0" y="1283.6"/><use href="#gd" x="1112.3" y="1281.0"/><use href="#gd" x="1117.4" y="1271.4"/><use href="#gd" x="1123.9" y="1268.6"/><use href="#gd" x="1133.5" y="1279.0"/><use href="#gd" x="1107.1" y="1271.7"/><use href="#gd" x="1123.7" y="1274.3"/><use href="#gd" x="1118.4" y="1277.3"/><use href="#gd" x="1129.5" y="1274.2"/><use href="#gd" x="1119.0" y="1273.5"/><use href="#gd" x="1107.0" y="1282.9"/><use href="#gd" x="1118.1" y="1273.9"/><use href="#gd" x="1116.9" y="1290.1"/><use href="#gd" x="1104.3" y="1283.0"/><use href="#gd" x="1117.8" y="1275.0"/><use href="#gd" x="1108.3" y="1278.0"/><use href="#gd" x="1107.5" y="1288.5"/><use href="#gd" x="1108.3" y="1282.4"/><use href="#gd" x="1118.3" y="1284.6"/><use href="#gd" x="1112.4" y="1279.1"/><use href="#gd" x="1115.1" y="1276.6"/><use href="#gd" x="1118.7" y="1279.2"/><use href="#gd" x="1125.7" y="1269.0"/><use href="#gd" x="1121.1" y="1272.2"/><use href="#gd" x="1106.3" y="1298.5"/><use href="#gd" x="1116.8" y="1289.5"/><use href="#gd" x="1110.7" y="1284.5"/><use href="#gd" x="1106.1" y="1287.7"/><use href="#gd" x="1115.7" y="1277.6"/><use href="#gd" x="1115.2" y="1280.3"/><use href="#gd" x="1126.5" y="1281.0"/><use href="#gd" x="1127.1" y="1273.4"/><use href="#gd" x="1126.1" y="1287.7"/><use href="#gd" x="1113.5" y="1281.7"/><use href="#gd" x="1121.0" y="1283.3"/><use href="#gd" x="1100.7" y="1285.9"/><use href="#gd" x="1121.5" y="1272.4"/><use href="#gd" x="1124.4" y="1276.4"/><use href="#gd" x="1105.8" y="1292.3"/><use href="#gd" x="1123.1" y="1274.9"/><use href="#gd" x="1123.8" y="1279.7"/><use href="#gd" x="1120.3" y="1290.9"/><use href="#gd" x="1108.6" y="1289.6"/><use href="#gd" x="1111.3" y="1281.8"/><use href="#gd" x="1124.7" y="1281.3"/><use href="#gd" x="1082.1" y="1346.7"/><use href="#gd" x="1085.9" y="1334.3"/><use href="#gd" x="1089.8" y="1333.7"/><use href="#gd" x="1087.2" y="1336.8"/><use href="#gd" x="1082.4" y="1342.7"/><use href="#gd" x="1085.4" y="1337.4"/><use href="#gd" x="1080.3" y="1345.2"/><use href="#gd" x="1090.9" y="1332.2"/><use href="#gd" x="1076.8" y="1342.6"/><use href="#gd" x="1090.0" y="1339.5"/><use href="#gd" x="1088.0" y="1330.4"/><use href="#gd" x="1082.0" y="1339.6"/><use href="#gd" x="1085.4" y="1338.5"/><use href="#gd" x="1086.3" y="1336.4"/><use href="#gd" x="1077.1" y="1344.9"/><use href="#gd" x="1075.0" y="1344.2"/><use href="#gd" x="1082.4" y="1339.0"/><use href="#gd" x="1085.1" y="1339.5"/><use href="#gd" x="1087.5" y="1338.4"/><use href="#gd" x="1082.0" y="1343.0"/><use href="#gd" x="1076.6" y="1343.8"/><use href="#gd" x="1082.4" y="1343.6"/><use href="#gd" x="1085.0" y="1335.1"/><use href="#gd" x="1086.3" y="1331.2"/><use href="#gd" x="1080.2" y="1343.4"/><use href="#gd" x="1088.4" y="1337.4"/><use href="#gd" x="1072.8" y="1346.1"/><use href="#gd" x="1087.0" y="1339.1"/><use href="#gd" x="1075.8" y="1341.1"/><use href="#gd" x="1090.8" y="1331.8"/><use href="#gd" x="1079.5" y="1344.6"/><use href="#gd" x="1090.7" y="1336.6"/><use href="#gd" x="1084.5" y="1336.5"/><use href="#gd" x="1091.3" y="1338.7"/><use href="#gd" x="1087.1" y="1332.0"/><use href="#gd" x="1073.5" y="1347.6"/><use href="#gd" x="1080.7" y="1343.6"/><use href="#gd" x="1088.8" y="1330.5"/><use href="#gd" x="1086.4" y="1334.1"/><use href="#gd" x="1086.1" y="1337.7"/><use href="#gd" x="1083.9" y="1335.6"/><use href="#gd" x="1084.8" y="1334.7"/><use href="#gd" x="1085.6" y="1332.8"/><use href="#gd" x="1080.1" y="1336.1"/><use href="#gd" x="1077.2" y="1338.6"/><use href="#gd" x="1098.1" y="1296.6"/><use href="#gd" x="1082.5" y="1310.5"/><use href="#gd" x="1104.5" y="1302.0"/><use href="#gd" x="1091.2" y="1328.1"/><use href="#gd" x="1107.2" y="1300.3"/><use href="#gd" x="1097.9" y="1303.7"/><use href="#gd" x="1108.5" y="1301.8"/><use href="#gd" x="1089.6" y="1328.0"/><use href="#gd" x="1108.7" y="1296.7"/><use href="#gd" x="1112.8" y="1298.1"/><use href="#gd" x="1096.0" y="1318.0"/><use href="#gd" x="1095.5" y="1302.5"/><use href="#gd" x="1099.1" y="1308.3"/><use href="#gd" x="1108.1" y="1296.2"/><use href="#gd" x="1088.5" y="1314.1"/><use href="#gd" x="1092.3" y="1309.6"/><use href="#gd" x="1105.5" y="1293.7"/><use href="#gd" x="1095.3" y="1301.9"/><use href="#gd" x="1089.6" y="1318.8"/><use href="#gd" x="1103.3" y="1304.8"/><use href="#gd" x="1106.9" y="1295.5"/><use href="#gd" x="1104.7" y="1313.3"/><use href="#gd" x="1099.4" y="1304.3"/><use href="#gd" x="1087.5" y="1307.0"/><use href="#gd" x="1096.2" y="1302.2"/><use href="#gd" x="1090.4" y="1324.7"/><use href="#gd" x="1087.7" y="1313.8"/><use href="#gd" x="1088.9" y="1313.0"/><use href="#gd" x="1101.8" y="1291.4"/><use href="#gd" x="1094.9" y="1306.0"/><use href="#gd" x="1106.4" y="1300.8"/><use href="#gd" x="1113.1" y="1341.4"/><use href="#gd" x="1094.9" y="1305.6"/><use href="#gd" x="1083.1" y="1327.2"/><use href="#gd" x="1075.5" y="1314.1"/><use href="#gd" x="1075.2" y="1303.1"/><use href="#gd" x="1079.7" y="1341.8"/><use href="#gd" x="1109.5" y="1320.7"/><use href="#gd" x="1106.3" y="1305.2"/><use href="#gd" x="1107.4" y="1310.8"/><use href="#gd" x="1106.6" y="1316.9"/><use href="#gd" x="1113.7" y="1302.9"/><use href="#gd" x="1077.8" y="1339.5"/><use href="#gd" x="1112.3" y="1315.3"/><use href="#gd" x="1080.7" y="1324.2"/><use href="#gd" x="1097.7" y="1318.3"/><use href="#gd" x="1112.4" y="1303.9"/><use href="#gd" x="1092.4" y="1328.9"/><use href="#gd" x="1097.6" y="1319.3"/><use href="#gd" x="1102.4" y="1307.8"/><use href="#gd" x="1097.8" y="1302.4"/><use href="#gd" x="1087.0" y="1301.7"/><use href="#gd" x="1073.2" y="1239.2"/><use href="#gd" x="1077.6" y="1235.5"/><use href="#gd" x="1079.9" y="1251.7"/><use href="#gd" x="1026.8" y="1284.9"/><use href="#gd" x="1023.1" y="1315.8"/><use href="#gd" x="1155.8" y="1289.3"/><use href="#gd" x="1121.9" y="1295.9"/><use href="#gd" x="1083.5" y="1315.1"/><use href="#gd" x="1096.1" y="1315.1"/><use href="#gd" x="1104.2" y="1313.6"/><use href="#gd" x="1088.0" y="1323.2"/><use href="#gd" x="1104.9" y="1325.4"/><use href="#gd" x="1099.8" y="1330.6"/><use href="#gd" x="1117.4" y="1330.1"/><use href="#gd" x="1071.0" y="1351.2"/><use href="#gd" x="1077.6" y="1352.0"/><use href="#gd" x="1013.5" y="1353.1"/><use href="#gd" x="1033.4" y="1348.3"/><use href="#gd" x="1057.0" y="1363.0"/><use href="#gd" x="1071.7" y="1368.9"/><use href="#gd" x="1054.8" y="1381.4"/><use href="#gd" x="1057.7" y="1289.3"/><use href="#gd" x="1072.5" y="1276.0"/><use href="#gd" x="1093.1" y="1257.6"/><use href="#gd" x="1079.1" y="1265.0"/><use href="#gd" x="1030.9" y="1409.5"/><use href="#gd" x="1041.3" y="1425.7"/><use href="#gd" x="1053.8" y="1439.4"/><use href="#gd" x="1061.9" y="1397.7"/><use href="#gd" x="1054.5" y="1382.2"/>
<use href="#dd" x="1054.5" y="1224.7"/><use href="#dd" x="1029.0" y="1235.5"/><use href="#dd" x="1032.7" y="1242.9"/><use href="#dd" x="1021.6" y="1247.3"/><use href="#dd" x="1022.4" y="1253.9"/><use href="#dd" x="1026.0" y="1255.0"/><use href="#dd" x="1000.2" y="1266.9"/><use href="#dd" x="975.2" y="1285.9"/><use href="#dd" x="986.2" y="1307.7"/><use href="#dd" x="1051.8" y="1297.1"/><use href="#dd" x="1147.4" y="1249.5"/><use href="#dd" x="1074.0" y="1281.2"/><use href="#dd" x="1065.1" y="1304.1"/>
<use href="#ft" x="1099.0" y="1187.3"/><use href="#ft" x="1035.6" y="1301.8"/><use href="#ft" x="958.7" y="1316.1"/><use href="#ft" x="1041.5" y="1316.6"/><use href="#ft" x="1018.7" y="1336.5"/><use href="#ft" x="984.3" y="1362.3"/><use href="#ft" x="1022.4" y="1389.5"/><use href="#ft" x="1188.7" y="1255.1"/>
<use href="#ot" x="995.1" y="1329.1"/><use href="#ot" x="965.6" y="1354.9"/><use href="#ot" x="1029.7" y="1363.7"/><use href="#ot" x="1035.6" y="1368.9"/><use href="#ot" x="1047.4" y="1333.5"/><use href="#ot" x="1052.6" y="1335.0"/><use href="#ot" x="1063.9" y="1380.0"/><use href="#ot" x="1044.2" y="1394.8"/>
<use href="#ps" x="1104.2" y="1246.6"/><use href="#ps" x="1104.2" y="1254.7"/><use href="#ps" x="1112.3" y="1245.8"/><use href="#ps" x="1121.1" y="1247.3"/><use href="#ps" x="1127.8" y="1250.2"/><use href="#ps" x="1131.4" y="1259.8"/><use href="#ps" x="1141.8" y="1265.7"/><use href="#ps" x="1152.1" y="1262.0"/><use href="#ps" x="1164.3" y="1265.4"/><use href="#ps" x="1188.9" y="1292.3"/><use href="#ps" x="1137.3" y="1262.8"/><use href="#ps" x="1125.6" y="1257.6"/><use href="#ps" x="1107.9" y="1250.2"/><use href="#ps" x="1110.8" y="1253.2"/><use href="#ps" x="1115.2" y="1251.7"/><use href="#ps" x="1118.2" y="1256.9"/><use href="#ps" x="1122.6" y="1253.2"/><use href="#ps" x="1109.3" y="1257.6"/><use href="#ps" x="1113.8" y="1259.1"/><use href="#ps" x="1106.4" y="1244.3"/>
<use href="#oc" x="1093.4" y="1294.8"/><use href="#oc" x="1064.7" y="1325.4"/>
<use href="#rc" x="1180.1" y="1214.4"/><use href="#rc" x="1150.2" y="1229.6"/><use href="#rc" x="1138.8" y="1244.3"/><use href="#rc" x="1113.8" y="1245.1"/><use href="#rc" x="1117.4" y="1255.4"/><use href="#rc" x="1091.6" y="1268.7"/><use href="#rc" x="1090.2" y="1282.7"/><use href="#rc" x="1072.5" y="1287.8"/><use href="#rc" x="1076.9" y="1291.5"/><use href="#rc" x="1074.0" y="1295.2"/><use href="#rc" x="1100.5" y="1295.2"/><use href="#rc" x="1084.3" y="1303.3"/><use href="#rc" x="1099.8" y="1304.8"/><use href="#rc" x="1065.1" y="1307.7"/><use href="#rc" x="1066.6" y="1315.1"/><use href="#rc" x="1049.6" y="1318.8"/><use href="#rc" x="1057.0" y="1319.5"/><use href="#rc" x="1040.0" y="1336.5"/><use href="#rc" x="1044.5" y="1344.6"/><use href="#rc" x="1087.5" y="1335.5"/><use href="#rc" x="1199.9" y="1185.6"/>
<use href="#bg" x="825.7" y="1448.9"/><use href="#bg" x="855.2" y="1405.1"/><use href="#bg" x="885.0" y="1390.6"/>
<path d="M776.3 1361.9L1345.1 1088.7" stroke="#000" stroke-width="1.8" stroke-dasharray="6.6 4.2" fill="none"/>
<path d="M776.3 1453.0L1345.1 1179.8" stroke="#000" stroke-width="1.8" stroke-dasharray="6.6 4.2" fill="none"/>
<path d="M776.3 1544.1L1345.1 1270.9" stroke="#000" stroke-width="1.8" stroke-dasharray="6.6 4.2" fill="none"/>
</g>
<text x="1220.0" y="1171.2" class="t2" textLength="110" lengthAdjust="spacingAndGlyphs">Ni/Co=10</text>
<text x="1220.0" y="1263.6" class="t2" textLength="92" lengthAdjust="spacingAndGlyphs">Ni/Co=1</text>
<text x="1216.8" y="1356.6" class="t2" textLength="113" lengthAdjust="spacingAndGlyphs">Ni/Co=0.1</text>
<clipPath id="cpI"><rect x="1458.9" y="1088.7" width="568.8" height="455.4"/></clipPath><g clip-path="url(#cpI)">
<path d="M1917.0 1190.3C1934.8 1190.9 1929.7 1192.3 1946.5 1196.6C1963.3 1200.9 1955.4 1194.4 1967.5 1203.3C1979.6 1212.2 1976.1 1208.4 1982.7 1223.3C1989.3 1238.2 1986.1 1232.2 1987.4 1248.0C1988.7 1263.8 1990.9 1259.7 1986.5 1270.8C1982.1 1281.9 1987.4 1274.3 1974.1 1281.3C1960.8 1288.3 1966.5 1283.2 1946.5 1291.8C1926.5 1300.4 1934.5 1296.9 1914.2 1307.0C1893.9 1317.1 1900.2 1312.7 1885.6 1322.2C1871.0 1331.7 1875.1 1326.3 1870.4 1335.6C1865.7 1344.9 1869.3 1340.1 1871.5 1350.0C1873.7 1359.9 1873.4 1352.5 1876.9 1365.2C1880.4 1377.9 1879.5 1374.0 1882.1 1388.0C1884.7 1402.0 1885.4 1396.8 1884.8 1407.3C1884.2 1417.8 1886.6 1413.4 1880.4 1419.6C1874.2 1425.8 1880.4 1422.0 1866.3 1425.8C1852.2 1429.6 1855.8 1427.0 1838.2 1431.1C1820.6 1435.2 1831.2 1433.4 1813.6 1438.1C1796.0 1442.8 1802.5 1442.0 1785.5 1445.1C1768.5 1448.2 1779.0 1446.8 1762.6 1447.4C1746.2 1448.0 1752.0 1448.5 1736.2 1446.9C1720.4 1445.3 1725.7 1446.3 1715.2 1442.5C1704.7 1438.7 1708.7 1441.4 1704.6 1435.5C1700.5 1429.6 1701.7 1432.5 1702.9 1424.9C1704.1 1417.3 1703.1 1420.2 1708.1 1412.6C1713.1 1405.0 1711.1 1409.1 1717.8 1402.1C1724.5 1395.1 1724.5 1400.9 1728.3 1391.5C1732.1 1382.1 1728.6 1388.5 1729.2 1373.9C1729.8 1359.3 1729.4 1360.4 1730.1 1347.6C1730.8 1334.8 1727.2 1346.6 1731.4 1335.6C1735.6 1324.6 1734.6 1326.0 1742.8 1314.6C1751.0 1303.2 1746.6 1309.2 1756.1 1301.3C1765.6 1293.4 1758.7 1296.5 1771.4 1290.8C1784.1 1285.1 1776.4 1288.6 1794.2 1284.2C1812.0 1279.8 1806.9 1282.0 1824.7 1277.5C1842.5 1273.0 1835.8 1276.8 1847.5 1270.8C1859.2 1264.8 1853.9 1270.2 1859.9 1259.4C1865.9 1248.6 1862.1 1253.7 1865.6 1238.5C1869.1 1223.3 1866.6 1226.1 1870.4 1213.7C1874.2 1201.3 1869.4 1207.7 1877.0 1201.4C1884.6 1195.1 1879.9 1198.4 1893.2 1194.7C1906.5 1191.0 1899.2 1189.7 1917.0 1190.3Z" fill="#e0e0e0" stroke="#b4b4bc" stroke-width="1.3" stroke-dasharray="4 3"/>
<path d="M1672.2 1096.7V1544.1" stroke="#111" stroke-width="1.8" stroke-dasharray="11.4 7.9" fill="none"/>
<path d="M1458.9 1430.2H2027.7" stroke="#111" stroke-width="1.8" stroke-dasharray="11.4 7.9" fill="none"/>
<use href="#rc2" x="1724.5" y="1457.8"/><use href="#rc2" x="1779.3" y="1456.0"/><use href="#rc2" x="1731.0" y="1471.5"/><use href="#rc2" x="1748.9" y="1472.0"/><use href="#rc2" x="1734.5" y="1477.7"/><use href="#rc2" x="1711.3" y="1479.8"/><use href="#rc2" x="1743.3" y="1485.6"/><use href="#rc2" x="1773.2" y="1481.5"/><use href="#rc2" x="1766.7" y="1489.4"/><use href="#rc2" x="1738.9" y="1489.1"/><use href="#rc2" x="1729.7" y="1490.0"/><use href="#rc2" x="1711.3" y="1493.5"/><use href="#rc2" x="1718.7" y="1494.4"/><use href="#rc2" x="1724.8" y="1497.9"/><use href="#rc2" x="1714.3" y="1499.6"/><use href="#rc2" x="1726.6" y="1501.4"/><use href="#rc2" x="1701.1" y="1501.4"/><use href="#rc2" x="1699.3" y="1509.3"/>
<use href="#oc" x="1741.0" y="1394.5"/><use href="#oc" x="1739.4" y="1421.4"/><use href="#oc" x="1733.6" y="1430.2"/>
<use href="#gp" x="1762.4" y="1112.3"/><use href="#gp" x="1763.2" y="1132.8"/><use href="#gp" x="1773.3" y="1198.5"/><use href="#gp" x="1752.0" y="1264.2"/><use href="#gp" x="1841.4" y="1300.9"/><use href="#gp" x="1742.4" y="1311.2"/><use href="#gp" x="1750.4" y="1318.5"/>
<use href="#bg" x="1750.1" y="1204.2"/>
</g>
<text x="1931" y="1416.8" class="c2" textLength="80.5" lengthAdjust="spacing">苦橄质</text>
<text x="1942.5" y="1460.8" class="c2" textLength="52.5" lengthAdjust="spacing">撞击</text>
<text x="1888" y="1523.2" class="c2" textLength="54" lengthAdjust="spacing">月海</text>
<text x="1509.5" y="1526" class="c2" textLength="54" lengthAdjust="spacing">高地</text>
<path d="M93.4 473.6v-8.2M207.2 473.6v-8.2M320.9 473.6v-8.2M434.7 473.6v-8.2M548.4 473.6v-8.2M662.2 473.6v-8.2M150.3 473.6v-4.4M264.0 473.6v-4.4M377.8 473.6v-4.4M491.6 473.6v-4.4M605.3 473.6v-4.4" stroke="#000" stroke-width="1.8" fill="none"/>
<text transform="translate(93.4 506.6) scale(0.95 1)" text-anchor="middle" class="t">0</text>
<text transform="translate(207.2 506.6) scale(0.95 1)" text-anchor="middle" class="t">10</text>
<text transform="translate(320.9 506.6) scale(0.95 1)" text-anchor="middle" class="t">20</text>
<text transform="translate(434.7 506.6) scale(0.95 1)" text-anchor="middle" class="t">30</text>
<text transform="translate(548.4 506.6) scale(0.95 1)" text-anchor="middle" class="t">40</text>
<text transform="translate(662.2 506.6) scale(0.95 1)" text-anchor="middle" class="t">50</text>
<path d="M776.3 473.6v-8.2M890.1 473.6v-8.2M1003.8 473.6v-8.2M1117.6 473.6v-8.2M1231.3 473.6v-8.2M1345.1 473.6v-8.2M833.2 473.6v-4.4M946.9 473.6v-4.4M1060.7 473.6v-4.4M1174.5 473.6v-4.4M1288.2 473.6v-4.4" stroke="#000" stroke-width="1.8" fill="none"/>
<text transform="translate(776.3 506.6) scale(0.95 1)" text-anchor="middle" class="t">0</text>
<text transform="translate(890.1 506.6) scale(0.95 1)" text-anchor="middle" class="t">10</text>
<text transform="translate(1003.8 506.6) scale(0.95 1)" text-anchor="middle" class="t">20</text>
<text transform="translate(1117.6 506.6) scale(0.95 1)" text-anchor="middle" class="t">30</text>
<text transform="translate(1231.3 506.6) scale(0.95 1)" text-anchor="middle" class="t">40</text>
<text transform="translate(1345.1 506.6) scale(0.95 1)" text-anchor="middle" class="t">50</text>
<path d="M1458.9 473.6v-8.2M1572.7 473.6v-8.2M1686.4 473.6v-8.2M1800.2 473.6v-8.2M1913.9 473.6v-8.2M2027.7 473.6v-8.2M1515.8 473.6v-4.4M1629.5 473.6v-4.4M1743.3 473.6v-4.4M1857.1 473.6v-4.4M1970.8 473.6v-4.4" stroke="#000" stroke-width="1.8" fill="none"/>
<text transform="translate(1458.9 506.6) scale(0.95 1)" text-anchor="middle" class="t">0</text>
<text transform="translate(1572.7 506.6) scale(0.95 1)" text-anchor="middle" class="t">10</text>
<text transform="translate(1686.4 506.6) scale(0.95 1)" text-anchor="middle" class="t">20</text>
<text transform="translate(1800.2 506.6) scale(0.95 1)" text-anchor="middle" class="t">30</text>
<text transform="translate(1913.9 506.6) scale(0.95 1)" text-anchor="middle" class="t">40</text>
<text transform="translate(2027.7 506.6) scale(0.95 1)" text-anchor="middle" class="t">50</text>
<path d="M93.4 1008.9v-8.2M207.2 1008.9v-8.2M320.9 1008.9v-8.2M434.7 1008.9v-8.2M548.4 1008.9v-8.2M662.2 1008.9v-8.2M150.3 1008.9v-4.4M264.0 1008.9v-4.4M377.8 1008.9v-4.4M491.6 1008.9v-4.4M605.3 1008.9v-4.4" stroke="#000" stroke-width="1.8" fill="none"/>
<text transform="translate(93.4 1041.9) scale(0.95 1)" text-anchor="middle" class="t">0</text>
<text transform="translate(207.2 1041.9) scale(0.95 1)" text-anchor="middle" class="t">10</text>
<text transform="translate(320.9 1041.9) scale(0.95 1)" text-anchor="middle" class="t">20</text>
<text transform="translate(434.7 1041.9) scale(0.95 1)" text-anchor="middle" class="t">30</text>
<text transform="translate(548.4 1041.9) scale(0.95 1)" text-anchor="middle" class="t">40</text>
<text transform="translate(662.2 1041.9) scale(0.95 1)" text-anchor="middle" class="t">50</text>
<path d="M1458.9 1008.9v-8.2M1572.7 1008.9v-8.2M1686.4 1008.9v-8.2M1800.2 1008.9v-8.2M1913.9 1008.9v-8.2M2027.7 1008.9v-8.2M1515.8 1008.9v-4.4M1629.5 1008.9v-4.4M1743.3 1008.9v-4.4M1857.1 1008.9v-4.4M1970.8 1008.9v-4.4" stroke="#000" stroke-width="1.8" fill="none"/>
<text transform="translate(1458.9 1041.9) scale(0.95 1)" text-anchor="middle" class="t">0</text>
<text transform="translate(1572.7 1041.9) scale(0.95 1)" text-anchor="middle" class="t">10</text>
<text transform="translate(1686.4 1041.9) scale(0.95 1)" text-anchor="middle" class="t">20</text>
<text transform="translate(1800.2 1041.9) scale(0.95 1)" text-anchor="middle" class="t">30</text>
<text transform="translate(1913.9 1041.9) scale(0.95 1)" text-anchor="middle" class="t">40</text>
<text transform="translate(2027.7 1041.9) scale(0.95 1)" text-anchor="middle" class="t">50</text>
<path d="M93.4 1544.1v-8.2M207.2 1544.1v-8.2M320.9 1544.1v-8.2M434.7 1544.1v-8.2M548.4 1544.1v-8.2M662.2 1544.1v-8.2M150.3 1544.1v-4.4M264.0 1544.1v-4.4M377.8 1544.1v-4.4M491.6 1544.1v-4.4M605.3 1544.1v-4.4" stroke="#000" stroke-width="1.8" fill="none"/>
<text transform="translate(93.4 1577.1) scale(0.95 1)" text-anchor="middle" class="t">0</text>
<text transform="translate(207.2 1577.1) scale(0.95 1)" text-anchor="middle" class="t">10</text>
<text transform="translate(320.9 1577.1) scale(0.95 1)" text-anchor="middle" class="t">20</text>
<text transform="translate(434.7 1577.1) scale(0.95 1)" text-anchor="middle" class="t">30</text>
<text transform="translate(548.4 1577.1) scale(0.95 1)" text-anchor="middle" class="t">40</text>
<text transform="translate(662.2 1577.1) scale(0.95 1)" text-anchor="middle" class="t">50</text>
<path d="M93.4 462.5h8.2M662.2 462.5h-8.2M93.4 407.0h8.2M662.2 407.0h-8.2M93.4 351.4h8.2M662.2 351.4h-8.2M93.4 295.9h8.2M662.2 295.9h-8.2M93.4 240.3h8.2M662.2 240.3h-8.2M93.4 184.8h8.2M662.2 184.8h-8.2M93.4 129.3h8.2M662.2 129.3h-8.2M93.4 73.7h8.2M662.2 73.7h-8.2M93.4 18.2h8.2M662.2 18.2h-8.2M93.4 434.7h4.4M662.2 434.7h-4.4M93.4 379.2h4.4M662.2 379.2h-4.4M93.4 323.7h4.4M662.2 323.7h-4.4M93.4 268.1h4.4M662.2 268.1h-4.4M93.4 212.6h4.4M662.2 212.6h-4.4M93.4 157.0h4.4M662.2 157.0h-4.4M93.4 101.5h4.4M662.2 101.5h-4.4M93.4 46.0h4.4M662.2 46.0h-4.4" stroke="#000" stroke-width="1.8" fill="none"/>
<text transform="translate(83.1 471.5) scale(0.95 1)" text-anchor="end" class="t">0</text>
<text transform="translate(83.1 416.0) scale(0.95 1)" text-anchor="end" class="t">1</text>
<text transform="translate(83.1 360.4) scale(0.95 1)" text-anchor="end" class="t">2</text>
<text transform="translate(83.1 304.9) scale(0.95 1)" text-anchor="end" class="t">3</text>
<text transform="translate(83.1 249.3) scale(0.95 1)" text-anchor="end" class="t">4</text>
<text transform="translate(83.1 193.8) scale(0.95 1)" text-anchor="end" class="t">5</text>
<text transform="translate(83.1 138.3) scale(0.95 1)" text-anchor="end" class="t">6</text>
<text transform="translate(83.1 82.7) scale(0.95 1)" text-anchor="end" class="t">7</text>
<text transform="translate(83.1 27.2) scale(0.95 1)" text-anchor="end" class="t">8</text>
<path d="M776.3 473.6h8.2M1345.1 473.6h-8.2M776.3 397.7h8.2M1345.1 397.7h-8.2M776.3 321.8h8.2M1345.1 321.8h-8.2M776.3 245.9h8.2M1345.1 245.9h-8.2M776.3 170.0h8.2M1345.1 170.0h-8.2M776.3 94.1h8.2M1345.1 94.1h-8.2M776.3 18.2h8.2M1345.1 18.2h-8.2M776.3 435.6h4.4M1345.1 435.6h-4.4M776.3 359.8h4.4M1345.1 359.8h-4.4M776.3 283.8h4.4M1345.1 283.8h-4.4M776.3 207.9h4.4M1345.1 207.9h-4.4M776.3 132.1h4.4M1345.1 132.1h-4.4M776.3 56.1h4.4M1345.1 56.1h-4.4" stroke="#000" stroke-width="1.8" fill="none"/>
<text transform="translate(766.0 482.6) scale(0.95 1)" text-anchor="end" class="t">0</text>
<text transform="translate(766.0 406.7) scale(0.95 1)" text-anchor="end" class="t">5</text>
<text transform="translate(766.0 330.8) scale(0.95 1)" text-anchor="end" class="t">10</text>
<text transform="translate(766.0 254.9) scale(0.95 1)" text-anchor="end" class="t">15</text>
<text transform="translate(766.0 179.0) scale(0.95 1)" text-anchor="end" class="t">20</text>
<text transform="translate(766.0 103.1) scale(0.95 1)" text-anchor="end" class="t">25</text>
<text transform="translate(766.0 27.2) scale(0.95 1)" text-anchor="end" class="t">30</text>
<path d="M1458.9 473.6h8.2M2027.7 473.6h-8.2M1458.9 397.7h8.2M2027.7 397.7h-8.2M1458.9 321.8h8.2M2027.7 321.8h-8.2M1458.9 245.9h8.2M2027.7 245.9h-8.2M1458.9 170.0h8.2M2027.7 170.0h-8.2M1458.9 94.1h8.2M2027.7 94.1h-8.2M1458.9 18.2h8.2M2027.7 18.2h-8.2M1458.9 435.6h4.4M2027.7 435.6h-4.4M1458.9 359.8h4.4M2027.7 359.8h-4.4M1458.9 283.8h4.4M2027.7 283.8h-4.4M1458.9 207.9h4.4M2027.7 207.9h-4.4M1458.9 132.1h4.4M2027.7 132.1h-4.4M1458.9 56.1h4.4M2027.7 56.1h-4.4" stroke="#000" stroke-width="1.8" fill="none"/>
<text transform="translate(1448.6 482.6) scale(0.95 1)" text-anchor="end" class="t">0</text>
<text transform="translate(1448.6 406.7) scale(0.95 1)" text-anchor="end" class="t">5</text>
<text transform="translate(1448.6 330.8) scale(0.95 1)" text-anchor="end" class="t">10</text>
<text transform="translate(1448.6 254.9) scale(0.95 1)" text-anchor="end" class="t">15</text>
<text transform="translate(1448.6 179.0) scale(0.95 1)" text-anchor="end" class="t">20</text>
<text transform="translate(1448.6 103.1) scale(0.95 1)" text-anchor="end" class="t">25</text>
<text transform="translate(1448.6 27.2) scale(0.95 1)" text-anchor="end" class="t">30</text>
<path d="M93.4 1008.9h8.2M662.2 1008.9h-8.2M93.4 933.0h8.2M662.2 933.0h-8.2M93.4 857.1h8.2M662.2 857.1h-8.2M93.4 781.2h8.2M662.2 781.2h-8.2M93.4 705.3h8.2M662.2 705.3h-8.2M93.4 629.4h8.2M662.2 629.4h-8.2M93.4 553.5h8.2M662.2 553.5h-8.2M93.4 983.6h4.4M662.2 983.6h-4.4M93.4 958.3h4.4M662.2 958.3h-4.4M93.4 907.7h4.4M662.2 907.7h-4.4M93.4 882.4h4.4M662.2 882.4h-4.4M93.4 831.8h4.4M662.2 831.8h-4.4M93.4 806.5h4.4M662.2 806.5h-4.4M93.4 755.9h4.4M662.2 755.9h-4.4M93.4 730.6h4.4M662.2 730.6h-4.4M93.4 680.0h4.4M662.2 680.0h-4.4M93.4 654.7h4.4M662.2 654.7h-4.4M93.4 604.1h4.4M662.2 604.1h-4.4M93.4 578.8h4.4M662.2 578.8h-4.4" stroke="#000" stroke-width="1.8" fill="none"/>
<text transform="translate(83.1 1017.9) scale(0.95 1)" text-anchor="end" class="t">0</text>
<text transform="translate(83.1 942.0) scale(0.95 1)" text-anchor="end" class="t">3</text>
<text transform="translate(83.1 866.1) scale(0.95 1)" text-anchor="end" class="t">6</text>
<text transform="translate(83.1 790.2) scale(0.95 1)" text-anchor="end" class="t">9</text>
<text transform="translate(83.1 714.3) scale(0.95 1)" text-anchor="end" class="t">12</text>
<text transform="translate(83.1 638.4) scale(0.95 1)" text-anchor="end" class="t">15</text>
<text transform="translate(83.1 562.5) scale(0.95 1)" text-anchor="end" class="t">18</text>
<path d="M776.3 948.7h8.2M1345.1 948.7h-8.2M776.3 817.0h8.2M1345.1 817.0h-8.2M776.3 685.2h8.2M1345.1 685.2h-8.2M776.3 553.5h8.2M1345.1 553.5h-8.2M776.3 1001.1h4.4M1345.1 1001.1h-4.4M776.3 988.3h4.4M1345.1 988.3h-4.4M776.3 977.9h4.4M1345.1 977.9h-4.4M776.3 969.1h4.4M1345.1 969.1h-4.4M776.3 961.4h4.4M1345.1 961.4h-4.4M776.3 954.7h4.4M1345.1 954.7h-4.4M776.3 909.0h4.4M1345.1 909.0h-4.4M776.3 885.8h4.4M1345.1 885.8h-4.4M776.3 869.4h4.4M1345.1 869.4h-4.4M776.3 856.6h4.4M1345.1 856.6h-4.4M776.3 846.2h4.4M1345.1 846.2h-4.4M776.3 837.4h4.4M1345.1 837.4h-4.4M776.3 829.7h4.4M1345.1 829.7h-4.4M776.3 823.0h4.4M1345.1 823.0h-4.4M776.3 777.3h4.4M1345.1 777.3h-4.4M776.3 754.1h4.4M1345.1 754.1h-4.4M776.3 737.6h4.4M1345.1 737.6h-4.4M776.3 724.9h4.4M1345.1 724.9h-4.4M776.3 714.4h4.4M1345.1 714.4h-4.4M776.3 705.6h4.4M1345.1 705.6h-4.4M776.3 698.0h4.4M1345.1 698.0h-4.4M776.3 691.3h4.4M1345.1 691.3h-4.4M776.3 645.6h4.4M1345.1 645.6h-4.4M776.3 622.4h4.4M1345.1 622.4h-4.4M776.3 605.9h4.4M1345.1 605.9h-4.4M776.3 593.2h4.4M1345.1 593.2h-4.4M776.3 582.7h4.4M1345.1 582.7h-4.4M776.3 573.9h4.4M1345.1 573.9h-4.4M776.3 566.3h4.4M1345.1 566.3h-4.4M776.3 559.5h4.4M1345.1 559.5h-4.4" stroke="#000" stroke-width="1.8" fill="none"/>
<text transform="translate(766.0 960.3) scale(0.95 1)" text-anchor="end" class="t">10<tspan dy="-13.4" font-size="21.7">0</tspan></text>
<text transform="translate(766.0 828.6) scale(0.95 1)" text-anchor="end" class="t">10<tspan dy="-13.4" font-size="21.7">1</tspan></text>
<text transform="translate(766.0 696.8) scale(0.95 1)" text-anchor="end" class="t">10<tspan dy="-13.4" font-size="21.7">2</tspan></text>
<text transform="translate(766.0 565.1) scale(0.95 1)" text-anchor="end" class="t">10<tspan dy="-13.4" font-size="21.7">3</tspan></text>
<path d="M790.4 1008.9v-8.2M832.4 1008.9v-8.2M874.3 1008.9v-8.2M916.3 1008.9v-8.2M958.3 1008.9v-8.2M1000.2 1008.9v-8.2M1042.2 1008.9v-8.2M1084.2 1008.9v-8.2M1126.1 1008.9v-8.2M1168.1 1008.9v-8.2M1210.1 1008.9v-8.2M1252.0 1008.9v-8.2M1294.0 1008.9v-8.2M1336.0 1008.9v-8.2" stroke="#000" stroke-width="1.8" fill="none"/>
<text transform="translate(790.4 1041.9) scale(0.95 1)" text-anchor="middle" class="t">La</text>
<text transform="translate(832.4 1041.9) scale(0.95 1)" text-anchor="middle" class="t">Ce</text>
<text transform="translate(874.3 1041.9) scale(0.95 1)" text-anchor="middle" class="t">Pr</text>
<text transform="translate(916.3 1041.9) scale(0.95 1)" text-anchor="middle" class="t">Nd</text>
<text transform="translate(958.3 1041.9) scale(0.95 1)" text-anchor="middle" class="t">Sm</text>
<text transform="translate(1000.2 1041.9) scale(0.95 1)" text-anchor="middle" class="t">Eu</text>
<text transform="translate(1042.2 1041.9) scale(0.95 1)" text-anchor="middle" class="t">Gd</text>
<text transform="translate(1084.2 1041.9) scale(0.95 1)" text-anchor="middle" class="t">Tb</text>
<text transform="translate(1126.1 1041.9) scale(0.95 1)" text-anchor="middle" class="t">Dy</text>
<text transform="translate(1168.1 1041.9) scale(0.95 1)" text-anchor="middle" class="t">Ho</text>
<text transform="translate(1210.1 1041.9) scale(0.95 1)" text-anchor="middle" class="t">Er</text>
<text transform="translate(1252.0 1041.9) scale(0.95 1)" text-anchor="middle" class="t">Tm</text>
<text transform="translate(1294.0 1041.9) scale(0.95 1)" text-anchor="middle" class="t">Yb</text>
<text transform="translate(1336.0 1041.9) scale(0.95 1)" text-anchor="middle" class="t">Lu</text>
<path d="M1458.9 1008.9h8.2M2027.7 1008.9h-8.2M1458.9 857.1h8.2M2027.7 857.1h-8.2M1458.9 705.3h8.2M2027.7 705.3h-8.2M1458.9 553.5h8.2M2027.7 553.5h-8.2M1458.9 963.2h4.4M2027.7 963.2h-4.4M1458.9 936.5h4.4M2027.7 936.5h-4.4M1458.9 917.5h4.4M2027.7 917.5h-4.4M1458.9 902.8h4.4M2027.7 902.8h-4.4M1458.9 890.8h4.4M2027.7 890.8h-4.4M1458.9 880.6h4.4M2027.7 880.6h-4.4M1458.9 871.8h4.4M2027.7 871.8h-4.4M1458.9 864.0h4.4M2027.7 864.0h-4.4M1458.9 811.4h4.4M2027.7 811.4h-4.4M1458.9 784.7h4.4M2027.7 784.7h-4.4M1458.9 765.7h4.4M2027.7 765.7h-4.4M1458.9 751.0h4.4M2027.7 751.0h-4.4M1458.9 739.0h4.4M2027.7 739.0h-4.4M1458.9 728.8h4.4M2027.7 728.8h-4.4M1458.9 720.0h4.4M2027.7 720.0h-4.4M1458.9 712.2h4.4M2027.7 712.2h-4.4M1458.9 659.6h4.4M2027.7 659.6h-4.4M1458.9 632.9h4.4M2027.7 632.9h-4.4M1458.9 613.9h4.4M2027.7 613.9h-4.4M1458.9 599.2h4.4M2027.7 599.2h-4.4M1458.9 587.2h4.4M2027.7 587.2h-4.4M1458.9 577.0h4.4M2027.7 577.0h-4.4M1458.9 568.2h4.4M2027.7 568.2h-4.4M1458.9 560.4h4.4M2027.7 560.4h-4.4" stroke="#000" stroke-width="1.8" fill="none"/>
<text transform="translate(1448.6 1020.5) scale(0.95 1)" text-anchor="end" class="t">10<tspan dy="-13.4" font-size="21.7">0</tspan></text>
<text transform="translate(1448.6 868.7) scale(0.95 1)" text-anchor="end" class="t">10<tspan dy="-13.4" font-size="21.7">1</tspan></text>
<text transform="translate(1448.6 716.9) scale(0.95 1)" text-anchor="end" class="t">10<tspan dy="-13.4" font-size="21.7">2</tspan></text>
<text transform="translate(1448.6 565.1) scale(0.95 1)" text-anchor="end" class="t">10<tspan dy="-13.4" font-size="21.7">3</tspan></text>
<path d="M93.4 1544.1h8.2M662.2 1544.1h-8.2M93.4 1392.3h8.2M662.2 1392.3h-8.2M93.4 1240.5h8.2M662.2 1240.5h-8.2M93.4 1088.7h8.2M662.2 1088.7h-8.2M93.4 1498.4h4.4M662.2 1498.4h-4.4M93.4 1471.7h4.4M662.2 1471.7h-4.4M93.4 1452.7h4.4M662.2 1452.7h-4.4M93.4 1438.0h4.4M662.2 1438.0h-4.4M93.4 1426.0h4.4M662.2 1426.0h-4.4M93.4 1415.8h4.4M662.2 1415.8h-4.4M93.4 1407.0h4.4M662.2 1407.0h-4.4M93.4 1399.2h4.4M662.2 1399.2h-4.4M93.4 1346.6h4.4M662.2 1346.6h-4.4M93.4 1319.9h4.4M662.2 1319.9h-4.4M93.4 1300.9h4.4M662.2 1300.9h-4.4M93.4 1286.2h4.4M662.2 1286.2h-4.4M93.4 1274.2h4.4M662.2 1274.2h-4.4M93.4 1264.0h4.4M662.2 1264.0h-4.4M93.4 1255.2h4.4M662.2 1255.2h-4.4M93.4 1247.4h4.4M662.2 1247.4h-4.4M93.4 1194.8h4.4M662.2 1194.8h-4.4M93.4 1168.1h4.4M662.2 1168.1h-4.4M93.4 1149.1h4.4M662.2 1149.1h-4.4M93.4 1134.4h4.4M662.2 1134.4h-4.4M93.4 1122.4h4.4M662.2 1122.4h-4.4M93.4 1112.2h4.4M662.2 1112.2h-4.4M93.4 1103.4h4.4M662.2 1103.4h-4.4M93.4 1095.6h4.4M662.2 1095.6h-4.4" stroke="#000" stroke-width="1.8" fill="none"/>
<text transform="translate(83.1 1555.7) scale(0.95 1)" text-anchor="end" class="t">10<tspan dy="-13.4" font-size="21.7">0</tspan></text>
<text transform="translate(83.1 1403.9) scale(0.95 1)" text-anchor="end" class="t">10<tspan dy="-13.4" font-size="21.7">1</tspan></text>
<text transform="translate(83.1 1252.1) scale(0.95 1)" text-anchor="end" class="t">10<tspan dy="-13.4" font-size="21.7">2</tspan></text>
<text transform="translate(83.1 1100.3) scale(0.95 1)" text-anchor="end" class="t">10<tspan dy="-13.4" font-size="21.7">3</tspan></text>
<path d="M776.3 1544.1h8.2M1345.1 1544.1h-8.2M776.3 1453.0h8.2M1345.1 1453.0h-8.2M776.3 1361.9h8.2M1345.1 1361.9h-8.2M776.3 1270.9h8.2M1345.1 1270.9h-8.2M776.3 1179.8h8.2M1345.1 1179.8h-8.2M776.3 1088.7h8.2M1345.1 1088.7h-8.2M776.3 1516.7h4.4M1345.1 1516.7h-4.4M776.3 1500.6h4.4M1345.1 1500.6h-4.4M776.3 1489.3h4.4M1345.1 1489.3h-4.4M776.3 1480.4h4.4M1345.1 1480.4h-4.4M776.3 1473.2h4.4M1345.1 1473.2h-4.4M776.3 1467.1h4.4M1345.1 1467.1h-4.4M776.3 1461.8h4.4M1345.1 1461.8h-4.4M776.3 1457.2h4.4M1345.1 1457.2h-4.4M776.3 1425.6h4.4M1345.1 1425.6h-4.4M776.3 1409.6h4.4M1345.1 1409.6h-4.4M776.3 1398.2h4.4M1345.1 1398.2h-4.4M776.3 1389.4h4.4M1345.1 1389.4h-4.4M776.3 1382.1h4.4M1345.1 1382.1h-4.4M776.3 1376.0h4.4M1345.1 1376.0h-4.4M776.3 1370.8h4.4M1345.1 1370.8h-4.4M776.3 1366.1h4.4M1345.1 1366.1h-4.4M776.3 1334.5h4.4M1345.1 1334.5h-4.4M776.3 1318.5h4.4M1345.1 1318.5h-4.4M776.3 1307.1h4.4M1345.1 1307.1h-4.4M776.3 1298.3h4.4M1345.1 1298.3h-4.4M776.3 1291.1h4.4M1345.1 1291.1h-4.4M776.3 1285.0h4.4M1345.1 1285.0h-4.4M776.3 1279.7h4.4M1345.1 1279.7h-4.4M776.3 1275.0h4.4M1345.1 1275.0h-4.4M776.3 1243.4h4.4M1345.1 1243.4h-4.4M776.3 1227.4h4.4M1345.1 1227.4h-4.4M776.3 1216.0h4.4M1345.1 1216.0h-4.4M776.3 1207.2h4.4M1345.1 1207.2h-4.4M776.3 1200.0h4.4M1345.1 1200.0h-4.4M776.3 1193.9h4.4M1345.1 1193.9h-4.4M776.3 1188.6h4.4M1345.1 1188.6h-4.4M776.3 1183.9h4.4M1345.1 1183.9h-4.4M776.3 1152.4h4.4M1345.1 1152.4h-4.4M776.3 1136.3h4.4M1345.1 1136.3h-4.4M776.3 1124.9h4.4M1345.1 1124.9h-4.4M776.3 1116.1h4.4M1345.1 1116.1h-4.4M776.3 1108.9h4.4M1345.1 1108.9h-4.4M776.3 1102.8h4.4M1345.1 1102.8h-4.4M776.3 1097.5h4.4M1345.1 1097.5h-4.4M776.3 1092.9h4.4M1345.1 1092.9h-4.4" stroke="#000" stroke-width="1.8" fill="none"/>
<text transform="translate(766.0 1555.7) scale(0.95 1)" text-anchor="end" class="t">10<tspan dy="-13.4" font-size="21.7">−1</tspan></text>
<text transform="translate(766.0 1464.6) scale(0.95 1)" text-anchor="end" class="t">10<tspan dy="-13.4" font-size="21.7">0</tspan></text>
<text transform="translate(766.0 1373.5) scale(0.95 1)" text-anchor="end" class="t">10<tspan dy="-13.4" font-size="21.7">1</tspan></text>
<text transform="translate(766.0 1282.5) scale(0.95 1)" text-anchor="end" class="t">10<tspan dy="-13.4" font-size="21.7">2</tspan></text>
<text transform="translate(766.0 1191.4) scale(0.95 1)" text-anchor="end" class="t">10<tspan dy="-13.4" font-size="21.7">3</tspan></text>
<text transform="translate(766.0 1100.3) scale(0.95 1)" text-anchor="end" class="t">10<tspan dy="-13.4" font-size="21.7">4</tspan></text>
<path d="M776.3 1544.1v-8.2M965.9 1544.1v-8.2M1155.5 1544.1v-8.2M1345.1 1544.1v-8.2M833.4 1544.1v-4.4M866.8 1544.1v-4.4M890.5 1544.1v-4.4M908.8 1544.1v-4.4M923.8 1544.1v-4.4M936.5 1544.1v-4.4M947.5 1544.1v-4.4M957.2 1544.1v-4.4M1023.0 1544.1v-4.4M1056.4 1544.1v-4.4M1080.1 1544.1v-4.4M1098.4 1544.1v-4.4M1113.4 1544.1v-4.4M1126.1 1544.1v-4.4M1137.1 1544.1v-4.4M1146.8 1544.1v-4.4M1212.6 1544.1v-4.4M1246.0 1544.1v-4.4M1269.7 1544.1v-4.4M1288.0 1544.1v-4.4M1303.0 1544.1v-4.4M1315.7 1544.1v-4.4M1326.7 1544.1v-4.4M1336.4 1544.1v-4.4" stroke="#000" stroke-width="1.8" fill="none"/>
<text transform="translate(776.3 1582.3) scale(0.95 1)" text-anchor="middle" class="t">10<tspan dy="-13.4" font-size="21.7">0</tspan></text>
<text transform="translate(965.9 1582.3) scale(0.95 1)" text-anchor="middle" class="t">10<tspan dy="-13.4" font-size="21.7">1</tspan></text>
<text transform="translate(1155.5 1582.3) scale(0.95 1)" text-anchor="middle" class="t">10<tspan dy="-13.4" font-size="21.7">2</tspan></text>
<text transform="translate(1345.1 1582.3) scale(0.95 1)" text-anchor="middle" class="t">10<tspan dy="-13.4" font-size="21.7">3</tspan></text>
<path d="M1458.9 1544.1v-8.2M1572.7 1544.1v-8.2M1686.4 1544.1v-8.2M1800.2 1544.1v-8.2M1913.9 1544.1v-8.2M2027.7 1544.1v-8.2M1515.8 1544.1v-4.4M1629.5 1544.1v-4.4M1743.3 1544.1v-4.4M1857.1 1544.1v-4.4M1970.8 1544.1v-4.4" stroke="#000" stroke-width="1.8" fill="none"/>
<text transform="translate(1458.9 1577.1) scale(0.95 1)" text-anchor="middle" class="t">0.0</text>
<text transform="translate(1572.7 1577.1) scale(0.95 1)" text-anchor="middle" class="t">0.4</text>
<text transform="translate(1686.4 1577.1) scale(0.95 1)" text-anchor="middle" class="t">0.8</text>
<text transform="translate(1800.2 1577.1) scale(0.95 1)" text-anchor="middle" class="t">1.2</text>
<text transform="translate(1913.9 1577.1) scale(0.95 1)" text-anchor="middle" class="t">1.6</text>
<text transform="translate(2027.7 1577.1) scale(0.95 1)" text-anchor="middle" class="t">2.0</text>
<path d="M1458.9 1544.1h8.2M2027.7 1544.1h-8.2M1458.9 1453.0h8.2M2027.7 1453.0h-8.2M1458.9 1361.9h8.2M2027.7 1361.9h-8.2M1458.9 1270.9h8.2M2027.7 1270.9h-8.2M1458.9 1179.8h8.2M2027.7 1179.8h-8.2M1458.9 1088.7h8.2M2027.7 1088.7h-8.2M1458.9 1498.6h4.4M2027.7 1498.6h-4.4M1458.9 1407.5h4.4M2027.7 1407.5h-4.4M1458.9 1316.4h4.4M2027.7 1316.4h-4.4M1458.9 1225.3h4.4M2027.7 1225.3h-4.4M1458.9 1134.2h4.4M2027.7 1134.2h-4.4" stroke="#000" stroke-width="1.8" fill="none"/>
<text transform="translate(1448.6 1553.1) scale(0.95 1)" text-anchor="end" class="t">0</text>
<text transform="translate(1448.6 1462.0) scale(0.95 1)" text-anchor="end" class="t">1</text>
<text transform="translate(1448.6 1370.9) scale(0.95 1)" text-anchor="end" class="t">2</text>
<text transform="translate(1448.6 1279.9) scale(0.95 1)" text-anchor="end" class="t">3</text>
<text transform="translate(1448.6 1188.8) scale(0.95 1)" text-anchor="end" class="t">4</text>
<text transform="translate(1448.6 1097.7) scale(0.95 1)" text-anchor="end" class="t">5</text>
<rect x="93.4" y="18.2" width="568.8" height="455.4" fill="none" stroke="#000" stroke-width="2.7"/>
<rect x="776.3" y="18.2" width="568.8" height="455.4" fill="none" stroke="#000" stroke-width="2.7"/>
<rect x="1458.9" y="18.2" width="568.8" height="455.4" fill="none" stroke="#000" stroke-width="2.7"/>
<rect x="93.4" y="553.5" width="568.8" height="455.4" fill="none" stroke="#000" stroke-width="2.7"/>
<rect x="776.3" y="553.5" width="568.8" height="455.4" fill="none" stroke="#000" stroke-width="2.7"/>
<rect x="1458.9" y="553.5" width="568.8" height="455.4" fill="none" stroke="#000" stroke-width="2.7"/>
<rect x="93.4" y="1088.7" width="568.8" height="455.4" fill="none" stroke="#000" stroke-width="2.7"/>
<rect x="776.3" y="1088.7" width="568.8" height="455.4" fill="none" stroke="#000" stroke-width="2.7"/>
<rect x="1458.9" y="1088.7" width="568.8" height="455.4" fill="none" stroke="#000" stroke-width="2.7"/>
<text transform="translate(108.0 59.4) scale(0.9 1)" class="L">A</text>
<text transform="translate(787.9 57.0) scale(0.9 1)" class="L">B</text>
<text transform="translate(1475.6 56.8) scale(0.9 1)" class="L">C</text>
<text transform="translate(101.0 590.5) scale(0.9 1)" class="L">D</text>
<text transform="translate(788.0 586.3) scale(0.9 1)" class="L">E</text>
<text transform="translate(1472.5 589.4) scale(0.9 1)" class="L">F</text>
<text transform="translate(101.7 1125.7) scale(0.9 1)" class="L">G</text>
<text transform="translate(788.1 1123.4) scale(0.9 1)" class="L">H</text>
<text transform="translate(1474.7 1122.6) scale(0.9 1)" class="L">I</text>
<text x="371.0" y="538.9" text-anchor="middle" class="t" textLength="156.6" lengthAdjust="spacingAndGlyphs">MgO (wt.%)</text>
<text x="1058.1" y="538.5" text-anchor="middle" class="t" textLength="156.6" lengthAdjust="spacingAndGlyphs">MgO (wt.%)</text>
<text x="1744.2" y="539.0" text-anchor="middle" class="t" textLength="156.6" lengthAdjust="spacingAndGlyphs">MgO (wt.%)</text>
<text x="385.2" y="1074.6" text-anchor="middle" class="t" textLength="156.6" lengthAdjust="spacingAndGlyphs">MgO (wt.%)</text>
<text x="1746.7" y="1074.6" text-anchor="middle" class="t" textLength="156.6" lengthAdjust="spacingAndGlyphs">MgO (wt.%)</text>
<text x="379.6" y="1612.9" text-anchor="middle" class="t" textLength="156.6" lengthAdjust="spacingAndGlyphs">MgO (wt.%)</text>
<text x="1049.6" y="1614.9" text-anchor="middle" class="t" textLength="124.6" lengthAdjust="spacingAndGlyphs">Co (ppm)</text>
<text x="1743.0" y="1613.4" text-anchor="middle" class="t" textLength="139.7" lengthAdjust="spacingAndGlyphs">CaO/Al<tspan dy="9.0" font-size="20.5">2</tspan><tspan dy="-9.0" font-size="1">&#8203;</tspan>O<tspan dy="9.0" font-size="20.5">3</tspan><tspan dy="-9.0" font-size="1">&#8203;</tspan></text>
<text transform="translate(48.7,246.0) rotate(-90)" text-anchor="middle" class="t" textLength="147.6" lengthAdjust="spacingAndGlyphs">TiO<tspan dy="9.0" font-size="20.5">2</tspan><tspan dy="-9.0" font-size="1">&#8203;</tspan> (wt.%)</text>
<text transform="translate(721.7,245.0) rotate(-90)" text-anchor="middle" class="t" textLength="161.3" lengthAdjust="spacingAndGlyphs">Al<tspan dy="9.0" font-size="20.5">2</tspan><tspan dy="-9.0" font-size="1">&#8203;</tspan>O<tspan dy="9.0" font-size="20.5">3</tspan><tspan dy="-9.0" font-size="1">&#8203;</tspan> (wt.%)</text>
<text transform="translate(1402.4,245.4) rotate(-90)" text-anchor="middle" class="t" textLength="141.4" lengthAdjust="spacingAndGlyphs">FeO (wt.%)</text>
<text transform="translate(36.9,780.6) rotate(-90)" text-anchor="middle" class="t" textLength="144.3" lengthAdjust="spacingAndGlyphs">CaO (wt.%)</text>
<text transform="translate(711.8,780.3) rotate(-90)" text-anchor="middle" class="t" textLength="248.0" lengthAdjust="spacingAndGlyphs">Sample/Chondrite</text>
<text transform="translate(1400.4,780.3) rotate(-90)" text-anchor="middle" class="t" textLength="117.3" lengthAdjust="spacingAndGlyphs">Sc (ppm)</text>
<text transform="translate(26.7,1315.1) rotate(-90)" text-anchor="middle" class="t" textLength="127.6" lengthAdjust="spacingAndGlyphs">Co (ppm)</text>
<text transform="translate(711.0,1315.5) rotate(-90)" text-anchor="middle" class="t" textLength="116.5" lengthAdjust="spacingAndGlyphs">Ni (ppm)</text>
<text transform="translate(1410.4,1316.0) rotate(-90)" text-anchor="middle" class="t" textLength="148.3" lengthAdjust="spacingAndGlyphs">MgO/Al<tspan dy="9.0" font-size="20.5">2</tspan><tspan dy="-9.0" font-size="1">&#8203;</tspan>O<tspan dy="9.0" font-size="20.5">3</tspan><tspan dy="-9.0" font-size="1">&#8203;</tspan></text>
</svg></body></html>
